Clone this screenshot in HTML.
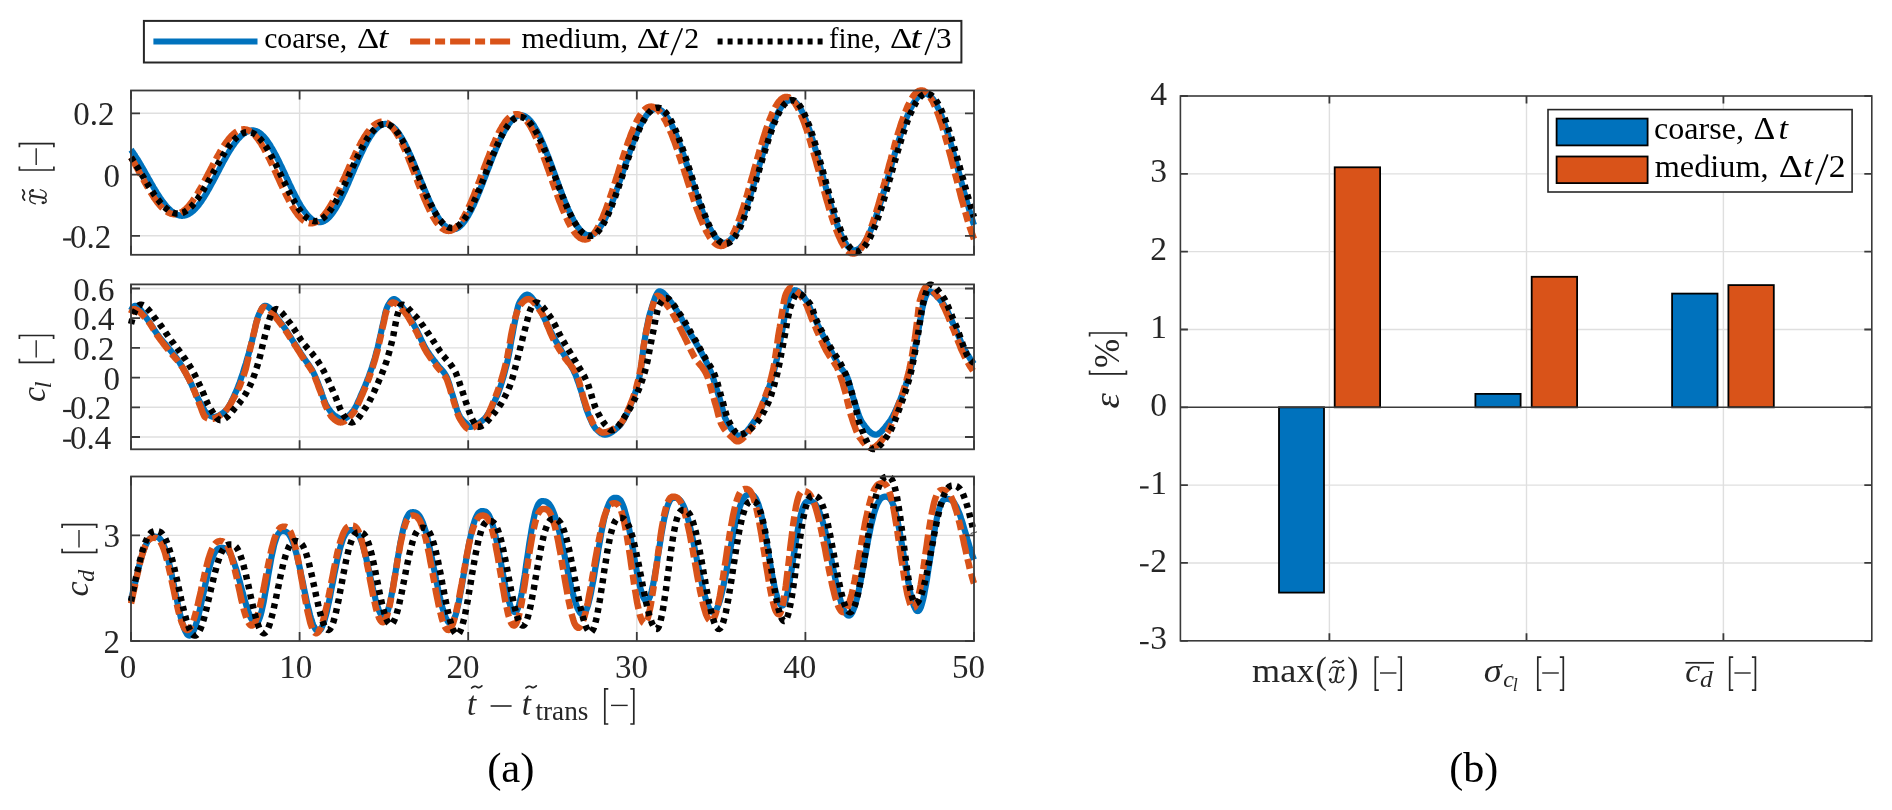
<!DOCTYPE html><html><head><meta charset="utf-8"><style>html,body{margin:0;padding:0;background:#fff;}svg{display:block;will-change:transform;}</style></head><body><svg width="1892" height="810" viewBox="0 0 1892 810">
<rect x="0" y="0" width="1892" height="810" fill="#ffffff"/>
<line x1="299.6" y1="90.5" x2="299.6" y2="254.8" stroke="#DFDFDF" stroke-width="1.4"/>
<line x1="468.2" y1="90.5" x2="468.2" y2="254.8" stroke="#DFDFDF" stroke-width="1.4"/>
<line x1="636.8" y1="90.5" x2="636.8" y2="254.8" stroke="#DFDFDF" stroke-width="1.4"/>
<line x1="805.4" y1="90.5" x2="805.4" y2="254.8" stroke="#DFDFDF" stroke-width="1.4"/>
<line x1="131.0" y1="113.3" x2="974.0" y2="113.3" stroke="#DFDFDF" stroke-width="1.4"/>
<line x1="131.0" y1="174.6" x2="974.0" y2="174.6" stroke="#DFDFDF" stroke-width="1.4"/>
<line x1="131.0" y1="235.8" x2="974.0" y2="235.8" stroke="#DFDFDF" stroke-width="1.4"/>
<line x1="299.6" y1="284.4" x2="299.6" y2="449.3" stroke="#DFDFDF" stroke-width="1.4"/>
<line x1="468.2" y1="284.4" x2="468.2" y2="449.3" stroke="#DFDFDF" stroke-width="1.4"/>
<line x1="636.8" y1="284.4" x2="636.8" y2="449.3" stroke="#DFDFDF" stroke-width="1.4"/>
<line x1="805.4" y1="284.4" x2="805.4" y2="449.3" stroke="#DFDFDF" stroke-width="1.4"/>
<line x1="131.0" y1="288.5" x2="974.0" y2="288.5" stroke="#DFDFDF" stroke-width="1.4"/>
<line x1="131.0" y1="318.2" x2="974.0" y2="318.2" stroke="#DFDFDF" stroke-width="1.4"/>
<line x1="131.0" y1="347.9" x2="974.0" y2="347.9" stroke="#DFDFDF" stroke-width="1.4"/>
<line x1="131.0" y1="377.6" x2="974.0" y2="377.6" stroke="#DFDFDF" stroke-width="1.4"/>
<line x1="131.0" y1="407.3" x2="974.0" y2="407.3" stroke="#DFDFDF" stroke-width="1.4"/>
<line x1="131.0" y1="437.0" x2="974.0" y2="437.0" stroke="#DFDFDF" stroke-width="1.4"/>
<line x1="299.6" y1="476.5" x2="299.6" y2="641.0" stroke="#DFDFDF" stroke-width="1.4"/>
<line x1="468.2" y1="476.5" x2="468.2" y2="641.0" stroke="#DFDFDF" stroke-width="1.4"/>
<line x1="636.8" y1="476.5" x2="636.8" y2="641.0" stroke="#DFDFDF" stroke-width="1.4"/>
<line x1="805.4" y1="476.5" x2="805.4" y2="641.0" stroke="#DFDFDF" stroke-width="1.4"/>
<line x1="131.0" y1="535.4" x2="974.0" y2="535.4" stroke="#DFDFDF" stroke-width="1.4"/>
<defs>
<clipPath id="c0"><rect x="128.0" y="82.5" width="849.0" height="180.3"/></clipPath>
<clipPath id="c1"><rect x="128.0" y="276.4" width="849.0" height="180.90000000000003"/></clipPath>
<clipPath id="c2"><rect x="128.0" y="468.5" width="849.0" height="180.5"/></clipPath>
</defs>
<polyline points="131.0,149.8 131.8,150.8 132.5,151.9 133.2,152.9 134.0,154.0 134.8,155.1 135.5,156.3 136.2,157.4 137.0,158.6 137.8,159.8 138.5,161.1 139.2,162.3 140.0,163.5 140.8,164.8 141.5,166.1 142.2,167.4 143.0,168.7 143.8,170.0 144.5,171.3 145.2,172.7 146.0,174.0 146.8,175.3 147.5,176.6 148.2,178.0 149.0,179.3 149.8,180.6 150.5,182.0 151.2,183.3 152.0,184.6 152.8,185.9 153.5,187.2 154.2,188.4 155.0,189.7 155.8,190.9 156.5,192.2 157.2,193.4 158.0,194.6 158.8,195.7 159.5,196.9 160.2,198.0 161.0,199.1 161.8,200.2 162.5,201.2 163.2,202.2 164.0,203.2 164.8,204.2 165.5,205.1 166.2,206.0 167.0,206.9 167.8,207.7 168.5,208.5 169.2,209.2 170.0,209.9 170.8,210.6 171.5,211.3 172.2,211.9 173.0,212.4 173.8,212.9 174.5,213.4 175.2,213.8 176.0,214.2 176.8,214.6 177.5,214.9 178.2,215.1 179.0,215.4 179.8,215.5 180.5,215.7 181.2,215.8 182.0,215.8 182.8,215.8 183.5,215.7 184.2,215.6 185.0,215.5 185.8,215.3 186.5,215.0 187.2,214.8 188.0,214.4 188.8,214.0 189.5,213.6 190.2,213.1 191.0,212.6 191.8,212.0 192.5,211.4 193.2,210.8 194.0,210.1 194.8,209.3 195.5,208.6 196.2,207.7 197.0,206.9 197.8,206.0 198.5,205.1 199.2,204.1 200.0,203.1 200.8,202.1 201.5,201.0 202.2,199.9 203.0,198.8 203.8,197.6 204.5,196.4 205.2,195.2 206.0,194.0 206.8,192.7 207.5,191.4 208.2,190.1 209.0,188.8 209.8,187.4 210.5,186.1 211.2,184.7 212.0,183.3 212.8,181.9 213.5,180.5 214.2,179.1 215.0,177.7 215.8,176.3 216.5,174.8 217.2,173.4 218.0,172.0 218.8,170.5 219.5,169.1 220.2,167.7 221.0,166.3 221.8,164.8 222.5,163.4 223.2,162.0 224.0,160.7 224.8,159.3 225.5,158.0 226.2,156.6 227.0,155.3 227.8,154.0 228.5,152.8 229.2,151.5 230.0,150.3 230.8,149.1 231.5,147.9 232.2,146.8 233.0,145.7 233.8,144.6 234.5,143.5 235.2,142.5 236.0,141.5 236.8,140.6 237.5,139.7 238.2,138.8 239.0,138.0 239.8,137.2 240.5,136.4 241.2,135.7 242.0,135.0 242.8,134.4 243.5,133.8 244.2,133.3 245.0,132.8 245.8,132.3 246.5,131.9 247.2,131.6 248.0,131.3 248.8,131.0 249.5,130.8 250.2,130.6 251.0,130.5 251.8,130.4 252.5,130.4 253.2,130.4 254.0,130.5 254.8,130.7 255.5,130.9 256.2,131.1 257.0,131.4 257.8,131.8 258.5,132.2 259.2,132.7 260.0,133.2 260.8,133.8 261.5,134.4 262.2,135.1 263.0,135.9 263.8,136.6 264.5,137.5 265.2,138.4 266.0,139.3 266.8,140.3 267.5,141.3 268.2,142.4 269.0,143.5 269.8,144.6 270.5,145.8 271.2,147.0 272.0,148.3 272.8,149.6 273.5,150.9 274.2,152.3 275.0,153.7 275.8,155.1 276.5,156.5 277.2,158.0 278.0,159.5 278.8,161.0 279.5,162.5 280.2,164.1 281.0,165.6 281.8,167.2 282.5,168.8 283.2,170.4 284.0,172.0 284.8,173.6 285.5,175.2 286.2,176.8 287.0,178.5 287.8,180.1 288.5,181.7 289.2,183.3 290.0,184.9 290.8,186.4 291.5,188.0 292.2,189.6 293.0,191.1 293.8,192.6 294.5,194.1 295.2,195.6 296.0,197.0 296.8,198.5 297.5,199.9 298.2,201.2 299.0,202.6 299.8,203.9 300.5,205.2 301.2,206.4 302.0,207.6 302.8,208.8 303.5,209.9 304.2,211.0 305.0,212.0 305.8,213.0 306.5,213.9 307.2,214.8 308.0,215.7 308.8,216.5 309.5,217.2 310.2,217.9 311.0,218.6 311.8,219.2 312.5,219.7 313.2,220.2 314.0,220.7 314.8,221.1 315.5,221.4 316.2,221.7 317.0,221.9 317.8,222.0 318.5,222.1 319.2,222.2 320.0,222.2 320.8,222.1 321.5,222.0 322.2,221.8 323.0,221.5 323.8,221.2 324.5,220.8 325.2,220.4 326.0,219.9 326.8,219.3 327.5,218.7 328.2,218.0 329.0,217.3 329.8,216.5 330.5,215.7 331.2,214.8 332.0,213.8 332.8,212.8 333.5,211.8 334.2,210.7 335.0,209.5 335.8,208.3 336.5,207.1 337.2,205.8 338.0,204.5 338.8,203.1 339.5,201.7 340.2,200.3 341.0,198.8 341.8,197.3 342.5,195.8 343.2,194.2 344.0,192.6 344.8,191.0 345.5,189.4 346.2,187.7 347.0,186.1 347.8,184.4 348.5,182.7 349.2,180.9 350.0,179.2 350.8,177.5 351.5,175.7 352.2,174.0 353.0,172.2 353.8,170.5 354.5,168.7 355.2,167.0 356.0,165.3 356.8,163.6 357.5,161.9 358.2,160.2 359.0,158.5 359.8,156.8 360.5,155.2 361.2,153.6 362.0,152.0 362.8,150.4 363.5,148.9 364.2,147.4 365.0,145.9 365.8,144.5 366.5,143.1 367.2,141.7 368.0,140.4 368.8,139.1 369.5,137.8 370.2,136.6 371.0,135.5 371.8,134.4 372.5,133.3 373.2,132.3 374.0,131.4 374.8,130.5 375.5,129.6 376.2,128.8 377.0,128.1 377.8,127.4 378.5,126.8 379.2,126.2 380.0,125.7 380.8,125.3 381.5,124.9 382.2,124.6 383.0,124.3 383.8,124.1 384.5,124.0 385.2,123.9 386.0,123.9 386.8,124.0 387.5,124.1 388.2,124.2 389.0,124.5 389.8,124.8 390.5,125.2 391.2,125.6 392.0,126.1 392.8,126.7 393.5,127.3 394.2,128.0 395.0,128.7 395.8,129.5 396.5,130.4 397.2,131.3 398.0,132.3 398.8,133.3 399.5,134.4 400.2,135.6 401.0,136.7 401.8,138.0 402.5,139.3 403.2,140.6 404.0,142.0 404.8,143.4 405.5,144.8 406.2,146.3 407.0,147.9 407.8,149.5 408.5,151.1 409.2,152.7 410.0,154.4 410.8,156.1 411.5,157.8 412.2,159.5 413.0,161.3 413.8,163.1 414.5,164.9 415.2,166.7 416.0,168.5 416.8,170.4 417.5,172.2 418.2,174.1 419.0,175.9 419.8,177.8 420.5,179.6 421.2,181.5 422.0,183.3 422.8,185.1 423.5,187.0 424.2,188.8 425.0,190.6 425.8,192.4 426.5,194.1 427.2,195.9 428.0,197.6 428.8,199.3 429.5,200.9 430.2,202.6 431.0,204.2 431.8,205.7 432.5,207.3 433.2,208.7 434.0,210.2 434.8,211.6 435.5,213.0 436.2,214.3 437.0,215.6 437.8,216.8 438.5,218.0 439.2,219.1 440.0,220.2 440.8,221.2 441.5,222.2 442.2,223.1 443.0,223.9 443.8,224.7 444.5,225.5 445.2,226.1 446.0,226.7 446.8,227.3 447.5,227.8 448.2,228.2 449.0,228.6 449.8,228.9 450.5,229.1 451.2,229.3 452.0,229.4 452.8,229.4 453.5,229.4 454.2,229.3 455.0,229.1 455.8,228.9 456.5,228.6 457.2,228.2 458.0,227.8 458.8,227.3 459.5,226.7 460.2,226.1 461.0,225.4 461.8,224.6 462.5,223.8 463.2,222.9 464.0,222.0 464.8,220.9 465.5,219.9 466.2,218.8 467.0,217.6 467.8,216.4 468.5,215.1 469.2,213.7 470.0,212.4 470.8,210.9 471.5,209.5 472.2,207.9 473.0,206.4 473.8,204.8 474.5,203.1 475.2,201.4 476.0,199.7 476.8,198.0 477.5,196.2 478.2,194.4 479.0,192.6 479.8,190.7 480.5,188.8 481.2,186.9 482.0,185.0 482.8,183.1 483.5,181.1 484.2,179.2 485.0,177.2 485.8,175.2 486.5,173.3 487.2,171.3 488.0,169.3 488.8,167.4 489.5,165.4 490.2,163.4 491.0,161.5 491.8,159.6 492.5,157.6 493.2,155.7 494.0,153.9 494.8,152.0 495.5,150.2 496.2,148.4 497.0,146.6 497.8,144.9 498.5,143.1 499.2,141.5 500.0,139.8 500.8,138.2 501.5,136.7 502.2,135.1 503.0,133.7 503.8,132.2 504.5,130.9 505.2,129.5 506.0,128.3 506.8,127.0 507.5,125.9 508.2,124.7 509.0,123.7 509.8,122.7 510.5,121.7 511.2,120.9 512.0,120.0 512.8,119.3 513.5,118.6 514.2,118.0 515.0,117.4 515.8,116.9 516.5,116.5 517.2,116.1 518.0,115.8 518.8,115.6 519.5,115.4 520.2,115.3 521.0,115.3 521.8,115.3 522.5,115.5 523.2,115.6 524.0,115.9 524.8,116.2 525.5,116.6 526.2,117.1 527.0,117.6 527.8,118.2 528.5,118.9 529.2,119.7 530.0,120.5 530.8,121.3 531.5,122.3 532.2,123.3 533.0,124.3 533.8,125.4 534.5,126.6 535.2,127.9 536.0,129.1 536.8,130.5 537.5,131.9 538.2,133.3 539.0,134.8 539.8,136.4 540.5,138.0 541.2,139.6 542.0,141.3 542.8,143.0 543.5,144.8 544.2,146.6 545.0,148.4 545.8,150.3 546.5,152.2 547.2,154.1 548.0,156.0 548.8,158.0 549.5,160.0 550.2,162.0 551.0,164.0 551.8,166.1 552.5,168.1 553.2,170.2 554.0,172.2 554.8,174.3 555.5,176.4 556.2,178.4 557.0,180.5 557.8,182.5 558.5,184.6 559.2,186.6 560.0,188.6 560.8,190.6 561.5,192.6 562.2,194.6 563.0,196.5 563.8,198.4 564.5,200.3 565.2,202.2 566.0,204.0 566.8,205.8 567.5,207.6 568.2,209.3 569.0,211.0 569.8,212.6 570.5,214.2 571.2,215.8 572.0,217.2 572.8,218.7 573.5,220.1 574.2,221.4 575.0,222.7 575.8,224.0 576.5,225.1 577.2,226.3 578.0,227.3 578.8,228.3 579.5,229.2 580.2,230.1 581.0,230.9 581.8,231.6 582.5,232.3 583.2,232.9 584.0,233.4 584.8,233.9 585.5,234.3 586.2,234.6 587.0,234.9 587.8,235.0 588.5,235.2 589.2,235.2 590.0,235.2 590.8,235.1 591.5,234.9 592.2,234.6 593.0,234.3 593.8,233.8 594.5,233.3 595.2,232.8 596.0,232.1 596.8,231.4 597.5,230.6 598.2,229.7 599.0,228.8 599.8,227.8 600.5,226.7 601.2,225.5 602.0,224.3 602.8,223.0 603.5,221.7 604.2,220.3 605.0,218.8 605.8,217.3 606.5,215.7 607.2,214.1 608.0,212.4 608.8,210.7 609.5,208.9 610.2,207.1 611.0,205.2 611.8,203.3 612.5,201.4 613.2,199.4 614.0,197.3 614.8,195.3 615.5,193.2 616.2,191.1 617.0,189.0 617.8,186.8 618.5,184.7 619.2,182.5 620.0,180.3 620.8,178.1 621.5,175.9 622.2,173.6 623.0,171.4 623.8,169.2 624.5,167.0 625.2,164.8 626.0,162.6 626.8,160.4 627.5,158.2 628.2,156.0 629.0,153.9 629.8,151.8 630.5,149.7 631.2,147.6 632.0,145.6 632.8,143.6 633.5,141.6 634.2,139.7 635.0,137.8 635.8,135.9 636.5,134.1 637.2,132.4 638.0,130.7 638.8,129.0 639.5,127.4 640.2,125.9 641.0,124.4 641.8,122.9 642.5,121.6 643.2,120.3 644.0,119.0 644.8,117.8 645.5,116.7 646.2,115.7 647.0,114.7 647.8,113.8 648.5,113.0 649.2,112.2 650.0,111.5 650.8,110.9 651.5,110.4 652.2,109.9 653.0,109.6 653.8,109.3 654.5,109.0 655.2,108.9 656.0,108.8 656.8,108.8 657.5,108.9 658.2,109.1 659.0,109.3 659.8,109.6 660.5,110.1 661.2,110.5 662.0,111.1 662.8,111.7 663.5,112.5 664.2,113.3 665.0,114.1 665.8,115.1 666.5,116.1 667.2,117.2 668.0,118.3 668.8,119.6 669.5,120.8 670.2,122.2 671.0,123.6 671.8,125.1 672.5,126.7 673.2,128.3 674.0,129.9 674.8,131.6 675.5,133.4 676.2,135.2 677.0,137.1 677.8,139.0 678.5,141.0 679.2,143.0 680.0,145.0 680.8,147.1 681.5,149.2 682.2,151.3 683.0,153.5 683.8,155.7 684.5,157.9 685.2,160.2 686.0,162.4 686.8,164.7 687.5,167.0 688.2,169.3 689.0,171.6 689.8,173.9 690.5,176.3 691.2,178.6 692.0,180.9 692.8,183.2 693.5,185.5 694.2,187.8 695.0,190.1 695.8,192.3 696.5,194.6 697.2,196.8 698.0,199.0 698.8,201.1 699.5,203.2 700.2,205.3 701.0,207.4 701.8,209.4 702.5,211.4 703.2,213.4 704.0,215.3 704.8,217.1 705.5,218.9 706.2,220.7 707.0,222.3 707.8,224.0 708.5,225.6 709.2,227.1 710.0,228.6 710.8,229.9 711.5,231.3 712.2,232.5 713.0,233.7 713.8,234.9 714.5,235.9 715.2,236.9 716.0,237.8 716.8,238.7 717.5,239.4 718.2,240.1 719.0,240.7 719.8,241.3 720.5,241.7 721.2,242.1 722.0,242.4 722.8,242.6 723.5,242.7 724.2,242.8 725.0,242.8 725.8,242.7 726.5,242.4 727.2,242.2 728.0,241.8 728.8,241.3 729.5,240.7 730.2,240.1 731.0,239.3 731.8,238.5 732.5,237.6 733.2,236.6 734.0,235.5 734.8,234.4 735.5,233.2 736.2,231.8 737.0,230.5 737.8,229.0 738.5,227.5 739.2,225.9 740.0,224.2 740.8,222.4 741.5,220.6 742.2,218.8 743.0,216.8 743.8,214.9 744.5,212.8 745.2,210.7 746.0,208.6 746.8,206.4 747.5,204.2 748.2,201.9 749.0,199.6 749.8,197.2 750.5,194.8 751.2,192.4 752.0,190.0 752.8,187.5 753.5,185.1 754.2,182.6 755.0,180.1 755.8,177.5 756.5,175.0 757.2,172.5 758.0,169.9 758.8,167.4 759.5,164.9 760.2,162.3 761.0,159.8 761.8,157.3 762.5,154.9 763.2,152.4 764.0,150.0 764.8,147.6 765.5,145.2 766.2,142.9 767.0,140.6 767.8,138.3 768.5,136.1 769.2,133.9 770.0,131.8 770.8,129.7 771.5,127.6 772.2,125.7 773.0,123.8 773.8,121.9 774.5,120.1 775.2,118.4 776.0,116.7 776.8,115.1 777.5,113.6 778.2,112.2 779.0,110.8 779.8,109.5 780.5,108.3 781.2,107.1 782.0,106.1 782.8,105.1 783.5,104.2 784.2,103.4 785.0,102.7 785.8,102.1 786.5,101.5 787.2,101.1 788.0,100.7 788.8,100.4 789.5,100.2 790.2,100.1 791.0,100.1 791.8,100.2 792.5,100.4 793.2,100.7 794.0,101.1 794.8,101.6 795.5,102.2 796.2,102.9 797.0,103.7 797.8,104.6 798.5,105.6 799.2,106.7 800.0,107.9 800.8,109.1 801.5,110.5 802.2,112.0 803.0,113.5 803.8,115.1 804.5,116.8 805.2,118.6 806.0,120.5 806.8,122.4 807.5,124.4 808.2,126.5 809.0,128.7 809.8,130.9 810.5,133.2 811.2,135.5 812.0,137.9 812.8,140.3 813.5,142.8 814.2,145.3 815.0,147.9 815.8,150.5 816.5,153.1 817.2,155.8 818.0,158.5 818.8,161.2 819.5,163.9 820.2,166.7 821.0,169.5 821.8,172.2 822.5,175.0 823.2,177.8 824.0,180.6 824.8,183.3 825.5,186.1 826.2,188.8 827.0,191.6 827.8,194.2 828.5,196.9 829.2,199.6 830.0,202.2 830.8,204.8 831.5,207.3 832.2,209.8 833.0,212.2 833.8,214.6 834.5,216.9 835.2,219.2 836.0,221.4 836.8,223.6 837.5,225.7 838.2,227.7 839.0,229.7 839.8,231.5 840.5,233.3 841.2,235.1 842.0,236.7 842.8,238.2 843.5,239.7 844.2,241.1 845.0,242.4 845.8,243.6 846.5,244.7 847.2,245.7 848.0,246.6 848.8,247.4 849.5,248.1 850.2,248.7 851.0,249.2 851.8,249.7 852.5,250.0 853.2,250.2 854.0,250.3 854.8,250.3 855.5,250.2 856.2,250.0 857.0,249.8 857.8,249.4 858.5,249.0 859.2,248.5 860.0,247.9 860.8,247.2 861.5,246.4 862.2,245.5 863.0,244.6 863.8,243.6 864.5,242.5 865.2,241.3 866.0,240.0 866.8,238.7 867.5,237.3 868.2,235.8 869.0,234.2 869.8,232.6 870.5,230.9 871.2,229.1 872.0,227.3 872.8,225.4 873.5,223.5 874.2,221.4 875.0,219.4 875.8,217.3 876.5,215.1 877.2,212.9 878.0,210.6 878.8,208.3 879.5,206.0 880.2,203.6 881.0,201.2 881.8,198.7 882.5,196.2 883.2,193.7 884.0,191.2 884.8,188.6 885.5,186.1 886.2,183.5 887.0,180.9 887.8,178.2 888.5,175.6 889.2,173.0 890.0,170.4 890.8,167.8 891.5,165.1 892.2,162.5 893.0,159.9 893.8,157.3 894.5,154.8 895.2,152.2 896.0,149.7 896.8,147.2 897.5,144.7 898.2,142.3 899.0,139.8 899.8,137.5 900.5,135.1 901.2,132.8 902.0,130.6 902.8,128.4 903.5,126.2 904.2,124.1 905.0,122.1 905.8,120.1 906.5,118.1 907.2,116.2 908.0,114.4 908.8,112.7 909.5,111.0 910.2,109.4 911.0,107.8 911.8,106.4 912.5,105.0 913.2,103.6 914.0,102.4 914.8,101.2 915.5,100.1 916.2,99.1 917.0,98.2 917.8,97.3 918.5,96.6 919.2,95.9 920.0,95.3 920.8,94.8 921.5,94.4 922.2,94.1 923.0,93.8 923.8,93.7 924.5,93.6 925.2,93.6 926.0,93.7 926.8,93.9 927.5,94.2 928.2,94.6 929.0,95.1 929.8,95.7 930.5,96.4 931.2,97.1 932.0,98.0 932.8,98.9 933.5,99.9 934.2,101.0 935.0,102.2 935.8,103.5 936.5,104.8 937.2,106.3 938.0,107.8 938.8,109.4 939.5,111.0 940.2,112.8 941.0,114.6 941.8,116.4 942.5,118.4 943.2,120.4 944.0,122.5 944.8,124.6 945.5,126.8 946.2,129.0 947.0,131.3 947.8,133.7 948.5,136.1 949.2,138.5 950.0,141.0 950.8,143.5 951.5,146.1 952.2,148.7 953.0,151.3 953.8,154.0 954.5,156.6 955.2,159.3 956.0,162.0 956.8,164.8 957.5,167.5 958.2,170.3 959.0,173.1 959.8,175.8 960.5,178.6 961.2,181.4 962.0,184.1 962.8,186.9 963.5,189.6 964.2,192.3 965.0,195.0 965.8,197.7 966.5,200.4 967.2,203.0 968.0,205.6 968.8,208.2 969.5,210.7 970.2,213.2 971.0,215.7 971.8,218.1 972.5,220.4 973.2,222.7 974.0,225.0" fill="none" stroke="#0072BD" stroke-width="6.2" stroke-linejoin="round" clip-path="url(#c0)"/>
<polyline points="131.0,157.4 131.8,158.7 132.5,160.0 133.2,161.3 134.0,162.6 134.8,163.9 135.5,165.3 136.2,166.6 137.0,168.0 137.8,169.4 138.5,170.7 139.2,172.1 140.0,173.5 140.8,174.9 141.5,176.2 142.2,177.6 143.0,179.0 143.8,180.4 144.5,181.7 145.2,183.1 146.0,184.4 146.8,185.7 147.5,187.0 148.2,188.3 149.0,189.6 149.8,190.9 150.5,192.1 151.2,193.3 152.0,194.5 152.8,195.7 153.5,196.8 154.2,198.0 155.0,199.0 155.8,200.1 156.5,201.1 157.2,202.1 158.0,203.1 158.8,204.0 159.5,204.9 160.2,205.8 161.0,206.6 161.8,207.4 162.5,208.1 163.2,208.8 164.0,209.5 164.8,210.1 165.5,210.7 166.2,211.3 167.0,211.7 167.8,212.2 168.5,212.6 169.2,213.0 170.0,213.3 170.8,213.6 171.5,213.8 172.2,213.9 173.0,214.1 173.8,214.2 174.5,214.2 175.2,214.2 176.0,214.1 176.8,214.0 177.5,213.9 178.2,213.6 179.0,213.4 179.8,213.1 180.5,212.7 181.2,212.3 182.0,211.9 182.8,211.4 183.5,210.9 184.2,210.3 185.0,209.6 185.8,209.0 186.5,208.3 187.2,207.5 188.0,206.7 188.8,205.9 189.5,205.0 190.2,204.1 191.0,203.1 191.8,202.1 192.5,201.1 193.2,200.0 194.0,198.9 194.8,197.8 195.5,196.6 196.2,195.5 197.0,194.2 197.8,193.0 198.5,191.7 199.2,190.5 200.0,189.1 200.8,187.8 201.5,186.5 202.2,185.1 203.0,183.7 203.8,182.3 204.5,180.9 205.2,179.5 206.0,178.1 206.8,176.7 207.5,175.2 208.2,173.8 209.0,172.3 209.8,170.9 210.5,169.4 211.2,168.0 212.0,166.6 212.8,165.1 213.5,163.7 214.2,162.3 215.0,160.9 215.8,159.5 216.5,158.1 217.2,156.8 218.0,155.4 218.8,154.1 219.5,152.8 220.2,151.5 221.0,150.2 221.8,149.0 222.5,147.8 223.2,146.6 224.0,145.5 224.8,144.4 225.5,143.3 226.2,142.2 227.0,141.2 227.8,140.2 228.5,139.3 229.2,138.3 230.0,137.5 230.8,136.6 231.5,135.9 232.2,135.1 233.0,134.4 233.8,133.7 234.5,133.1 235.2,132.5 236.0,132.0 236.8,131.5 237.5,131.1 238.2,130.7 239.0,130.3 239.8,130.1 240.5,129.8 241.2,129.6 242.0,129.5 242.8,129.4 243.5,129.3 244.2,129.3 245.0,129.4 245.8,129.5 246.5,129.6 247.2,129.9 248.0,130.2 248.8,130.5 249.5,130.9 250.2,131.4 251.0,131.9 251.8,132.4 252.5,133.1 253.2,133.7 254.0,134.5 254.8,135.3 255.5,136.1 256.2,137.0 257.0,137.9 257.8,138.9 258.5,139.9 259.2,141.0 260.0,142.1 260.8,143.2 261.5,144.4 262.2,145.7 263.0,146.9 263.8,148.2 264.5,149.6 265.2,150.9 266.0,152.4 266.8,153.8 267.5,155.3 268.2,156.7 269.0,158.3 269.8,159.8 270.5,161.4 271.2,162.9 272.0,164.5 272.8,166.1 273.5,167.8 274.2,169.4 275.0,171.0 275.8,172.7 276.5,174.3 277.2,176.0 278.0,177.6 278.8,179.3 279.5,180.9 280.2,182.6 281.0,184.2 281.8,185.8 282.5,187.4 283.2,189.0 284.0,190.6 284.8,192.2 285.5,193.7 286.2,195.2 287.0,196.7 287.8,198.2 288.5,199.7 289.2,201.1 290.0,202.5 290.8,203.8 291.5,205.2 292.2,206.4 293.0,207.7 293.8,208.9 294.5,210.1 295.2,211.2 296.0,212.3 296.8,213.3 297.5,214.3 298.2,215.3 299.0,216.2 299.8,217.0 300.5,217.8 301.2,218.6 302.0,219.3 302.8,219.9 303.5,220.5 304.2,221.0 305.0,221.5 305.8,221.9 306.5,222.3 307.2,222.6 308.0,222.9 308.8,223.1 309.5,223.2 310.2,223.3 311.0,223.3 311.8,223.3 312.5,223.2 313.2,223.0 314.0,222.8 314.8,222.6 315.5,222.3 316.2,221.9 317.0,221.5 317.8,221.0 318.5,220.5 319.2,219.9 320.0,219.3 320.8,218.6 321.5,217.9 322.2,217.1 323.0,216.3 323.8,215.4 324.5,214.5 325.2,213.6 326.0,212.6 326.8,211.5 327.5,210.4 328.2,209.3 329.0,208.1 329.8,206.9 330.5,205.6 331.2,204.4 332.0,203.0 332.8,201.7 333.5,200.3 334.2,198.9 335.0,197.4 335.8,196.0 336.5,194.5 337.2,193.0 338.0,191.4 338.8,189.9 339.5,188.3 340.2,186.7 341.0,185.1 341.8,183.4 342.5,181.8 343.2,180.2 344.0,178.5 344.8,176.8 345.5,175.2 346.2,173.5 347.0,171.8 347.8,170.2 348.5,168.5 349.2,166.8 350.0,165.2 350.8,163.5 351.5,161.9 352.2,160.3 353.0,158.6 353.8,157.0 354.5,155.5 355.2,153.9 356.0,152.3 356.8,150.8 357.5,149.3 358.2,147.8 359.0,146.4 359.8,145.0 360.5,143.6 361.2,142.2 362.0,140.9 362.8,139.6 363.5,138.4 364.2,137.1 365.0,136.0 365.8,134.8 366.5,133.7 367.2,132.7 368.0,131.6 368.8,130.7 369.5,129.7 370.2,128.9 371.0,128.0 371.8,127.2 372.5,126.5 373.2,125.8 374.0,125.2 374.8,124.6 375.5,124.1 376.2,123.6 377.0,123.2 377.8,122.8 378.5,122.5 379.2,122.2 380.0,122.0 380.8,121.8 381.5,121.7 382.2,121.7 383.0,121.7 383.8,121.8 384.5,121.9 385.2,122.2 386.0,122.5 386.8,122.8 387.5,123.2 388.2,123.7 389.0,124.3 389.8,124.9 390.5,125.6 391.2,126.4 392.0,127.2 392.8,128.1 393.5,129.0 394.2,130.0 395.0,131.1 395.8,132.2 396.5,133.4 397.2,134.6 398.0,135.9 398.8,137.2 399.5,138.6 400.2,140.1 401.0,141.5 401.8,143.1 402.5,144.6 403.2,146.2 404.0,147.9 404.8,149.6 405.5,151.3 406.2,153.0 407.0,154.8 407.8,156.6 408.5,158.4 409.2,160.3 410.0,162.2 410.8,164.1 411.5,166.0 412.2,167.9 413.0,169.8 413.8,171.8 414.5,173.7 415.2,175.7 416.0,177.6 416.8,179.5 417.5,181.5 418.2,183.4 419.0,185.4 419.8,187.3 420.5,189.2 421.2,191.1 422.0,192.9 422.8,194.8 423.5,196.6 424.2,198.4 425.0,200.2 425.8,201.9 426.5,203.6 427.2,205.3 428.0,206.9 428.8,208.5 429.5,210.1 430.2,211.6 431.0,213.0 431.8,214.4 432.5,215.8 433.2,217.1 434.0,218.4 434.8,219.6 435.5,220.8 436.2,221.9 437.0,222.9 437.8,223.9 438.5,224.8 439.2,225.7 440.0,226.5 440.8,227.2 441.5,227.9 442.2,228.5 443.0,229.0 443.8,229.5 444.5,229.9 445.2,230.2 446.0,230.5 446.8,230.7 447.5,230.8 448.2,230.9 449.0,230.9 449.8,230.8 450.5,230.7 451.2,230.4 452.0,230.1 452.8,229.8 453.5,229.4 454.2,228.9 455.0,228.3 455.8,227.7 456.5,227.0 457.2,226.2 458.0,225.4 458.8,224.5 459.5,223.5 460.2,222.5 461.0,221.4 461.8,220.3 462.5,219.1 463.2,217.9 464.0,216.6 464.8,215.2 465.5,213.8 466.2,212.4 467.0,210.9 467.8,209.3 468.5,207.7 469.2,206.1 470.0,204.4 470.8,202.7 471.5,200.9 472.2,199.2 473.0,197.3 473.8,195.5 474.5,193.6 475.2,191.7 476.0,189.8 476.8,187.9 477.5,185.9 478.2,183.9 479.0,181.9 479.8,179.9 480.5,177.9 481.2,175.9 482.0,173.9 482.8,171.9 483.5,169.9 484.2,167.8 485.0,165.8 485.8,163.8 486.5,161.8 487.2,159.8 488.0,157.9 488.8,155.9 489.5,154.0 490.2,152.1 491.0,150.2 491.8,148.4 492.5,146.5 493.2,144.7 494.0,143.0 494.8,141.3 495.5,139.6 496.2,137.9 497.0,136.3 497.8,134.8 498.5,133.2 499.2,131.8 500.0,130.3 500.8,129.0 501.5,127.7 502.2,126.4 503.0,125.2 503.8,124.0 504.5,122.9 505.2,121.9 506.0,120.9 506.8,120.0 507.5,119.2 508.2,118.4 509.0,117.7 509.8,117.0 510.5,116.4 511.2,115.9 512.0,115.5 512.8,115.1 513.5,114.8 514.2,114.5 515.0,114.3 515.8,114.2 516.5,114.2 517.2,114.2 518.0,114.3 518.8,114.5 519.5,114.8 520.2,115.1 521.0,115.5 521.8,116.0 522.5,116.6 523.2,117.2 524.0,117.9 524.8,118.6 525.5,119.5 526.2,120.4 527.0,121.3 527.8,122.4 528.5,123.5 529.2,124.6 530.0,125.8 530.8,127.1 531.5,128.4 532.2,129.8 533.0,131.3 533.8,132.8 534.5,134.4 535.2,136.0 536.0,137.6 536.8,139.3 537.5,141.1 538.2,142.9 539.0,144.7 539.8,146.6 540.5,148.5 541.2,150.4 542.0,152.4 542.8,154.4 543.5,156.4 544.2,158.4 545.0,160.5 545.8,162.6 546.5,164.7 547.2,166.8 548.0,169.0 548.8,171.1 549.5,173.3 550.2,175.4 551.0,177.6 551.8,179.7 552.5,181.9 553.2,184.0 554.0,186.2 554.8,188.3 555.5,190.4 556.2,192.5 557.0,194.6 557.8,196.6 558.5,198.7 559.2,200.7 560.0,202.6 560.8,204.6 561.5,206.5 562.2,208.4 563.0,210.2 563.8,212.0 564.5,213.8 565.2,215.5 566.0,217.2 566.8,218.8 567.5,220.4 568.2,221.9 569.0,223.4 569.8,224.8 570.5,226.2 571.2,227.5 572.0,228.7 572.8,229.9 573.5,231.0 574.2,232.0 575.0,233.0 575.8,233.9 576.5,234.8 577.2,235.6 578.0,236.3 578.8,236.9 579.5,237.5 580.2,238.0 581.0,238.4 581.8,238.8 582.5,239.1 583.2,239.3 584.0,239.4 584.8,239.5 585.5,239.5 586.2,239.4 587.0,239.2 587.8,238.9 588.5,238.6 589.2,238.1 590.0,237.6 590.8,237.0 591.5,236.3 592.2,235.6 593.0,234.7 593.8,233.8 594.5,232.8 595.2,231.7 596.0,230.6 596.8,229.3 597.5,228.0 598.2,226.7 599.0,225.2 599.8,223.7 600.5,222.2 601.2,220.5 602.0,218.8 602.8,217.1 603.5,215.3 604.2,213.4 605.0,211.5 605.8,209.6 606.5,207.5 607.2,205.5 608.0,203.4 608.8,201.3 609.5,199.1 610.2,196.9 611.0,194.7 611.8,192.4 612.5,190.1 613.2,187.8 614.0,185.5 614.8,183.1 615.5,180.8 616.2,178.4 617.0,176.1 617.8,173.7 618.5,171.3 619.2,168.9 620.0,166.6 620.8,164.2 621.5,161.9 622.2,159.5 623.0,157.2 623.8,154.9 624.5,152.6 625.2,150.4 626.0,148.2 626.8,146.0 627.5,143.8 628.2,141.7 629.0,139.6 629.8,137.6 630.5,135.6 631.2,133.7 632.0,131.8 632.8,130.0 633.5,128.2 634.2,126.5 635.0,124.8 635.8,123.2 636.5,121.7 637.2,120.2 638.0,118.8 638.8,117.4 639.5,116.2 640.2,115.0 641.0,113.9 641.8,112.8 642.5,111.9 643.2,111.0 644.0,110.2 644.8,109.4 645.5,108.8 646.2,108.2 647.0,107.7 647.8,107.3 648.5,107.0 649.2,106.8 650.0,106.7 650.8,106.6 651.5,106.6 652.2,106.7 653.0,106.9 653.8,107.2 654.5,107.5 655.2,107.9 656.0,108.4 656.8,109.0 657.5,109.6 658.2,110.3 659.0,111.1 659.8,112.0 660.5,112.9 661.2,113.9 662.0,115.0 662.8,116.2 663.5,117.4 664.2,118.7 665.0,120.0 665.8,121.4 666.5,122.9 667.2,124.4 668.0,126.0 668.8,127.7 669.5,129.4 670.2,131.1 671.0,132.9 671.8,134.8 672.5,136.7 673.2,138.7 674.0,140.6 674.8,142.7 675.5,144.7 676.2,146.8 677.0,149.0 677.8,151.1 678.5,153.3 679.2,155.6 680.0,157.8 680.8,160.1 681.5,162.4 682.2,164.7 683.0,167.0 683.8,169.3 684.5,171.6 685.2,174.0 686.0,176.3 686.8,178.6 687.5,181.0 688.2,183.3 689.0,185.6 689.8,187.9 690.5,190.2 691.2,192.5 692.0,194.8 692.8,197.0 693.5,199.3 694.2,201.5 695.0,203.6 695.8,205.8 696.5,207.9 697.2,209.9 698.0,212.0 698.8,213.9 699.5,215.9 700.2,217.8 701.0,219.7 701.8,221.5 702.5,223.2 703.2,224.9 704.0,226.6 704.8,228.2 705.5,229.7 706.2,231.2 707.0,232.6 707.8,233.9 708.5,235.2 709.2,236.4 710.0,237.6 710.8,238.7 711.5,239.7 712.2,240.6 713.0,241.5 713.8,242.3 714.5,243.0 715.2,243.6 716.0,244.2 716.8,244.7 717.5,245.1 718.2,245.4 719.0,245.7 719.8,245.9 720.5,246.0 721.2,246.0 722.0,245.9 722.8,245.8 723.5,245.5 724.2,245.1 725.0,244.7 725.8,244.1 726.5,243.5 727.2,242.8 728.0,241.9 728.8,241.0 729.5,240.0 730.2,238.9 731.0,237.7 731.8,236.4 732.5,235.0 733.2,233.6 734.0,232.1 734.8,230.4 735.5,228.8 736.2,227.0 737.0,225.2 737.8,223.3 738.5,221.3 739.2,219.3 740.0,217.2 740.8,215.0 741.5,212.8 742.2,210.5 743.0,208.2 743.8,205.8 744.5,203.4 745.2,201.0 746.0,198.5 746.8,196.0 747.5,193.4 748.2,190.8 749.0,188.2 749.8,185.6 750.5,182.9 751.2,180.2 752.0,177.5 752.8,174.9 753.5,172.2 754.2,169.5 755.0,166.8 755.8,164.1 756.5,161.4 757.2,158.8 758.0,156.1 758.8,153.5 759.5,150.9 760.2,148.3 761.0,145.8 761.8,143.3 762.5,140.8 763.2,138.3 764.0,136.0 764.8,133.6 765.5,131.3 766.2,129.1 767.0,126.9 767.8,124.7 768.5,122.7 769.2,120.7 770.0,118.7 770.8,116.9 771.5,115.1 772.2,113.3 773.0,111.7 773.8,110.1 774.5,108.6 775.2,107.2 776.0,105.9 776.8,104.7 777.5,103.5 778.2,102.4 779.0,101.5 779.8,100.6 780.5,99.8 781.2,99.1 782.0,98.5 782.8,98.0 783.5,97.6 784.2,97.3 785.0,97.0 785.8,96.9 786.5,96.9 787.2,97.0 788.0,97.1 788.8,97.4 789.5,97.8 790.2,98.2 791.0,98.8 791.8,99.4 792.5,100.2 793.2,101.0 794.0,102.0 794.8,103.0 795.5,104.1 796.2,105.3 797.0,106.6 797.8,107.9 798.5,109.4 799.2,110.9 800.0,112.5 800.8,114.2 801.5,116.0 802.2,117.8 803.0,119.7 803.8,121.7 804.5,123.7 805.2,125.8 806.0,128.0 806.8,130.2 807.5,132.5 808.2,134.9 809.0,137.2 809.8,139.7 810.5,142.2 811.2,144.7 812.0,147.2 812.8,149.8 813.5,152.4 814.2,155.1 815.0,157.8 815.8,160.5 816.5,163.2 817.2,165.9 818.0,168.6 818.8,171.4 819.5,174.1 820.2,176.9 821.0,179.7 821.8,182.4 822.5,185.1 823.2,187.9 824.0,190.6 824.8,193.3 825.5,195.9 826.2,198.6 827.0,201.2 827.8,203.8 828.5,206.3 829.2,208.8 830.0,211.3 830.8,213.7 831.5,216.1 832.2,218.4 833.0,220.7 833.8,222.9 834.5,225.1 835.2,227.2 836.0,229.2 836.8,231.2 837.5,233.1 838.2,234.9 839.0,236.6 839.8,238.3 840.5,239.9 841.2,241.4 842.0,242.9 842.8,244.2 843.5,245.5 844.2,246.7 845.0,247.7 845.8,248.7 846.5,249.7 847.2,250.5 848.0,251.2 848.8,251.8 849.5,252.4 850.2,252.8 851.0,253.1 851.8,253.4 852.5,253.5 853.2,253.6 854.0,253.6 854.8,253.4 855.5,253.2 856.2,252.8 857.0,252.4 857.8,251.9 858.5,251.3 859.2,250.5 860.0,249.7 860.8,248.8 861.5,247.8 862.2,246.7 863.0,245.6 863.8,244.3 864.5,242.9 865.2,241.5 866.0,240.0 866.8,238.4 867.5,236.7 868.2,235.0 869.0,233.1 869.8,231.2 870.5,229.2 871.2,227.2 872.0,225.1 872.8,222.9 873.5,220.7 874.2,218.4 875.0,216.0 875.8,213.6 876.5,211.2 877.2,208.7 878.0,206.1 878.8,203.5 879.5,200.9 880.2,198.3 881.0,195.6 881.8,192.8 882.5,190.1 883.2,187.3 884.0,184.6 884.8,181.8 885.5,179.0 886.2,176.1 887.0,173.3 887.8,170.5 888.5,167.7 889.2,164.9 890.0,162.0 890.8,159.3 891.5,156.5 892.2,153.7 893.0,151.0 893.8,148.3 894.5,145.6 895.2,142.9 896.0,140.3 896.8,137.7 897.5,135.2 898.2,132.7 899.0,130.2 899.8,127.8 900.5,125.5 901.2,123.2 902.0,121.0 902.8,118.8 903.5,116.7 904.2,114.6 905.0,112.7 905.8,110.8 906.5,108.9 907.2,107.2 908.0,105.5 908.8,103.9 909.5,102.4 910.2,101.0 911.0,99.6 911.8,98.4 912.5,97.2 913.2,96.1 914.0,95.1 914.8,94.2 915.5,93.4 916.2,92.7 917.0,92.1 917.8,91.6 918.5,91.1 919.2,90.8 920.0,90.6 920.8,90.4 921.5,90.4 922.2,90.5 923.0,90.6 923.8,90.9 924.5,91.3 925.2,91.7 926.0,92.3 926.8,93.0 927.5,93.7 928.2,94.6 929.0,95.6 929.8,96.6 930.5,97.8 931.2,99.0 932.0,100.3 932.8,101.7 933.5,103.3 934.2,104.8 935.0,106.5 935.8,108.3 936.5,110.1 937.2,112.0 938.0,114.0 938.8,116.1 939.5,118.2 940.2,120.4 941.0,122.7 941.8,125.0 942.5,127.4 943.2,129.9 944.0,132.4 944.8,135.0 945.5,137.6 946.2,140.2 947.0,142.9 947.8,145.6 948.5,148.4 949.2,151.2 950.0,154.0 950.8,156.9 951.5,159.7 952.2,162.6 953.0,165.5 953.8,168.4 954.5,171.4 955.2,174.3 956.0,177.2 956.8,180.1 957.5,183.1 958.2,186.0 959.0,188.9 959.8,191.8 960.5,194.6 961.2,197.5 962.0,200.3 962.8,203.0 963.5,205.8 964.2,208.5 965.0,211.2 965.8,213.8 966.5,216.4 967.2,218.9 968.0,221.4 968.8,223.8 969.5,226.2 970.2,228.5 971.0,230.7 971.8,232.9 972.5,235.0 973.2,237.0 974.0,239.0" fill="none" stroke="#D95319" stroke-width="6.5" stroke-dasharray="20 5 10 5" stroke-linejoin="round" clip-path="url(#c0)"/>
<polyline points="131.0,157.4 131.8,158.5 132.5,159.6 133.2,160.7 134.0,161.9 134.8,163.0 135.5,164.2 136.2,165.4 137.0,166.6 137.8,167.8 138.5,169.0 139.2,170.3 140.0,171.5 140.8,172.7 141.5,174.0 142.2,175.2 143.0,176.5 143.8,177.7 144.5,179.0 145.2,180.2 146.0,181.5 146.8,182.7 147.5,183.9 148.2,185.2 149.0,186.4 149.8,187.6 150.5,188.8 151.2,189.9 152.0,191.1 152.8,192.2 153.5,193.4 154.2,194.5 155.0,195.5 155.8,196.6 156.5,197.6 157.2,198.7 158.0,199.6 158.8,200.6 159.5,201.5 160.2,202.4 161.0,203.3 161.8,204.2 162.5,205.0 163.2,205.8 164.0,206.5 164.8,207.2 165.5,207.9 166.2,208.6 167.0,209.2 167.8,209.7 168.5,210.3 169.2,210.8 170.0,211.2 170.8,211.7 171.5,212.0 172.2,212.4 173.0,212.7 173.8,212.9 174.5,213.1 175.2,213.3 176.0,213.5 176.8,213.5 177.5,213.6 178.2,213.6 179.0,213.6 179.8,213.5 180.5,213.3 181.2,213.2 182.0,212.9 182.8,212.7 183.5,212.4 184.2,212.0 185.0,211.6 185.8,211.2 186.5,210.7 187.2,210.2 188.0,209.6 188.8,209.0 189.5,208.3 190.2,207.6 191.0,206.9 191.8,206.1 192.5,205.3 193.2,204.5 194.0,203.6 194.8,202.7 195.5,201.7 196.2,200.7 197.0,199.7 197.8,198.7 198.5,197.6 199.2,196.5 200.0,195.4 200.8,194.2 201.5,193.1 202.2,191.9 203.0,190.6 203.8,189.4 204.5,188.1 205.2,186.9 206.0,185.6 206.8,184.3 207.5,183.0 208.2,181.6 209.0,180.3 209.8,178.9 210.5,177.6 211.2,176.2 212.0,174.9 212.8,173.5 213.5,172.1 214.2,170.8 215.0,169.4 215.8,168.0 216.5,166.7 217.2,165.3 218.0,164.0 218.8,162.7 219.5,161.3 220.2,160.0 221.0,158.7 221.8,157.5 222.5,156.2 223.2,155.0 224.0,153.8 224.8,152.6 225.5,151.4 226.2,150.2 227.0,149.1 227.8,148.0 228.5,146.9 229.2,145.9 230.0,144.9 230.8,143.9 231.5,143.0 232.2,142.0 233.0,141.2 233.8,140.3 234.5,139.5 235.2,138.8 236.0,138.0 236.8,137.3 237.5,136.7 238.2,136.1 239.0,135.5 239.8,135.0 240.5,134.5 241.2,134.1 242.0,133.7 242.8,133.3 243.5,133.0 244.2,132.7 245.0,132.5 245.8,132.3 246.5,132.2 247.2,132.1 248.0,132.1 248.8,132.1 249.5,132.2 250.2,132.3 251.0,132.5 251.8,132.7 252.5,133.0 253.2,133.3 254.0,133.7 254.8,134.2 255.5,134.7 256.2,135.2 257.0,135.8 257.8,136.5 258.5,137.2 259.2,137.9 260.0,138.7 260.8,139.6 261.5,140.5 262.2,141.4 263.0,142.4 263.8,143.4 264.5,144.5 265.2,145.6 266.0,146.7 266.8,147.9 267.5,149.1 268.2,150.4 269.0,151.7 269.8,153.0 270.5,154.3 271.2,155.7 272.0,157.1 272.8,158.5 273.5,159.9 274.2,161.4 275.0,162.9 275.8,164.4 276.5,165.9 277.2,167.4 278.0,169.0 278.8,170.5 279.5,172.1 280.2,173.6 281.0,175.2 281.8,176.8 282.5,178.3 283.2,179.9 284.0,181.4 284.8,183.0 285.5,184.5 286.2,186.1 287.0,187.6 287.8,189.1 288.5,190.6 289.2,192.1 290.0,193.6 290.8,195.0 291.5,196.4 292.2,197.8 293.0,199.2 293.8,200.5 294.5,201.8 295.2,203.1 296.0,204.3 296.8,205.5 297.5,206.7 298.2,207.9 299.0,209.0 299.8,210.0 300.5,211.0 301.2,212.0 302.0,212.9 302.8,213.8 303.5,214.7 304.2,215.5 305.0,216.2 305.8,216.9 306.5,217.5 307.2,218.1 308.0,218.7 308.8,219.2 309.5,219.6 310.2,220.0 311.0,220.3 311.8,220.6 312.5,220.8 313.2,221.0 314.0,221.1 314.8,221.2 315.5,221.2 316.2,221.1 317.0,221.0 317.8,220.9 318.5,220.7 319.2,220.4 320.0,220.1 320.8,219.7 321.5,219.3 322.2,218.8 323.0,218.2 323.8,217.6 324.5,217.0 325.2,216.3 326.0,215.6 326.8,214.8 327.5,213.9 328.2,213.1 329.0,212.1 329.8,211.1 330.5,210.1 331.2,209.1 332.0,208.0 332.8,206.8 333.5,205.6 334.2,204.4 335.0,203.1 335.8,201.9 336.5,200.5 337.2,199.2 338.0,197.8 338.8,196.4 339.5,194.9 340.2,193.4 341.0,192.0 341.8,190.4 342.5,188.9 343.2,187.3 344.0,185.8 344.8,184.2 345.5,182.6 346.2,181.0 347.0,179.4 347.8,177.7 348.5,176.1 349.2,174.5 350.0,172.8 350.8,171.2 351.5,169.5 352.2,167.9 353.0,166.3 353.8,164.7 354.5,163.0 355.2,161.4 356.0,159.8 356.8,158.3 357.5,156.7 358.2,155.2 359.0,153.6 359.8,152.1 360.5,150.7 361.2,149.2 362.0,147.8 362.8,146.4 363.5,145.0 364.2,143.7 365.0,142.4 365.8,141.1 366.5,139.9 367.2,138.7 368.0,137.5 368.8,136.4 369.5,135.4 370.2,134.3 371.0,133.3 371.8,132.4 372.5,131.5 373.2,130.6 374.0,129.8 374.8,129.1 375.5,128.4 376.2,127.7 377.0,127.1 377.8,126.6 378.5,126.1 379.2,125.6 380.0,125.2 380.8,124.9 381.5,124.6 382.2,124.4 383.0,124.2 383.8,124.1 384.5,124.0 385.2,124.0 386.0,124.1 386.8,124.2 387.5,124.4 388.2,124.6 389.0,124.9 389.8,125.3 390.5,125.7 391.2,126.2 392.0,126.8 392.8,127.4 393.5,128.1 394.2,128.8 395.0,129.6 395.8,130.5 396.5,131.4 397.2,132.3 398.0,133.4 398.8,134.4 399.5,135.6 400.2,136.7 401.0,138.0 401.8,139.2 402.5,140.5 403.2,141.9 404.0,143.3 404.8,144.7 405.5,146.2 406.2,147.7 407.0,149.3 407.8,150.9 408.5,152.5 409.2,154.1 410.0,155.8 410.8,157.5 411.5,159.2 412.2,161.0 413.0,162.7 413.8,164.5 414.5,166.3 415.2,168.1 416.0,169.9 416.8,171.7 417.5,173.6 418.2,175.4 419.0,177.2 419.8,179.0 420.5,180.9 421.2,182.7 422.0,184.5 422.8,186.3 423.5,188.1 424.2,189.9 425.0,191.6 425.8,193.3 426.5,195.1 427.2,196.7 428.0,198.4 428.8,200.0 429.5,201.6 430.2,203.2 431.0,204.8 431.8,206.3 432.5,207.7 433.2,209.2 434.0,210.6 434.8,211.9 435.5,213.2 436.2,214.5 437.0,215.7 437.8,216.8 438.5,217.9 439.2,219.0 440.0,220.0 440.8,220.9 441.5,221.8 442.2,222.7 443.0,223.4 443.8,224.2 444.5,224.8 445.2,225.4 446.0,226.0 446.8,226.4 447.5,226.8 448.2,227.2 449.0,227.5 449.8,227.7 450.5,227.9 451.2,228.0 452.0,228.0 452.8,228.0 453.5,227.9 454.2,227.7 455.0,227.5 455.8,227.2 456.5,226.8 457.2,226.4 458.0,225.9 458.8,225.3 459.5,224.7 460.2,224.0 461.0,223.3 461.8,222.5 462.5,221.6 463.2,220.7 464.0,219.7 464.8,218.6 465.5,217.6 466.2,216.4 467.0,215.2 467.8,213.9 468.5,212.6 469.2,211.3 470.0,209.9 470.8,208.4 471.5,207.0 472.2,205.4 473.0,203.9 473.8,202.3 474.5,200.6 475.2,198.9 476.0,197.2 476.8,195.5 477.5,193.7 478.2,191.9 479.0,190.1 479.8,188.3 480.5,186.5 481.2,184.6 482.0,182.7 482.8,180.8 483.5,178.9 484.2,177.0 485.0,175.1 485.8,173.1 486.5,171.2 487.2,169.3 488.0,167.4 488.8,165.5 489.5,163.6 490.2,161.7 491.0,159.8 491.8,157.9 492.5,156.1 493.2,154.3 494.0,152.5 494.8,150.7 495.5,148.9 496.2,147.2 497.0,145.5 497.8,143.8 498.5,142.2 499.2,140.6 500.0,139.1 500.8,137.5 501.5,136.1 502.2,134.6 503.0,133.3 503.8,131.9 504.5,130.6 505.2,129.4 506.0,128.2 506.8,127.1 507.5,126.0 508.2,125.0 509.0,124.0 509.8,123.1 510.5,122.3 511.2,121.5 512.0,120.7 512.8,120.1 513.5,119.5 514.2,118.9 515.0,118.5 515.8,118.1 516.5,117.7 517.2,117.4 518.0,117.2 518.8,117.1 519.5,117.0 520.2,117.0 521.0,117.1 521.8,117.2 522.5,117.4 523.2,117.6 524.0,118.0 524.8,118.3 525.5,118.8 526.2,119.3 527.0,119.9 527.8,120.6 528.5,121.3 529.2,122.1 530.0,122.9 530.8,123.8 531.5,124.8 532.2,125.8 533.0,126.8 533.8,128.0 534.5,129.2 535.2,130.4 536.0,131.7 536.8,133.0 537.5,134.4 538.2,135.9 539.0,137.4 539.8,138.9 540.5,140.5 541.2,142.1 542.0,143.7 542.8,145.4 543.5,147.1 544.2,148.9 545.0,150.7 545.8,152.5 546.5,154.3 547.2,156.2 548.0,158.1 548.8,160.0 549.5,162.0 550.2,163.9 551.0,165.9 551.8,167.9 552.5,169.8 553.2,171.8 554.0,173.8 554.8,175.8 555.5,177.8 556.2,179.8 557.0,181.8 557.8,183.8 558.5,185.8 559.2,187.8 560.0,189.7 560.8,191.7 561.5,193.6 562.2,195.5 563.0,197.4 563.8,199.3 564.5,201.1 565.2,202.9 566.0,204.7 566.8,206.4 567.5,208.2 568.2,209.8 569.0,211.5 569.8,213.1 570.5,214.6 571.2,216.1 572.0,217.6 572.8,219.0 573.5,220.4 574.2,221.7 575.0,223.0 575.8,224.2 576.5,225.4 577.2,226.5 578.0,227.6 578.8,228.6 579.5,229.5 580.2,230.4 581.0,231.2 581.8,232.0 582.5,232.7 583.2,233.3 584.0,233.9 584.8,234.4 585.5,234.8 586.2,235.2 587.0,235.5 587.8,235.7 588.5,235.9 589.2,236.0 590.0,236.0 590.8,236.0 591.5,235.8 592.2,235.6 593.0,235.4 593.8,235.0 594.5,234.6 595.2,234.1 596.0,233.5 596.8,232.9 597.5,232.1 598.2,231.3 599.0,230.4 599.8,229.5 600.5,228.5 601.2,227.4 602.0,226.2 602.8,225.0 603.5,223.7 604.2,222.4 605.0,220.9 605.8,219.5 606.5,217.9 607.2,216.4 608.0,214.7 608.8,213.0 609.5,211.3 610.2,209.5 611.0,207.6 611.8,205.8 612.5,203.8 613.2,201.9 614.0,199.9 614.8,197.8 615.5,195.8 616.2,193.7 617.0,191.6 617.8,189.4 618.5,187.2 619.2,185.1 620.0,182.9 620.8,180.6 621.5,178.4 622.2,176.2 623.0,173.9 623.8,171.7 624.5,169.5 625.2,167.2 626.0,165.0 626.8,162.8 627.5,160.5 628.2,158.3 629.0,156.2 629.8,154.0 630.5,151.9 631.2,149.7 632.0,147.6 632.8,145.6 633.5,143.6 634.2,141.6 635.0,139.6 635.8,137.7 636.5,135.8 637.2,134.0 638.0,132.2 638.8,130.4 639.5,128.8 640.2,127.1 641.0,125.5 641.8,124.0 642.5,122.6 643.2,121.2 644.0,119.8 644.8,118.5 645.5,117.3 646.2,116.2 647.0,115.1 647.8,114.1 648.5,113.1 649.2,112.3 650.0,111.5 650.8,110.8 651.5,110.1 652.2,109.5 653.0,109.0 653.8,108.6 654.5,108.3 655.2,108.0 656.0,107.8 656.8,107.7 657.5,107.7 658.2,107.8 659.0,107.9 659.8,108.1 660.5,108.4 661.2,108.8 662.0,109.2 662.8,109.8 663.5,110.4 664.2,111.1 665.0,111.8 665.8,112.7 666.5,113.6 667.2,114.6 668.0,115.7 668.8,116.8 669.5,118.0 670.2,119.3 671.0,120.7 671.8,122.1 672.5,123.6 673.2,125.1 674.0,126.7 674.8,128.4 675.5,130.1 676.2,131.8 677.0,133.7 677.8,135.5 678.5,137.5 679.2,139.4 680.0,141.5 680.8,143.5 681.5,145.6 682.2,147.7 683.0,149.9 683.8,152.1 684.5,154.3 685.2,156.6 686.0,158.8 686.8,161.1 687.5,163.4 688.2,165.7 689.0,168.1 689.8,170.4 690.5,172.8 691.2,175.1 692.0,177.5 692.8,179.8 693.5,182.2 694.2,184.5 695.0,186.8 695.8,189.2 696.5,191.5 697.2,193.7 698.0,196.0 698.8,198.2 699.5,200.4 700.2,202.6 701.0,204.8 701.8,206.9 702.5,209.0 703.2,211.0 704.0,213.0 704.8,214.9 705.5,216.8 706.2,218.7 707.0,220.5 707.8,222.2 708.5,223.9 709.2,225.6 710.0,227.1 710.8,228.6 711.5,230.1 712.2,231.5 713.0,232.8 713.8,234.0 714.5,235.2 715.2,236.3 716.0,237.4 716.8,238.3 717.5,239.2 718.2,240.0 719.0,240.8 719.8,241.4 720.5,242.0 721.2,242.5 722.0,242.9 722.8,243.3 723.5,243.5 724.2,243.7 725.0,243.8 725.8,243.8 726.5,243.7 727.2,243.6 728.0,243.3 728.8,242.9 729.5,242.5 730.2,242.0 731.0,241.4 731.8,240.7 732.5,239.9 733.2,239.0 734.0,238.0 734.8,237.0 735.5,235.9 736.2,234.7 737.0,233.4 737.8,232.0 738.5,230.6 739.2,229.0 740.0,227.5 740.8,225.8 741.5,224.1 742.2,222.3 743.0,220.4 743.8,218.5 744.5,216.5 745.2,214.5 746.0,212.4 746.8,210.3 747.5,208.1 748.2,205.8 749.0,203.6 749.8,201.2 750.5,198.9 751.2,196.5 752.0,194.1 752.8,191.6 753.5,189.2 754.2,186.7 755.0,184.2 755.8,181.6 756.5,179.1 757.2,176.5 758.0,174.0 758.8,171.4 759.5,168.9 760.2,166.3 761.0,163.8 761.8,161.2 762.5,158.7 763.2,156.2 764.0,153.7 764.8,151.3 765.5,148.8 766.2,146.4 767.0,144.1 767.8,141.7 768.5,139.4 769.2,137.2 770.0,134.9 770.8,132.8 771.5,130.7 772.2,128.6 773.0,126.6 773.8,124.6 774.5,122.7 775.2,120.9 776.0,119.1 776.8,117.4 777.5,115.8 778.2,114.2 779.0,112.8 779.8,111.3 780.5,110.0 781.2,108.8 782.0,107.6 782.8,106.5 783.5,105.5 784.2,104.5 785.0,103.7 785.8,102.9 786.5,102.3 787.2,101.7 788.0,101.2 788.8,100.8 789.5,100.5 790.2,100.3 791.0,100.1 791.8,100.1 792.5,100.2 793.2,100.3 794.0,100.6 794.8,100.9 795.5,101.4 796.2,101.9 797.0,102.6 797.8,103.3 798.5,104.2 799.2,105.1 800.0,106.1 800.8,107.2 801.5,108.5 802.2,109.8 803.0,111.1 803.8,112.6 804.5,114.2 805.2,115.8 806.0,117.5 806.8,119.3 807.5,121.2 808.2,123.1 809.0,125.1 809.8,127.2 810.5,129.3 811.2,131.5 812.0,133.8 812.8,136.1 813.5,138.5 814.2,140.9 815.0,143.3 815.8,145.8 816.5,148.4 817.2,150.9 818.0,153.6 818.8,156.2 819.5,158.9 820.2,161.6 821.0,164.3 821.8,167.0 822.5,169.7 823.2,172.5 824.0,175.2 824.8,177.9 825.5,180.7 826.2,183.4 827.0,186.2 827.8,188.9 828.5,191.6 829.2,194.2 830.0,196.9 830.8,199.5 831.5,202.1 832.2,204.7 833.0,207.2 833.8,209.7 834.5,212.1 835.2,214.5 836.0,216.8 836.8,219.1 837.5,221.3 838.2,223.5 839.0,225.6 839.8,227.6 840.5,229.6 841.2,231.5 842.0,233.3 842.8,235.0 843.5,236.7 844.2,238.3 845.0,239.8 845.8,241.2 846.5,242.5 847.2,243.8 848.0,244.9 848.8,246.0 849.5,247.0 850.2,247.9 851.0,248.6 851.8,249.3 852.5,249.9 853.2,250.4 854.0,250.8 854.8,251.1 855.5,251.3 856.2,251.4 857.0,251.4 857.8,251.3 858.5,251.1 859.2,250.8 860.0,250.5 860.8,250.0 861.5,249.5 862.2,248.9 863.0,248.2 863.8,247.4 864.5,246.5 865.2,245.6 866.0,244.5 866.8,243.4 867.5,242.2 868.2,240.9 869.0,239.6 869.8,238.1 870.5,236.6 871.2,235.0 872.0,233.4 872.8,231.7 873.5,229.9 874.2,228.0 875.0,226.1 875.8,224.2 876.5,222.1 877.2,220.0 878.0,217.9 878.8,215.7 879.5,213.5 880.2,211.2 881.0,208.9 881.8,206.5 882.5,204.1 883.2,201.6 884.0,199.2 884.8,196.6 885.5,194.1 886.2,191.6 887.0,189.0 887.8,186.4 888.5,183.8 889.2,181.1 890.0,178.5 890.8,175.9 891.5,173.2 892.2,170.6 893.0,167.9 893.8,165.3 894.5,162.6 895.2,160.0 896.0,157.4 896.8,154.8 897.5,152.2 898.2,149.7 899.0,147.2 899.8,144.7 900.5,142.2 901.2,139.8 902.0,137.4 902.8,135.1 903.5,132.7 904.2,130.5 905.0,128.3 905.8,126.1 906.5,124.0 907.2,121.9 908.0,119.9 908.8,118.0 909.5,116.1 910.2,114.3 911.0,112.5 911.8,110.8 912.5,109.2 913.2,107.7 914.0,106.2 914.8,104.8 915.5,103.5 916.2,102.2 917.0,101.1 917.8,100.0 918.5,99.0 919.2,98.1 920.0,97.2 920.8,96.5 921.5,95.8 922.2,95.2 923.0,94.7 923.8,94.3 924.5,94.0 925.2,93.8 926.0,93.7 926.8,93.6 927.5,93.6 928.2,93.8 929.0,94.0 929.8,94.3 930.5,94.7 931.2,95.2 932.0,95.8 932.8,96.5 933.5,97.2 934.2,98.1 935.0,99.0 935.8,100.0 936.5,101.2 937.2,102.3 938.0,103.6 938.8,105.0 939.5,106.4 940.2,107.9 941.0,109.5 941.8,111.2 942.5,112.9 943.2,114.7 944.0,116.6 944.8,118.5 945.5,120.5 946.2,122.5 947.0,124.7 947.8,126.8 948.5,129.1 949.2,131.4 950.0,133.7 950.8,136.1 951.5,138.5 952.2,140.9 953.0,143.4 953.8,146.0 954.5,148.6 955.2,151.2 956.0,153.8 956.8,156.4 957.5,159.1 958.2,161.8 959.0,164.5 959.8,167.2 960.5,169.9 961.2,172.7 962.0,175.4 962.8,178.1 963.5,180.9 964.2,183.6 965.0,186.3 965.8,189.0 966.5,191.7 967.2,194.3 968.0,197.0 968.8,199.6 969.5,202.2 970.2,204.8 971.0,207.3 971.8,209.8 972.5,212.2 973.2,214.6 974.0,217.0" fill="none" stroke="#000000" stroke-width="6.5" stroke-dasharray="5 5" stroke-linejoin="round" clip-path="url(#c0)"/>
<polyline points="131.0,310.5 131.8,309.1 132.5,307.9 133.2,306.9 134.0,306.2 134.8,305.8 135.5,305.8 136.2,306.0 137.0,306.4 137.8,306.9 138.5,307.5 139.2,308.3 140.0,309.1 140.8,310.0 141.5,311.0 142.2,312.1 143.0,313.1 143.8,314.2 144.5,315.3 145.2,316.4 146.0,317.5 146.8,318.5 147.5,319.5 148.2,320.5 149.0,321.5 149.8,322.6 150.5,323.8 151.2,324.9 152.0,326.1 152.8,327.3 153.5,328.5 154.2,329.7 155.0,330.9 155.8,332.0 156.5,333.2 157.2,334.3 158.0,335.3 158.8,336.3 159.5,337.3 160.2,338.2 161.0,339.2 161.8,340.0 162.5,340.9 163.2,341.8 164.0,342.7 164.8,343.5 165.5,344.4 166.2,345.3 167.0,346.1 167.8,347.0 168.5,347.9 169.2,348.9 170.0,349.8 170.8,350.8 171.5,351.7 172.2,352.6 173.0,353.6 173.8,354.6 174.5,355.5 175.2,356.5 176.0,357.5 176.8,358.5 177.5,359.6 178.2,360.7 179.0,361.8 179.8,362.9 180.5,364.1 181.2,365.3 182.0,366.5 182.8,367.8 183.5,369.1 184.2,370.5 185.0,371.8 185.8,373.2 186.5,374.6 187.2,376.0 188.0,377.4 188.8,378.9 189.5,380.3 190.2,381.8 191.0,383.4 191.8,385.0 192.5,386.7 193.2,388.4 194.0,390.1 194.8,391.7 195.5,393.4 196.2,395.0 197.0,396.6 197.8,398.0 198.5,399.4 199.2,400.8 200.0,402.2 200.8,403.6 201.5,405.1 202.2,406.4 203.0,407.8 203.8,409.1 204.5,410.3 205.2,411.4 206.0,412.4 206.8,413.3 207.5,414.1 208.2,414.6 209.0,415.1 209.8,415.5 210.5,415.9 211.2,416.3 212.0,416.5 212.8,416.8 213.5,416.9 214.2,416.9 215.0,416.8 215.8,416.7 216.5,416.5 217.2,416.2 218.0,415.9 218.8,415.6 219.5,415.2 220.2,414.7 221.0,414.3 221.8,413.8 222.5,413.2 223.2,412.7 224.0,412.1 224.8,411.5 225.5,410.9 226.2,410.1 227.0,409.2 227.8,408.2 228.5,407.0 229.2,405.8 230.0,404.4 230.8,403.0 231.5,401.4 232.2,399.9 233.0,398.3 233.8,396.6 234.5,394.9 235.2,393.3 236.0,391.6 236.8,389.9 237.5,388.1 238.2,386.2 239.0,384.2 239.8,382.1 240.5,380.0 241.2,377.8 242.0,375.5 242.8,373.2 243.5,370.8 244.2,368.5 245.0,366.1 245.8,363.6 246.5,361.2 247.2,358.6 248.0,356.0 248.8,353.3 249.5,350.5 250.2,347.7 251.0,344.8 251.8,341.9 252.5,339.1 253.2,336.1 254.0,332.9 254.8,329.4 255.5,326.0 256.2,322.7 257.0,319.8 257.8,317.3 258.5,315.4 259.2,313.8 260.0,312.1 260.8,310.6 261.5,309.2 262.2,308.0 263.0,307.0 263.8,306.3 264.5,305.9 265.2,305.8 266.0,305.9 266.8,306.1 267.5,306.5 268.2,307.0 269.0,307.6 269.8,308.2 270.5,309.0 271.2,309.8 272.0,310.7 272.8,311.6 273.5,312.6 274.2,313.6 275.0,314.7 275.8,315.8 276.5,316.9 277.2,317.9 278.0,319.0 278.8,320.1 279.5,321.1 280.2,322.1 281.0,323.0 281.8,324.0 282.5,325.0 283.2,326.1 284.0,327.1 284.8,328.2 285.5,329.3 286.2,330.5 287.0,331.6 287.8,332.8 288.5,334.0 289.2,335.2 290.0,336.4 290.8,337.5 291.5,338.7 292.2,339.9 293.0,341.1 293.8,342.2 294.5,343.4 295.2,344.5 296.0,345.7 296.8,346.9 297.5,348.0 298.2,349.2 299.0,350.4 299.8,351.6 300.5,352.8 301.2,353.9 302.0,355.1 302.8,356.3 303.5,357.4 304.2,358.5 305.0,359.6 305.8,360.7 306.5,361.8 307.2,362.8 308.0,363.8 308.8,364.9 309.5,366.0 310.2,367.1 311.0,368.3 311.8,369.5 312.5,370.8 313.2,372.2 314.0,373.8 314.8,375.4 315.5,377.1 316.2,378.9 317.0,380.8 317.8,382.6 318.5,384.5 319.2,386.4 320.0,388.3 320.8,390.4 321.5,392.6 322.2,394.8 323.0,397.1 323.8,399.2 324.5,401.2 325.2,403.0 326.0,404.5 326.8,405.8 327.5,407.0 328.2,408.2 329.0,409.3 329.8,410.4 330.5,411.4 331.2,412.3 332.0,413.2 332.8,413.9 333.5,414.6 334.2,415.3 335.0,415.8 335.8,416.3 336.5,416.7 337.2,417.2 338.0,417.6 338.8,418.0 339.5,418.3 340.2,418.6 341.0,418.9 341.8,419.0 342.5,419.1 343.2,419.1 344.0,418.9 344.8,418.7 345.5,418.3 346.2,417.8 347.0,417.3 347.8,416.7 348.5,416.0 349.2,415.2 350.0,414.4 350.8,413.6 351.5,412.8 352.2,411.9 353.0,411.1 353.8,410.1 354.5,408.9 355.2,407.6 356.0,406.2 356.8,404.7 357.5,403.1 358.2,401.4 359.0,399.7 359.8,397.9 360.5,396.2 361.2,394.5 362.0,392.8 362.8,391.1 363.5,389.4 364.2,387.7 365.0,385.9 365.8,384.1 366.5,382.2 367.2,380.3 368.0,378.4 368.8,376.4 369.5,374.3 370.2,372.2 371.0,370.0 371.8,367.8 372.5,365.5 373.2,363.1 374.0,360.6 374.8,358.1 375.5,355.5 376.2,352.7 377.0,350.0 377.8,347.0 378.5,343.9 379.2,340.6 380.0,337.1 380.8,333.7 381.5,330.3 382.2,326.9 383.0,323.7 383.8,320.3 384.5,316.8 385.2,313.4 386.0,310.4 386.8,308.0 387.5,306.4 388.2,305.0 389.0,303.7 389.8,302.6 390.5,301.5 391.2,300.6 392.0,299.9 392.8,299.4 393.5,299.1 394.2,299.1 395.0,299.3 395.8,299.7 396.5,300.2 397.2,300.8 398.0,301.6 398.8,302.4 399.5,303.3 400.2,304.3 401.0,305.3 401.8,306.3 402.5,307.3 403.2,308.3 404.0,309.2 404.8,310.2 405.5,311.2 406.2,312.3 407.0,313.4 407.8,314.5 408.5,315.7 409.2,316.9 410.0,318.2 410.8,319.4 411.5,320.7 412.2,322.0 413.0,323.3 413.8,324.7 414.5,326.0 415.2,327.3 416.0,328.7 416.8,330.2 417.5,331.7 418.2,333.3 419.0,334.9 419.8,336.5 420.5,338.1 421.2,339.7 422.0,341.3 422.8,342.8 423.5,344.3 424.2,345.8 425.0,347.2 425.8,348.5 426.5,349.7 427.2,350.9 428.0,352.1 428.8,353.2 429.5,354.3 430.2,355.4 431.0,356.4 431.8,357.5 432.5,358.5 433.2,359.5 434.0,360.5 434.8,361.4 435.5,362.4 436.2,363.4 437.0,364.4 437.8,365.3 438.5,366.2 439.2,367.1 440.0,367.9 440.8,368.7 441.5,369.5 442.2,370.3 443.0,371.2 443.8,372.2 444.5,373.2 445.2,374.3 446.0,375.6 446.8,377.1 447.5,378.9 448.2,381.0 449.0,383.3 449.8,385.8 450.5,388.3 451.2,390.9 452.0,393.3 452.8,395.7 453.5,398.0 454.2,400.5 455.0,403.1 455.8,405.7 456.5,408.2 457.2,410.5 458.0,412.6 458.8,414.4 459.5,415.9 460.2,417.1 461.0,418.1 461.8,419.1 462.5,420.0 463.2,420.8 464.0,421.6 464.8,422.3 465.5,423.0 466.2,423.7 467.0,424.4 467.8,425.2 468.5,426.0 469.2,426.8 470.0,426.9 470.8,426.8 471.5,426.7 472.2,426.5 473.0,426.3 473.8,426.0 474.5,425.7 475.2,425.3 476.0,424.9 476.8,424.5 477.5,424.0 478.2,423.5 479.0,423.0 479.8,422.5 480.5,421.9 481.2,421.4 482.0,420.8 482.8,420.2 483.5,419.6 484.2,418.9 485.0,418.1 485.8,417.2 486.5,416.2 487.2,415.1 488.0,413.9 488.8,412.7 489.5,411.4 490.2,410.1 491.0,408.7 491.8,407.2 492.5,405.7 493.2,404.2 494.0,402.6 494.8,401.0 495.5,399.3 496.2,397.7 497.0,396.0 497.8,394.1 498.5,392.2 499.2,390.1 500.0,388.0 500.8,385.7 501.5,383.4 502.2,380.9 503.0,378.4 503.8,375.7 504.5,373.0 505.2,370.2 506.0,367.3 506.8,364.4 507.5,361.3 508.2,357.8 509.0,354.0 509.8,349.9 510.5,345.6 511.2,341.2 512.0,336.9 512.8,332.8 513.5,328.8 514.2,325.1 515.0,321.2 515.8,317.2 516.5,313.3 517.2,309.7 518.0,306.5 518.8,304.0 519.5,302.4 520.2,301.1 521.0,300.0 521.8,298.9 522.5,297.9 523.2,297.0 524.0,296.2 524.8,295.6 525.5,295.1 526.2,294.8 527.0,294.7 527.8,294.7 528.5,294.9 529.2,295.3 530.0,295.8 530.8,296.5 531.5,297.3 532.2,298.1 533.0,299.1 533.8,300.1 534.5,301.2 535.2,302.3 536.0,303.4 536.8,304.6 537.5,305.7 538.2,306.8 539.0,307.9 539.8,309.1 540.5,310.4 541.2,311.9 542.0,313.4 542.8,314.9 543.5,316.5 544.2,318.1 545.0,319.8 545.8,321.4 546.5,323.1 547.2,324.7 548.0,326.2 548.8,327.8 549.5,329.2 550.2,330.6 551.0,332.0 551.8,333.4 552.5,334.8 553.2,336.2 554.0,337.5 554.8,338.9 555.5,340.2 556.2,341.6 557.0,342.9 557.8,344.2 558.5,345.5 559.2,346.8 560.0,348.1 560.8,349.4 561.5,350.7 562.2,351.9 563.0,353.1 563.8,354.3 564.5,355.5 565.2,356.6 566.0,357.7 566.8,358.9 567.5,360.0 568.2,361.2 569.0,362.4 569.8,363.6 570.5,364.9 571.2,366.2 572.0,367.6 572.8,369.0 573.5,370.5 574.2,372.1 575.0,373.8 575.8,375.6 576.5,377.6 577.2,379.6 578.0,381.7 578.8,383.8 579.5,386.0 580.2,388.2 581.0,390.5 581.8,392.9 582.5,395.6 583.2,398.3 584.0,401.0 584.8,403.7 585.5,406.2 586.2,408.6 587.0,410.8 587.8,412.7 588.5,414.6 589.2,416.4 590.0,418.2 590.8,420.0 591.5,421.6 592.2,423.2 593.0,424.6 593.8,426.0 594.5,427.1 595.2,428.2 596.0,429.0 596.8,429.7 597.5,430.4 598.2,431.1 599.0,431.7 599.8,432.4 600.5,432.9 601.2,433.4 602.0,433.8 602.8,434.2 603.5,434.4 604.2,434.6 605.0,434.7 605.8,434.6 606.5,434.5 607.2,434.4 608.0,434.1 608.8,433.8 609.5,433.5 610.2,433.1 611.0,432.7 611.8,432.2 612.5,431.7 613.2,431.1 614.0,430.6 614.8,430.0 615.5,429.3 616.2,428.7 617.0,428.1 617.8,427.4 618.5,426.7 619.2,426.0 620.0,425.2 620.8,424.2 621.5,423.2 622.2,422.1 623.0,420.9 623.8,419.6 624.5,418.2 625.2,416.8 626.0,415.3 626.8,413.8 627.5,412.2 628.2,410.5 629.0,408.8 629.8,407.1 630.5,405.3 631.2,403.5 632.0,401.6 632.8,399.7 633.5,397.7 634.2,395.7 635.0,393.4 635.8,391.1 636.5,388.6 637.2,385.9 638.0,383.0 638.8,379.9 639.5,376.5 640.2,372.9 641.0,368.6 641.8,362.7 642.5,355.9 643.2,349.4 644.0,344.0 644.8,339.3 645.5,334.8 646.2,330.6 647.0,326.5 647.8,322.7 648.5,319.2 649.2,316.0 650.0,313.2 650.8,310.7 651.5,308.3 652.2,305.9 653.0,303.6 653.8,301.3 654.5,299.2 655.2,297.2 656.0,295.4 656.8,293.9 657.5,292.7 658.2,291.9 659.0,291.4 659.8,291.3 660.5,291.5 661.2,291.7 662.0,292.1 662.8,292.6 663.5,293.2 664.2,293.9 665.0,294.7 665.8,295.5 666.5,296.4 667.2,297.3 668.0,298.3 668.8,299.3 669.5,300.3 670.2,301.3 671.0,302.3 671.8,303.3 672.5,304.3 673.2,305.3 674.0,306.3 674.8,307.4 675.5,308.5 676.2,309.7 677.0,310.9 677.8,312.1 678.5,313.4 679.2,314.7 680.0,316.1 680.8,317.4 681.5,318.8 682.2,320.1 683.0,321.5 683.8,322.8 684.5,324.1 685.2,325.4 686.0,326.7 686.8,327.9 687.5,329.2 688.2,330.4 689.0,331.6 689.8,332.8 690.5,334.1 691.2,335.3 692.0,336.5 692.8,337.7 693.5,338.9 694.2,340.2 695.0,341.4 695.8,342.7 696.5,343.9 697.2,345.2 698.0,346.5 698.8,347.9 699.5,349.2 700.2,350.6 701.0,351.9 701.8,353.3 702.5,354.7 703.2,356.1 704.0,357.5 704.8,358.9 705.5,360.4 706.2,361.9 707.0,363.4 707.8,365.0 708.5,366.6 709.2,368.3 710.0,370.0 710.8,371.8 711.5,373.7 712.2,375.7 713.0,377.8 713.8,380.0 714.5,382.3 715.2,384.6 716.0,387.0 716.8,389.4 717.5,391.8 718.2,394.2 719.0,396.6 719.8,399.0 720.5,401.6 721.2,404.4 722.0,407.3 722.8,410.1 723.5,412.9 724.2,415.4 725.0,417.7 725.8,419.5 726.5,420.9 727.2,422.3 728.0,423.6 728.8,424.9 729.5,426.2 730.2,427.4 731.0,428.5 731.8,429.6 732.5,430.7 733.2,431.6 734.0,432.5 734.8,433.3 735.5,434.0 736.2,434.6 737.0,435.1 737.8,435.4 738.5,435.7 739.2,435.8 740.0,435.7 740.8,435.6 741.5,435.4 742.2,435.0 743.0,434.6 743.8,434.1 744.5,433.5 745.2,432.8 746.0,432.1 746.8,431.3 747.5,430.4 748.2,429.5 749.0,428.6 749.8,427.6 750.5,426.6 751.2,425.5 752.0,424.5 752.8,423.4 753.5,422.3 754.2,421.3 755.0,420.2 755.8,419.1 756.5,417.9 757.2,416.6 758.0,415.2 758.8,413.7 759.5,412.1 760.2,410.4 761.0,408.7 761.8,406.9 762.5,405.1 763.2,403.2 764.0,401.3 764.8,399.4 765.5,397.4 766.2,395.4 767.0,393.4 767.8,391.3 768.5,389.1 769.2,386.9 770.0,384.6 770.8,382.2 771.5,379.7 772.2,377.1 773.0,374.5 773.8,371.7 774.5,368.9 775.2,365.9 776.0,362.6 776.8,359.1 777.5,355.4 778.2,351.5 779.0,347.5 779.8,343.5 780.5,339.6 781.2,335.7 782.0,331.8 782.8,327.7 783.5,323.4 784.2,319.0 785.0,314.6 785.8,310.5 786.5,306.8 787.2,303.6 788.0,301.1 788.8,299.3 789.5,297.6 790.2,296.0 791.0,294.5 791.8,293.2 792.5,292.0 793.2,291.1 794.0,290.5 794.8,290.2 795.5,290.3 796.2,290.4 797.0,290.7 797.8,291.1 798.5,291.6 799.2,292.2 800.0,292.9 800.8,293.6 801.5,294.4 802.2,295.3 803.0,296.2 803.8,297.1 804.5,298.1 805.2,299.1 806.0,300.1 806.8,301.2 807.5,302.5 808.2,304.0 809.0,305.6 809.8,307.4 810.5,309.2 811.2,311.0 812.0,312.8 812.8,314.5 813.5,316.1 814.2,317.7 815.0,319.2 815.8,320.8 816.5,322.3 817.2,323.8 818.0,325.4 818.8,326.9 819.5,328.4 820.2,329.9 821.0,331.4 821.8,332.9 822.5,334.4 823.2,335.8 824.0,337.3 824.8,338.8 825.5,340.2 826.2,341.6 827.0,343.1 827.8,344.5 828.5,346.0 829.2,347.4 830.0,348.9 830.8,350.4 831.5,351.8 832.2,353.3 833.0,354.7 833.8,356.1 834.5,357.5 835.2,358.9 836.0,360.2 836.8,361.6 837.5,362.9 838.2,364.1 839.0,365.3 839.8,366.5 840.5,367.6 841.2,368.6 842.0,369.5 842.8,370.3 843.5,371.2 844.2,372.1 845.0,373.1 845.8,374.2 846.5,375.5 847.2,377.0 848.0,379.1 848.8,381.5 849.5,384.1 850.2,386.9 851.0,389.8 851.8,392.6 852.5,395.3 853.2,397.7 854.0,400.1 854.8,402.4 855.5,404.8 856.2,407.2 857.0,409.6 857.8,411.9 858.5,414.1 859.2,416.2 860.0,418.1 860.8,419.8 861.5,421.3 862.2,422.5 863.0,423.5 863.8,424.6 864.5,425.6 865.2,426.6 866.0,427.6 866.8,428.5 867.5,429.4 868.2,430.3 869.0,431.0 869.8,431.8 870.5,432.4 871.2,433.0 872.0,433.5 872.8,433.9 873.5,434.3 874.2,434.5 875.0,434.6 875.8,434.7 876.5,434.6 877.2,434.4 878.0,434.1 878.8,433.6 879.5,433.1 880.2,432.5 881.0,431.9 881.8,431.2 882.5,430.4 883.2,429.5 884.0,428.7 884.8,427.7 885.5,426.8 886.2,425.8 887.0,424.9 887.8,423.9 888.5,422.9 889.2,422.0 890.0,420.9 890.8,419.8 891.5,418.5 892.2,417.2 893.0,415.8 893.8,414.3 894.5,412.8 895.2,411.2 896.0,409.5 896.8,407.9 897.5,406.1 898.2,404.4 899.0,402.6 899.8,400.8 900.5,399.0 901.2,397.2 902.0,395.3 902.8,393.3 903.5,391.3 904.2,389.3 905.0,387.2 905.8,385.0 906.5,382.7 907.2,380.4 908.0,377.9 908.8,375.4 909.5,372.8 910.2,370.1 911.0,367.3 911.8,364.3 912.5,361.0 913.2,357.3 914.0,353.5 914.8,349.6 915.5,345.5 916.2,341.5 917.0,337.5 917.8,333.7 918.5,329.8 919.2,325.6 920.0,321.3 920.8,317.1 921.5,312.9 922.2,309.0 923.0,305.5 923.8,302.5 924.5,300.1 925.2,298.0 926.0,295.9 926.8,294.0 927.5,292.6 928.2,291.6 929.0,291.3 929.8,291.4 930.5,291.6 931.2,291.9 932.0,292.2 932.8,292.7 933.5,293.2 934.2,293.8 935.0,294.4 935.8,295.1 936.5,295.9 937.2,296.7 938.0,297.5 938.8,298.3 939.5,299.2 940.2,300.1 941.0,301.0 941.8,301.9 942.5,302.8 943.2,303.8 944.0,304.9 944.8,306.1 945.5,307.4 946.2,308.8 947.0,310.2 947.8,311.8 948.5,313.4 949.2,315.0 950.0,316.6 950.8,318.3 951.5,320.0 952.2,321.8 953.0,323.5 953.8,325.2 954.5,326.8 955.2,328.5 956.0,330.1 956.8,331.7 957.5,333.5 958.2,335.3 959.0,337.1 959.8,338.9 960.5,340.6 961.2,342.4 962.0,344.1 962.8,345.8 963.5,347.3 964.2,348.8 965.0,350.1 965.8,351.4 966.5,352.8 967.2,354.0 968.0,355.3 968.8,356.5 969.5,357.7 970.2,358.8 971.0,360.0 971.8,361.0 972.5,362.1 973.2,363.0 974.0,364.0" fill="none" stroke="#0072BD" stroke-width="6.2" stroke-linejoin="round" clip-path="url(#c1)"/>
<polyline points="131.0,313.7 131.8,312.0 132.5,310.5 133.2,309.4 134.0,309.1 134.8,309.2 135.5,309.4 136.2,309.7 137.0,310.0 137.8,310.5 138.5,311.1 139.2,311.7 140.0,312.3 140.8,313.1 141.5,313.8 142.2,314.6 143.0,315.5 143.8,316.3 144.5,317.2 145.2,318.0 146.0,318.9 146.8,319.7 147.5,320.5 148.2,321.4 149.0,322.4 149.8,323.4 150.5,324.5 151.2,325.7 152.0,326.9 152.8,328.1 153.5,329.3 154.2,330.5 155.0,331.8 155.8,333.0 156.5,334.2 157.2,335.3 158.0,336.4 158.8,337.5 159.5,338.5 160.2,339.5 161.0,340.5 161.8,341.5 162.5,342.5 163.2,343.5 164.0,344.5 164.8,345.4 165.5,346.4 166.2,347.3 167.0,348.3 167.8,349.2 168.5,350.2 169.2,351.1 170.0,352.0 170.8,352.9 171.5,353.8 172.2,354.6 173.0,355.5 173.8,356.3 174.5,357.2 175.2,358.0 176.0,358.9 176.8,359.7 177.5,360.6 178.2,361.6 179.0,362.5 179.8,363.5 180.5,364.6 181.2,365.7 182.0,366.8 182.8,368.0 183.5,369.2 184.2,370.5 185.0,371.8 185.8,373.1 186.5,374.5 187.2,375.8 188.0,377.3 188.8,378.7 189.5,380.2 190.2,381.7 191.0,383.3 191.8,384.8 192.5,386.5 193.2,388.2 194.0,390.1 194.8,392.0 195.5,393.9 196.2,395.9 197.0,397.8 197.8,399.8 198.5,401.8 199.2,403.7 200.0,405.6 200.8,407.4 201.5,409.3 202.2,411.4 203.0,413.4 203.8,415.1 204.5,416.4 205.2,417.1 206.0,417.5 206.8,418.0 207.5,418.4 208.2,418.7 209.0,418.9 209.8,419.1 210.5,419.1 211.2,419.1 212.0,419.0 212.8,418.9 213.5,418.7 214.2,418.4 215.0,418.2 215.8,417.8 216.5,417.5 217.2,417.1 218.0,416.7 218.8,416.2 219.5,415.8 220.2,415.3 221.0,414.8 221.8,414.3 222.5,413.7 223.2,413.2 224.0,412.6 224.8,411.9 225.5,411.0 226.2,410.2 227.0,409.2 227.8,408.1 228.5,407.0 229.2,405.9 230.0,404.7 230.8,403.4 231.5,402.1 232.2,400.8 233.0,399.4 233.8,398.0 234.5,396.6 235.2,395.2 236.0,393.8 236.8,392.3 237.5,390.8 238.2,389.2 239.0,387.6 239.8,385.8 240.5,384.0 241.2,382.1 242.0,380.2 242.8,378.1 243.5,375.9 244.2,373.7 245.0,371.3 245.8,368.7 246.5,365.8 247.2,362.6 248.0,359.2 248.8,355.6 249.5,352.1 250.2,348.6 251.0,345.3 251.8,342.1 252.5,339.0 253.2,335.8 254.0,332.5 254.8,329.3 255.5,326.3 256.2,323.4 257.0,320.7 257.8,318.4 258.5,316.5 259.2,314.6 260.0,312.7 260.8,311.0 261.5,309.4 262.2,308.2 263.0,307.3 263.8,306.9 264.5,306.9 265.2,307.1 266.0,307.3 266.8,307.7 267.5,308.2 268.2,308.7 269.0,309.3 269.8,310.0 270.5,310.8 271.2,311.6 272.0,312.4 272.8,313.3 273.5,314.3 274.2,315.3 275.0,316.2 275.8,317.3 276.5,318.3 277.2,319.3 278.0,320.3 278.8,321.3 279.5,322.2 280.2,323.2 281.0,324.1 281.8,325.1 282.5,326.1 283.2,327.1 284.0,328.2 284.8,329.2 285.5,330.4 286.2,331.5 287.0,332.7 287.8,333.9 288.5,335.0 289.2,336.2 290.0,337.4 290.8,338.6 291.5,339.8 292.2,341.0 293.0,342.2 293.8,343.3 294.5,344.5 295.2,345.7 296.0,346.8 296.8,348.0 297.5,349.2 298.2,350.3 299.0,351.5 299.8,352.7 300.5,353.9 301.2,355.0 302.0,356.2 302.8,357.4 303.5,358.5 304.2,359.7 305.0,360.8 305.8,361.8 306.5,362.8 307.2,363.9 308.0,364.9 308.8,366.0 309.5,367.0 310.2,368.2 311.0,369.3 311.8,370.6 312.5,371.9 313.2,373.4 314.0,375.0 314.8,376.8 315.5,378.6 316.2,380.6 317.0,382.6 317.8,384.6 318.5,386.6 319.2,388.6 320.0,390.6 320.8,392.6 321.5,394.8 322.2,396.9 323.0,399.1 323.8,401.2 324.5,403.1 325.2,405.0 326.0,406.7 326.8,408.2 327.5,409.7 328.2,411.2 329.0,412.6 329.8,414.0 330.5,415.2 331.2,416.3 332.0,417.2 332.8,418.0 333.5,418.6 334.2,419.3 335.0,419.9 335.8,420.4 336.5,421.0 337.2,421.4 338.0,421.8 338.8,422.1 339.5,422.3 340.2,422.4 341.0,422.4 341.8,422.3 342.5,422.1 343.2,421.8 344.0,421.5 344.8,421.1 345.5,420.6 346.2,420.0 347.0,419.4 347.8,418.7 348.5,418.0 349.2,417.3 350.0,416.5 350.8,415.8 351.5,414.9 352.2,414.1 353.0,413.3 353.8,412.3 354.5,411.2 355.2,409.9 356.0,408.5 356.8,406.9 357.5,405.3 358.2,403.6 359.0,401.9 359.8,400.2 360.5,398.4 361.2,396.7 362.0,395.0 362.8,393.3 363.5,391.6 364.2,389.9 365.0,388.1 365.8,386.3 366.5,384.4 367.2,382.5 368.0,380.6 368.8,378.6 369.5,376.5 370.2,374.4 371.0,372.3 371.8,370.0 372.5,367.7 373.2,365.3 374.0,362.9 374.8,360.3 375.5,357.7 376.2,355.0 377.0,352.2 377.8,349.3 378.5,346.1 379.2,342.8 380.0,339.4 380.8,335.9 381.5,332.5 382.2,329.1 383.0,325.9 383.8,322.5 384.5,319.0 385.2,315.6 386.0,312.6 386.8,310.2 387.5,308.6 388.2,307.2 389.0,306.0 389.8,304.8 390.5,303.8 391.2,303.1 392.0,302.6 392.8,302.4 393.5,302.5 394.2,302.7 395.0,303.0 395.8,303.4 396.5,303.9 397.2,304.5 398.0,305.1 398.8,305.8 399.5,306.6 400.2,307.3 401.0,308.2 401.8,309.0 402.5,309.8 403.2,310.6 404.0,311.5 404.8,312.3 405.5,313.2 406.2,314.3 407.0,315.3 407.8,316.5 408.5,317.7 409.2,318.9 410.0,320.2 410.8,321.5 411.5,322.8 412.2,324.2 413.0,325.5 413.8,326.9 414.5,328.2 415.2,329.6 416.0,331.0 416.8,332.4 417.5,333.9 418.2,335.5 419.0,337.1 419.8,338.7 420.5,340.3 421.2,341.9 422.0,343.5 422.8,345.0 423.5,346.5 424.2,348.0 425.0,349.4 425.8,350.7 426.5,352.0 427.2,353.2 428.0,354.3 428.8,355.4 429.5,356.5 430.2,357.6 431.0,358.7 431.8,359.7 432.5,360.7 433.2,361.7 434.0,362.7 434.8,363.7 435.5,364.6 436.2,365.6 437.0,366.6 437.8,367.6 438.5,368.5 439.2,369.3 440.0,370.1 440.8,370.9 441.5,371.7 442.2,372.6 443.0,373.4 443.8,374.4 444.5,375.4 445.2,376.5 446.0,377.8 446.8,379.3 447.5,381.1 448.2,383.2 449.0,385.6 449.8,388.0 450.5,390.6 451.2,393.1 452.0,395.6 452.8,397.9 453.5,400.3 454.2,402.8 455.0,405.3 455.8,407.9 456.5,410.4 457.2,412.7 458.0,414.8 458.8,416.7 459.5,418.1 460.2,419.3 461.0,420.6 461.8,421.8 462.5,422.9 463.2,424.0 464.0,425.1 464.8,426.0 465.5,426.9 466.2,427.6 467.0,428.2 467.8,428.7 468.5,429.0 469.2,429.1 470.0,429.0 470.8,428.6 471.5,428.1 472.2,427.7 473.0,427.4 473.8,427.1 474.5,426.7 475.2,426.4 476.0,426.1 476.8,425.8 477.5,425.5 478.2,425.2 479.0,424.8 479.8,424.4 480.5,424.0 481.2,423.5 482.0,423.0 482.8,422.5 483.5,421.8 484.2,420.9 485.0,420.0 485.8,418.8 486.5,417.5 487.2,416.2 488.0,414.7 488.8,413.1 489.5,411.4 490.2,409.7 491.0,407.9 491.8,406.1 492.5,404.2 493.2,402.4 494.0,400.5 494.8,398.6 495.5,396.7 496.2,394.8 497.0,392.8 497.8,390.7 498.5,388.6 499.2,386.4 500.0,384.1 500.8,381.7 501.5,379.3 502.2,376.8 503.0,374.1 503.8,371.5 504.5,368.7 505.2,365.8 506.0,362.9 506.8,359.7 507.5,356.0 508.2,352.0 509.0,347.8 509.8,343.4 510.5,339.0 511.2,334.8 512.0,330.8 512.8,327.1 513.5,323.9 514.2,321.2 515.0,318.6 515.8,316.1 516.5,313.7 517.2,311.5 518.0,309.5 518.8,307.7 519.5,306.2 520.2,305.0 521.0,304.2 521.8,303.3 522.5,302.5 523.2,301.8 524.0,301.1 524.8,300.5 525.5,300.0 526.2,299.6 527.0,299.3 527.8,299.2 528.5,299.1 529.2,299.2 530.0,299.5 530.8,299.8 531.5,300.3 532.2,300.9 533.0,301.6 533.8,302.4 534.5,303.2 535.2,304.1 536.0,305.1 536.8,306.1 537.5,307.1 538.2,308.1 539.0,309.2 539.8,310.2 540.5,311.3 541.2,312.3 542.0,313.6 542.8,315.0 543.5,316.4 544.2,318.0 545.0,319.7 545.8,321.4 546.5,323.2 547.2,325.1 548.0,326.9 548.8,328.8 549.5,330.6 550.2,332.4 551.0,334.2 551.8,335.9 552.5,337.5 553.2,339.0 554.0,340.4 554.8,341.8 555.5,343.1 556.2,344.4 557.0,345.6 557.8,346.9 558.5,348.1 559.2,349.3 560.0,350.4 560.8,351.6 561.5,352.8 562.2,353.9 563.0,355.0 563.8,356.1 564.5,357.3 565.2,358.4 566.0,359.4 566.8,360.4 567.5,361.4 568.2,362.3 569.0,363.2 569.8,364.1 570.5,365.0 571.2,366.0 572.0,366.9 572.8,368.0 573.5,369.0 574.2,370.2 575.0,371.5 575.8,372.9 576.5,374.4 577.2,376.2 578.0,378.3 578.8,380.7 579.5,383.3 580.2,385.9 581.0,388.7 581.8,391.5 582.5,394.2 583.2,396.9 584.0,399.4 584.8,401.7 585.5,403.9 586.2,406.1 587.0,408.3 587.8,410.5 588.5,412.6 589.2,414.7 590.0,416.7 590.8,418.6 591.5,420.4 592.2,422.0 593.0,423.3 593.8,424.5 594.5,425.5 595.2,426.4 596.0,427.4 596.8,428.3 597.5,429.1 598.2,429.9 599.0,430.6 599.8,431.2 600.5,431.7 601.2,432.1 602.0,432.4 602.8,432.4 603.5,432.4 604.2,432.4 605.0,432.3 605.8,432.1 606.5,432.0 607.2,431.8 608.0,431.5 608.8,431.2 609.5,431.0 610.2,430.6 611.0,430.3 611.8,429.9 612.5,429.5 613.2,429.1 614.0,428.6 614.8,428.2 615.5,427.7 616.2,427.2 617.0,426.7 617.8,426.2 618.5,425.7 619.2,425.0 620.0,424.3 620.8,423.4 621.5,422.4 622.2,421.3 623.0,420.1 623.8,418.9 624.5,417.5 625.2,416.0 626.0,414.5 626.8,412.9 627.5,411.3 628.2,409.6 629.0,407.8 629.8,406.0 630.5,404.2 631.2,402.4 632.0,400.5 632.8,398.5 633.5,396.4 634.2,394.2 635.0,391.9 635.8,389.4 636.5,386.7 637.2,383.9 638.0,380.9 638.8,377.7 639.5,374.3 640.2,370.7 641.0,366.5 641.8,361.0 642.5,354.9 643.2,349.0 644.0,344.0 644.8,339.8 645.5,335.7 646.2,331.8 647.0,328.1 647.8,324.6 648.5,321.4 649.2,318.3 650.0,315.5 650.8,312.9 651.5,310.2 652.2,307.5 653.0,304.8 653.8,302.3 654.5,300.0 655.2,298.1 656.0,296.7 656.8,295.9 657.5,295.8 658.2,295.9 659.0,296.2 659.8,296.7 660.5,297.2 661.2,297.9 662.0,298.7 662.8,299.5 663.5,300.4 664.2,301.4 665.0,302.4 665.8,303.4 666.5,304.4 667.2,305.5 668.0,306.5 668.8,307.4 669.5,308.5 670.2,309.6 671.0,310.8 671.8,312.0 672.5,313.3 673.2,314.6 674.0,316.0 674.8,317.4 675.5,318.9 676.2,320.3 677.0,321.8 677.8,323.4 678.5,324.9 679.2,326.4 680.0,328.0 680.8,329.5 681.5,331.0 682.2,332.5 683.0,334.0 683.8,335.5 684.5,337.0 685.2,338.5 686.0,340.0 686.8,341.6 687.5,343.2 688.2,344.8 689.0,346.3 689.8,347.9 690.5,349.5 691.2,351.0 692.0,352.5 692.8,354.0 693.5,355.4 694.2,356.7 695.0,358.0 695.8,359.2 696.5,360.3 697.2,361.3 698.0,362.2 698.8,363.2 699.5,364.1 700.2,364.9 701.0,365.8 701.8,366.8 702.5,367.7 703.2,368.8 704.0,369.9 704.8,371.1 705.5,372.4 706.2,373.8 707.0,375.5 707.8,377.5 708.5,379.7 709.2,382.1 710.0,384.6 710.8,387.2 711.5,390.0 712.2,392.7 713.0,395.5 713.8,398.2 714.5,400.8 715.2,403.3 716.0,405.9 716.8,408.7 717.5,411.6 718.2,414.5 719.0,417.2 719.8,419.7 720.5,422.0 721.2,423.8 722.0,425.3 722.8,426.6 723.5,427.8 724.2,428.9 725.0,429.9 725.8,430.9 726.5,431.8 727.2,432.7 728.0,433.5 728.8,434.3 729.5,435.0 730.2,435.7 731.0,436.4 731.8,437.1 732.5,437.8 733.2,438.4 734.0,439.2 734.8,439.9 735.5,440.6 736.2,441.1 737.0,441.3 737.8,441.3 738.5,441.2 739.2,440.9 740.0,440.6 740.8,440.1 741.5,439.6 742.2,439.0 743.0,438.3 743.8,437.5 744.5,436.7 745.2,435.9 746.0,435.0 746.8,434.0 747.5,433.1 748.2,432.1 749.0,431.1 749.8,430.2 750.5,429.2 751.2,428.2 752.0,427.1 752.8,425.8 753.5,424.5 754.2,423.1 755.0,421.7 755.8,420.1 756.5,418.5 757.2,416.8 758.0,415.1 758.8,413.3 759.5,411.5 760.2,409.6 761.0,407.7 761.8,405.8 762.5,403.9 763.2,401.9 764.0,399.9 764.8,397.9 765.5,395.9 766.2,393.8 767.0,391.7 767.8,389.5 768.5,387.2 769.2,384.7 770.0,382.2 770.8,379.5 771.5,376.6 772.2,373.6 773.0,370.3 773.8,366.5 774.5,362.1 775.2,357.3 776.0,352.2 776.8,346.9 777.5,341.7 778.2,336.6 779.0,331.8 779.8,327.3 780.5,322.7 781.2,317.8 782.0,313.0 782.8,308.3 783.5,303.9 784.2,300.0 785.0,296.8 785.8,294.4 786.5,292.8 787.2,291.4 788.0,290.2 788.8,289.2 789.5,288.4 790.2,288.0 791.0,288.0 791.8,288.1 792.5,288.4 793.2,288.7 794.0,289.1 794.8,289.6 795.5,290.2 796.2,290.9 797.0,291.6 797.8,292.4 798.5,293.3 799.2,294.1 800.0,295.1 800.8,296.0 801.5,297.0 802.2,298.0 803.0,299.0 803.8,300.0 804.5,301.1 805.2,302.4 806.0,304.0 806.8,305.6 807.5,307.4 808.2,309.3 809.0,311.3 809.8,313.3 810.5,315.3 811.2,317.3 812.0,319.2 812.8,321.1 813.5,322.8 814.2,324.5 815.0,326.2 815.8,328.0 816.5,329.7 817.2,331.4 818.0,333.1 818.8,334.8 819.5,336.5 820.2,338.2 821.0,339.8 821.8,341.4 822.5,343.0 823.2,344.6 824.0,346.2 824.8,347.7 825.5,349.1 826.2,350.6 827.0,351.9 827.8,353.2 828.5,354.4 829.2,355.6 830.0,356.7 830.8,357.7 831.5,358.8 832.2,359.8 833.0,360.9 833.8,362.0 834.5,363.1 835.2,364.4 836.0,365.6 836.8,367.0 837.5,368.5 838.2,370.2 839.0,372.0 839.8,374.0 840.5,376.2 841.2,378.5 842.0,380.9 842.8,383.3 843.5,385.9 844.2,388.4 845.0,391.1 845.8,394.0 846.5,397.2 847.2,400.4 848.0,403.7 848.8,406.9 849.5,410.0 850.2,412.9 851.0,415.4 851.8,417.8 852.5,420.1 853.2,422.3 854.0,424.5 854.8,426.7 855.5,428.7 856.2,430.6 857.0,432.4 857.8,434.1 858.5,435.6 859.2,436.9 860.0,438.0 860.8,439.0 861.5,440.0 862.2,441.0 863.0,441.9 863.8,442.9 864.5,443.7 865.2,444.6 866.0,445.3 866.8,446.0 867.5,446.6 868.2,447.1 869.0,447.5 869.8,447.8 870.5,448.0 871.2,448.0 872.0,447.9 872.8,447.8 873.5,447.5 874.2,447.2 875.0,446.7 875.8,446.2 876.5,445.7 877.2,445.0 878.0,444.3 878.8,443.6 879.5,442.8 880.2,441.9 881.0,441.1 881.8,440.1 882.5,439.2 883.2,438.2 884.0,437.2 884.8,436.2 885.5,435.2 886.2,434.1 887.0,433.1 887.8,431.9 888.5,430.6 889.2,429.1 890.0,427.5 890.8,425.8 891.5,423.9 892.2,422.1 893.0,420.1 893.8,418.1 894.5,416.0 895.2,413.9 896.0,411.8 896.8,409.7 897.5,407.7 898.2,405.6 899.0,403.5 899.8,401.5 900.5,399.4 901.2,397.3 902.0,395.1 902.8,392.9 903.5,390.6 904.2,388.2 905.0,385.8 905.8,383.3 906.5,380.6 907.2,377.8 908.0,375.0 908.8,371.9 909.5,368.7 910.2,365.1 911.0,361.2 911.8,357.1 912.5,352.8 913.2,348.2 914.0,343.6 914.8,338.8 915.5,333.9 916.2,328.4 917.0,322.0 917.8,315.3 918.5,309.0 919.2,303.8 920.0,300.2 920.8,297.8 921.5,295.5 922.2,293.4 923.0,291.6 923.8,290.0 924.5,288.6 925.2,287.7 926.0,287.1 926.8,286.9 927.5,287.0 928.2,287.2 929.0,287.5 929.8,287.9 930.5,288.5 931.2,289.1 932.0,289.8 932.8,290.6 933.5,291.5 934.2,292.4 935.0,293.3 935.8,294.3 936.5,295.3 937.2,296.4 938.0,297.4 938.8,298.5 939.5,299.5 940.2,300.6 941.0,301.7 941.8,302.9 942.5,304.3 943.2,305.7 944.0,307.2 944.8,308.8 945.5,310.4 946.2,312.1 947.0,313.8 947.8,315.6 948.5,317.4 949.2,319.2 950.0,321.1 950.8,322.9 951.5,324.7 952.2,326.5 953.0,328.3 953.8,330.1 954.5,331.9 955.2,333.8 956.0,335.8 956.8,337.7 957.5,339.7 958.2,341.7 959.0,343.6 959.8,345.5 960.5,347.4 961.2,349.2 962.0,350.9 962.8,352.5 963.5,354.0 964.2,355.6 965.0,357.1 965.8,358.6 966.5,360.0 967.2,361.4 968.0,362.8 968.8,364.1 969.5,365.4 970.2,366.6 971.0,367.8 971.8,369.0 972.5,370.1 973.2,371.2 974.0,372.2" fill="none" stroke="#D95319" stroke-width="6.5" stroke-dasharray="20 5 10 5" stroke-linejoin="round" clip-path="url(#c1)"/>
<polyline points="131.0,324.0 131.8,321.1 132.5,318.4 133.2,315.9 134.0,313.7 134.8,311.7 135.5,310.1 136.2,308.9 137.0,307.8 137.8,306.8 138.5,305.9 139.2,305.2 140.0,304.8 140.8,304.7 141.5,304.8 142.2,304.9 143.0,305.2 143.8,305.6 144.5,306.1 145.2,306.7 146.0,307.3 146.8,308.0 147.5,308.7 148.2,309.5 149.0,310.4 149.8,311.3 150.5,312.2 151.2,313.2 152.0,314.2 152.8,315.2 153.5,316.2 154.2,317.2 155.0,318.2 155.8,319.2 156.5,320.2 157.2,321.1 158.0,322.0 158.8,322.9 159.5,323.9 160.2,324.9 161.0,325.9 161.8,326.9 162.5,328.0 163.2,329.0 164.0,330.1 164.8,331.2 165.5,332.3 166.2,333.4 167.0,334.5 167.8,335.6 168.5,336.7 169.2,337.7 170.0,338.8 170.8,339.8 171.5,340.8 172.2,341.8 173.0,342.7 173.8,343.7 174.5,344.7 175.2,345.7 176.0,346.7 176.8,347.6 177.5,348.6 178.2,349.6 179.0,350.6 179.8,351.6 180.5,352.6 181.2,353.6 182.0,354.7 182.8,355.7 183.5,356.8 184.2,357.9 185.0,358.9 185.8,360.0 186.5,361.1 187.2,362.2 188.0,363.3 188.8,364.4 189.5,365.6 190.2,366.8 191.0,368.0 191.8,369.3 192.5,370.6 193.2,371.9 194.0,373.4 194.8,374.8 195.5,376.3 196.2,377.8 197.0,379.4 197.8,381.0 198.5,382.5 199.2,384.1 200.0,385.7 200.8,387.3 201.5,389.0 202.2,390.7 203.0,392.5 203.8,394.4 204.5,396.3 205.2,398.1 206.0,399.9 206.8,401.6 207.5,403.3 208.2,404.8 209.0,406.2 209.8,407.4 210.5,408.6 211.2,409.8 212.0,411.1 212.8,412.3 213.5,413.5 214.2,414.7 215.0,415.8 215.8,416.8 216.5,417.7 217.2,418.5 218.0,419.1 218.8,419.7 219.5,420.0 220.2,420.2 221.0,420.2 221.8,420.1 222.5,419.9 223.2,419.6 224.0,419.2 224.8,418.7 225.5,418.2 226.2,417.6 227.0,417.0 227.8,416.3 228.5,415.5 229.2,414.7 230.0,413.9 230.8,413.1 231.5,412.2 232.2,411.3 233.0,410.5 233.8,409.6 234.5,408.7 235.2,407.9 236.0,407.0 236.8,406.2 237.5,405.3 238.2,404.4 239.0,403.5 239.8,402.5 240.5,401.6 241.2,400.5 242.0,399.5 242.8,398.4 243.5,397.3 244.2,396.1 245.0,394.9 245.8,393.7 246.5,392.4 247.2,391.0 248.0,389.7 248.8,388.2 249.5,386.8 250.2,385.2 251.0,383.5 251.8,381.8 252.5,379.9 253.2,377.9 254.0,375.8 254.8,373.6 255.5,371.4 256.2,369.1 257.0,366.8 257.8,364.4 258.5,361.9 259.2,359.2 260.0,356.3 260.8,353.3 261.5,350.1 262.2,346.9 263.0,343.7 263.8,340.6 264.5,337.6 265.2,334.9 266.0,332.0 266.8,329.0 267.5,326.1 268.2,323.2 269.0,320.5 269.8,318.0 270.5,315.9 271.2,314.3 272.0,313.1 272.8,312.0 273.5,311.0 274.2,310.1 275.0,309.5 275.8,309.2 276.5,309.1 277.2,309.3 278.0,309.6 278.8,310.0 279.5,310.5 280.2,311.1 281.0,311.8 281.8,312.6 282.5,313.4 283.2,314.4 284.0,315.3 284.8,316.3 285.5,317.3 286.2,318.3 287.0,319.3 287.8,320.3 288.5,321.3 289.2,322.2 290.0,323.1 290.8,324.1 291.5,325.1 292.2,326.2 293.0,327.3 293.8,328.4 294.5,329.6 295.2,330.8 296.0,332.0 296.8,333.2 297.5,334.4 298.2,335.6 299.0,336.8 299.8,338.0 300.5,339.2 301.2,340.3 302.0,341.4 302.8,342.4 303.5,343.4 304.2,344.4 305.0,345.3 305.8,346.2 306.5,347.1 307.2,348.0 308.0,348.9 308.8,349.7 309.5,350.6 310.2,351.4 311.0,352.3 311.8,353.2 312.5,354.0 313.2,354.9 314.0,355.9 314.8,356.8 315.5,357.8 316.2,358.8 317.0,359.9 317.8,361.0 318.5,362.2 319.2,363.3 320.0,364.6 320.8,365.8 321.5,367.1 322.2,368.5 323.0,369.8 323.8,371.2 324.5,372.7 325.2,374.1 326.0,375.6 326.8,377.1 327.5,378.6 328.2,380.2 329.0,381.9 329.8,383.6 330.5,385.3 331.2,387.1 332.0,388.8 332.8,390.6 333.5,392.3 334.2,394.1 335.0,395.8 335.8,397.5 336.5,399.4 337.2,401.3 338.0,403.2 338.8,405.1 339.5,407.1 340.2,408.9 341.0,410.6 341.8,412.2 342.5,413.7 343.2,414.9 344.0,415.9 344.8,416.8 345.5,417.8 346.2,418.7 347.0,419.5 347.8,420.3 348.5,421.0 349.2,421.5 350.0,422.0 350.8,422.3 351.5,422.4 352.2,422.4 353.0,422.2 353.8,421.9 354.5,421.5 355.2,421.0 356.0,420.4 356.8,419.7 357.5,418.9 358.2,418.0 359.0,417.1 359.8,416.1 360.5,415.1 361.2,414.0 362.0,412.9 362.8,411.8 363.5,410.7 364.2,409.6 365.0,408.5 365.8,407.4 366.5,406.3 367.2,405.2 368.0,403.9 368.8,402.6 369.5,401.2 370.2,399.8 371.0,398.3 371.8,396.7 372.5,395.1 373.2,393.5 374.0,391.9 374.8,390.2 375.5,388.5 376.2,386.8 377.0,385.2 377.8,383.5 378.5,381.8 379.2,380.1 380.0,378.4 380.8,376.6 381.5,374.8 382.2,373.0 383.0,371.1 383.8,369.1 384.5,367.1 385.2,365.0 386.0,362.8 386.8,360.5 387.5,358.1 388.2,355.5 389.0,352.9 389.8,350.2 390.5,347.3 391.2,344.3 392.0,341.3 392.8,338.1 393.5,334.6 394.2,330.6 395.0,326.4 395.8,322.3 396.5,318.6 397.2,315.7 398.0,313.1 398.8,310.5 399.5,308.2 400.2,306.3 401.0,305.1 401.8,304.7 402.5,304.7 403.2,304.9 404.0,305.2 404.8,305.6 405.5,306.1 406.2,306.6 407.0,307.3 407.8,307.9 408.5,308.7 409.2,309.5 410.0,310.3 410.8,311.1 411.5,311.9 412.2,312.8 413.0,313.6 413.8,314.5 414.5,315.3 415.2,316.0 416.0,316.8 416.8,317.7 417.5,318.6 418.2,319.5 419.0,320.4 419.8,321.4 420.5,322.4 421.2,323.4 422.0,324.5 422.8,325.5 423.5,326.6 424.2,327.7 425.0,328.8 425.8,329.9 426.5,330.9 427.2,332.0 428.0,333.1 428.8,334.1 429.5,335.2 430.2,336.3 431.0,337.4 431.8,338.6 432.5,339.7 433.2,340.9 434.0,342.0 434.8,343.2 435.5,344.3 436.2,345.5 437.0,346.6 437.8,347.8 438.5,348.9 439.2,350.0 440.0,351.2 440.8,352.2 441.5,353.3 442.2,354.4 443.0,355.4 443.8,356.3 444.5,357.2 445.2,358.1 446.0,359.0 446.8,359.9 447.5,360.7 448.2,361.6 449.0,362.5 449.8,363.4 450.5,364.4 451.2,365.4 452.0,366.5 452.8,367.6 453.5,368.7 454.2,370.0 455.0,371.3 455.8,372.8 456.5,374.6 457.2,376.4 458.0,378.5 458.8,380.6 459.5,382.8 460.2,385.0 461.0,387.2 461.8,389.3 462.5,391.5 463.2,393.8 464.0,396.1 464.8,398.4 465.5,400.8 466.2,403.1 467.0,405.3 467.8,407.5 468.5,409.6 469.2,411.7 470.0,413.7 470.8,415.8 471.5,417.6 472.2,419.3 473.0,420.6 473.8,421.9 474.5,423.1 475.2,424.3 476.0,425.3 476.8,426.1 477.5,426.7 478.2,426.9 479.0,426.8 479.8,426.7 480.5,426.5 481.2,426.2 482.0,425.8 482.8,425.3 483.5,424.8 484.2,424.2 485.0,423.5 485.8,422.8 486.5,422.1 487.2,421.3 488.0,420.4 488.8,419.6 489.5,418.7 490.2,417.8 491.0,417.0 491.8,416.1 492.5,415.2 493.2,414.3 494.0,413.4 494.8,412.5 495.5,411.6 496.2,410.7 497.0,409.7 497.8,408.7 498.5,407.6 499.2,406.5 500.0,405.3 500.8,404.1 501.5,402.9 502.2,401.6 503.0,400.3 503.8,398.9 504.5,397.5 505.2,396.0 506.0,394.5 506.8,392.9 507.5,391.3 508.2,389.7 509.0,387.9 509.8,386.1 510.5,384.1 511.2,381.9 512.0,379.5 512.8,377.0 513.5,374.3 514.2,371.5 515.0,368.6 515.8,365.7 516.5,362.8 517.2,359.9 518.0,357.0 518.8,354.2 519.5,351.3 520.2,348.2 521.0,345.1 521.8,342.0 522.5,338.9 523.2,335.9 524.0,332.9 524.8,330.0 525.5,327.3 526.2,324.3 527.0,321.4 527.8,318.4 528.5,315.6 529.2,313.0 530.0,310.6 530.8,308.7 531.5,307.2 532.2,306.0 533.0,305.0 533.8,304.0 534.5,303.2 535.2,302.7 536.0,302.4 536.8,302.5 537.5,302.7 538.2,303.0 539.0,303.4 539.8,303.9 540.5,304.6 541.2,305.3 542.0,306.1 542.8,306.9 543.5,307.8 544.2,308.8 545.0,309.8 545.8,310.8 546.5,311.8 547.2,312.8 548.0,313.9 548.8,314.9 549.5,315.8 550.2,316.9 551.0,318.0 551.8,319.2 552.5,320.4 553.2,321.8 554.0,323.2 554.8,324.6 555.5,326.0 556.2,327.5 557.0,329.0 557.8,330.5 558.5,332.0 559.2,333.6 560.0,335.0 560.8,336.5 561.5,337.9 562.2,339.3 563.0,340.6 563.8,341.9 564.5,343.2 565.2,344.4 566.0,345.7 566.8,346.9 567.5,348.2 568.2,349.4 569.0,350.6 569.8,351.9 570.5,353.1 571.2,354.3 572.0,355.5 572.8,356.8 573.5,358.0 574.2,359.3 575.0,360.5 575.8,361.8 576.5,363.1 577.2,364.4 578.0,365.6 578.8,366.9 579.5,368.1 580.2,369.3 581.0,370.6 581.8,371.8 582.5,373.1 583.2,374.5 584.0,375.8 584.8,377.3 585.5,378.8 586.2,380.3 587.0,381.9 587.8,383.7 588.5,385.7 589.2,388.0 590.0,390.4 590.8,392.8 591.5,395.4 592.2,397.9 593.0,400.4 593.8,402.8 594.5,405.1 595.2,407.1 596.0,408.9 596.8,410.4 597.5,412.0 598.2,413.5 599.0,414.9 599.8,416.3 600.5,417.6 601.2,418.9 602.0,420.1 602.8,421.3 603.5,422.4 604.2,423.4 605.0,424.4 605.8,425.3 606.5,426.2 607.2,426.9 608.0,427.7 608.8,428.4 609.5,429.1 610.2,429.7 611.0,430.1 611.8,430.2 612.5,430.1 613.2,430.0 614.0,429.6 614.8,429.2 615.5,428.7 616.2,428.1 617.0,427.4 617.8,426.7 618.5,425.8 619.2,424.9 620.0,423.9 620.8,422.9 621.5,421.8 622.2,420.7 623.0,419.6 623.8,418.4 624.5,417.2 625.2,415.9 626.0,414.7 626.8,413.5 627.5,412.2 628.2,411.0 629.0,409.8 629.8,408.6 630.5,407.4 631.2,406.0 632.0,404.6 632.8,403.2 633.5,401.6 634.2,400.0 635.0,398.4 635.8,396.7 636.5,394.9 637.2,393.1 638.0,391.3 638.8,389.4 639.5,387.4 640.2,385.5 641.0,383.5 641.8,381.4 642.5,379.2 643.2,376.9 644.0,374.5 644.8,371.9 645.5,369.2 646.2,366.3 647.0,363.2 647.8,359.6 648.5,355.9 649.2,351.9 650.0,347.9 650.8,343.8 651.5,339.9 652.2,336.1 653.0,332.5 653.8,328.8 654.5,324.9 655.2,321.0 656.0,317.1 656.8,313.6 657.5,310.3 658.2,307.6 659.0,305.5 659.8,304.2 660.5,303.0 661.2,301.9 662.0,300.9 662.8,300.0 663.5,299.3 664.2,298.7 665.0,298.2 665.8,298.0 666.5,298.0 667.2,298.2 668.0,298.5 668.8,299.0 669.5,299.6 670.2,300.4 671.0,301.2 671.8,302.1 672.5,303.1 673.2,304.2 674.0,305.3 674.8,306.4 675.5,307.6 676.2,308.8 677.0,309.9 677.8,311.1 678.5,312.2 679.2,313.3 680.0,314.3 680.8,315.4 681.5,316.5 682.2,317.7 683.0,318.9 683.8,320.1 684.5,321.3 685.2,322.6 686.0,323.9 686.8,325.2 687.5,326.5 688.2,327.8 689.0,329.1 689.8,330.5 690.5,331.8 691.2,333.1 692.0,334.4 692.8,335.7 693.5,337.0 694.2,338.4 695.0,339.7 695.8,341.0 696.5,342.4 697.2,343.7 698.0,345.1 698.8,346.4 699.5,347.8 700.2,349.2 701.0,350.5 701.8,351.9 702.5,353.3 703.2,354.6 704.0,356.0 704.8,357.3 705.5,358.6 706.2,359.8 707.0,361.0 707.8,362.2 708.5,363.4 709.2,364.6 710.0,365.9 710.8,367.2 711.5,368.5 712.2,369.9 713.0,371.4 713.8,372.9 714.5,374.6 715.2,376.4 716.0,378.4 716.8,380.7 717.5,383.2 718.2,385.8 719.0,388.5 719.8,391.2 720.5,394.0 721.2,396.6 722.0,399.1 722.8,401.8 723.5,404.6 724.2,407.5 725.0,410.3 725.8,413.0 726.5,415.5 727.2,417.7 728.0,419.5 728.8,421.0 729.5,422.5 730.2,423.9 731.0,425.3 731.8,426.7 732.5,428.0 733.2,429.2 734.0,430.3 734.8,431.3 735.5,432.3 736.2,433.0 737.0,433.7 737.8,434.2 738.5,434.5 739.2,434.7 740.0,434.6 740.8,434.6 741.5,434.4 742.2,434.2 743.0,433.9 743.8,433.6 744.5,433.2 745.2,432.8 746.0,432.3 746.8,431.8 747.5,431.3 748.2,430.7 749.0,430.1 749.8,429.5 750.5,428.8 751.2,428.2 752.0,427.5 752.8,426.8 753.5,426.1 754.2,425.4 755.0,424.7 755.8,423.9 756.5,423.1 757.2,422.2 758.0,421.3 758.8,420.3 759.5,419.2 760.2,418.1 761.0,416.9 761.8,415.6 762.5,414.3 763.2,412.9 764.0,411.5 764.8,410.1 765.5,408.5 766.2,407.0 767.0,405.4 767.8,403.7 768.5,402.1 769.2,400.3 770.0,398.3 770.8,396.2 771.5,394.0 772.2,391.6 773.0,389.2 773.8,386.6 774.5,383.9 775.2,381.2 776.0,378.3 776.8,375.4 777.5,372.4 778.2,369.2 779.0,365.6 779.8,361.9 780.5,358.0 781.2,354.1 782.0,350.1 782.8,346.1 783.5,342.2 784.2,338.4 785.0,334.3 785.8,330.1 786.5,325.8 787.2,321.6 788.0,317.6 788.8,313.9 789.5,310.6 790.2,307.8 791.0,305.6 791.8,303.5 792.5,301.4 793.2,299.4 794.0,297.6 794.8,296.0 795.5,294.8 796.2,294.0 797.0,293.6 797.8,293.6 798.5,293.7 799.2,293.9 800.0,294.2 800.8,294.5 801.5,295.0 802.2,295.5 803.0,296.0 803.8,296.7 804.5,297.4 805.2,298.1 806.0,298.9 806.8,299.8 807.5,300.7 808.2,301.6 809.0,302.6 809.8,303.6 810.5,304.6 811.2,305.9 812.0,307.7 812.8,309.8 813.5,312.1 814.2,314.4 815.0,316.6 815.8,318.5 816.5,320.2 817.2,321.9 818.0,323.5 818.8,325.1 819.5,326.7 820.2,328.2 821.0,329.7 821.8,331.2 822.5,332.7 823.2,334.1 824.0,335.6 824.8,337.0 825.5,338.4 826.2,339.8 827.0,341.2 827.8,342.6 828.5,343.9 829.2,345.3 830.0,346.7 830.8,348.0 831.5,349.2 832.2,350.4 833.0,351.6 833.8,352.8 834.5,353.9 835.2,355.1 836.0,356.2 836.8,357.4 837.5,358.5 838.2,359.7 839.0,361.0 839.8,362.2 840.5,363.5 841.2,364.9 842.0,366.3 842.8,367.7 843.5,369.3 844.2,370.9 845.0,372.6 845.8,374.5 846.5,376.4 847.2,378.5 848.0,380.6 848.8,382.9 849.5,385.2 850.2,387.6 851.0,390.1 851.8,392.6 852.5,395.1 853.2,397.7 854.0,400.5 854.8,403.5 855.5,406.8 856.2,410.1 857.0,413.5 857.8,416.8 858.5,419.8 859.2,422.4 860.0,424.7 860.8,426.6 861.5,428.6 862.2,430.6 863.0,432.5 863.8,434.5 864.5,436.3 865.2,438.1 866.0,439.8 866.8,441.4 867.5,442.9 868.2,444.3 869.0,445.5 869.8,446.6 870.5,447.5 871.2,448.2 872.0,448.7 872.8,449.0 873.5,449.1 874.2,449.0 875.0,448.8 875.8,448.6 876.5,448.2 877.2,447.7 878.0,447.2 878.8,446.5 879.5,445.8 880.2,445.1 881.0,444.3 881.8,443.4 882.5,442.5 883.2,441.5 884.0,440.5 884.8,439.5 885.5,438.4 886.2,437.4 887.0,436.3 887.8,435.2 888.5,434.1 889.2,433.0 890.0,431.8 890.8,430.4 891.5,428.9 892.2,427.3 893.0,425.6 893.8,423.8 894.5,421.9 895.2,419.9 896.0,417.9 896.8,415.9 897.5,413.8 898.2,411.7 899.0,409.7 899.8,407.6 900.5,405.5 901.2,403.4 902.0,401.4 902.8,399.3 903.5,397.1 904.2,394.9 905.0,392.7 905.8,390.4 906.5,388.0 907.2,385.5 908.0,383.0 908.8,380.4 909.5,377.6 910.2,374.8 911.0,371.8 911.8,368.6 912.5,365.1 913.2,361.3 914.0,357.3 914.8,353.2 915.5,348.9 916.2,344.6 917.0,340.2 917.8,335.9 918.5,331.4 919.2,326.6 920.0,321.5 920.8,316.5 921.5,311.7 922.2,307.4 923.0,303.8 923.8,300.9 924.5,298.0 925.2,295.2 926.0,292.6 926.8,290.2 927.5,288.1 928.2,286.4 929.0,285.3 929.8,284.7 930.5,284.7 931.2,284.8 932.0,285.1 932.8,285.5 933.5,286.0 934.2,286.5 935.0,287.2 935.8,287.9 936.5,288.7 937.2,289.5 938.0,290.4 938.8,291.3 939.5,292.3 940.2,293.2 941.0,294.2 941.8,295.2 942.5,296.1 943.2,297.2 944.0,298.4 944.8,299.7 945.5,301.1 946.2,302.6 947.0,304.2 947.8,305.9 948.5,307.6 949.2,309.3 950.0,311.1 950.8,313.0 951.5,314.8 952.2,316.7 953.0,318.5 953.8,320.4 954.5,322.2 955.2,324.0 956.0,325.7 956.8,327.6 957.5,329.6 958.2,331.6 959.0,333.7 959.8,335.9 960.5,338.0 961.2,340.2 962.0,342.3 962.8,344.5 963.5,346.5 964.2,348.5 965.0,350.4 965.8,352.2 966.5,353.8 967.2,355.3 968.0,356.7 968.8,357.8 969.5,358.8 970.2,359.7 971.0,360.5 971.8,361.2 972.5,361.9 973.2,362.4 974.0,362.8" fill="none" stroke="#000000" stroke-width="6.5" stroke-dasharray="5 5" stroke-linejoin="round" clip-path="url(#c1)"/>
<polyline points="131.0,599.8 131.8,596.8 132.5,593.8 133.2,590.7 134.0,587.5 134.8,584.3 135.5,581.1 136.2,577.9 137.0,574.8 137.8,571.6 138.5,568.6 139.2,565.6 140.0,562.7 140.8,559.9 141.5,557.3 142.2,554.8 143.0,552.4 143.8,550.2 144.5,548.1 145.2,546.3 146.0,544.6 146.8,543.1 147.5,541.7 148.2,540.5 149.0,539.6 149.8,538.7 150.5,538.1 151.2,537.6 152.0,537.2 152.8,536.9 153.5,536.8 154.2,536.7 155.0,536.7 155.8,536.7 156.5,536.8 157.2,537.0 158.0,537.3 158.8,537.7 159.5,538.3 160.2,539.1 161.0,540.0 161.8,541.1 162.5,542.5 163.2,544.0 164.0,545.8 164.8,547.8 165.5,549.9 166.2,552.3 167.0,554.8 167.8,557.6 168.5,560.5 169.2,563.6 170.0,566.8 170.8,570.1 171.5,573.6 172.2,577.1 173.0,580.7 173.8,584.4 174.5,588.1 175.2,591.8 176.0,595.5 176.8,599.1 177.5,602.7 178.2,606.2 179.0,609.6 179.8,612.9 180.5,616.0 181.2,618.9 182.0,621.7 182.8,624.3 183.5,626.6 184.2,628.7 185.0,630.5 185.8,632.1 186.5,633.4 187.2,634.4 188.0,635.1 188.8,635.5 189.5,635.6 190.2,635.4 191.0,634.9 191.8,634.1 192.5,633.0 193.2,631.7 194.0,630.0 194.8,628.1 195.5,626.0 196.2,623.6 197.0,621.0 197.8,618.2 198.5,615.3 199.2,612.2 200.0,608.9 200.8,605.6 201.5,602.2 202.2,598.7 203.0,595.2 203.8,591.7 204.5,588.3 205.2,584.8 206.0,581.4 206.8,578.2 207.5,575.0 208.2,571.9 209.0,569.0 209.8,566.3 210.5,563.7 211.2,561.3 212.0,559.1 212.8,557.1 213.5,555.3 214.2,553.7 215.0,552.3 215.8,551.2 216.5,550.2 217.2,549.4 218.0,548.8 218.8,548.4 219.5,548.1 220.2,547.9 221.0,547.8 221.8,547.8 222.5,547.8 223.2,547.9 224.0,548.0 224.8,548.2 225.5,548.6 226.2,549.0 227.0,549.6 227.8,550.4 228.5,551.3 229.2,552.3 230.0,553.5 230.8,554.8 231.5,556.4 232.2,558.0 233.0,559.8 233.8,561.8 234.5,563.9 235.2,566.1 236.0,568.5 236.8,570.9 237.5,573.5 238.2,576.1 239.0,578.8 239.8,581.6 240.5,584.4 241.2,587.2 242.0,590.0 242.8,592.9 243.5,595.6 244.2,598.4 245.0,601.0 245.8,603.6 246.5,606.1 247.2,608.5 248.0,610.7 248.8,612.8 249.5,614.8 250.2,616.5 251.0,618.1 251.8,619.5 252.5,620.7 253.2,621.7 254.0,622.4 254.8,622.9 255.5,623.2 256.2,623.3 257.0,623.0 257.8,622.2 258.5,620.9 259.2,619.3 260.0,617.1 260.8,614.6 261.5,611.8 262.2,608.6 263.0,605.1 263.8,601.3 264.5,597.3 265.2,593.1 266.0,588.8 266.8,584.4 267.5,580.0 268.2,575.5 269.0,571.1 269.8,566.8 270.5,562.7 271.2,558.7 272.0,554.8 272.8,551.3 273.5,548.0 274.2,544.9 275.0,542.2 275.8,539.8 276.5,537.7 277.2,535.9 278.0,534.4 278.8,533.3 279.5,532.4 280.2,531.8 281.0,531.4 281.8,531.2 282.5,531.1 283.2,531.1 284.0,531.1 284.8,531.3 285.5,531.5 286.2,531.8 287.0,532.3 287.8,533.0 288.5,533.8 289.2,534.8 290.0,536.0 290.8,537.4 291.5,538.9 292.2,540.7 293.0,542.7 293.8,544.8 294.5,547.2 295.2,549.7 296.0,552.4 296.8,555.2 297.5,558.2 298.2,561.4 299.0,564.6 299.8,568.0 300.5,571.5 301.2,575.0 302.0,578.6 302.8,582.2 303.5,585.8 304.2,589.5 305.0,593.0 305.8,596.6 306.5,600.1 307.2,603.4 308.0,606.7 308.8,609.8 309.5,612.8 310.2,615.6 311.0,618.2 311.8,620.6 312.5,622.8 313.2,624.8 314.0,626.5 314.8,627.9 315.5,629.1 316.2,630.0 317.0,630.7 317.8,631.0 318.5,631.1 319.2,630.8 320.0,630.3 320.8,629.4 321.5,628.2 322.2,626.6 323.0,624.8 323.8,622.7 324.5,620.4 325.2,617.8 326.0,614.9 326.8,611.9 327.5,608.6 328.2,605.2 329.0,601.7 329.8,598.0 330.5,594.2 331.2,590.4 332.0,586.5 332.8,582.6 333.5,578.7 334.2,574.9 335.0,571.1 335.8,567.3 336.5,563.7 337.2,560.2 338.0,556.9 338.8,553.7 339.5,550.6 340.2,547.8 341.0,545.2 341.8,542.8 342.5,540.6 343.2,538.6 344.0,536.8 344.8,535.3 345.5,534.0 346.2,532.9 347.0,532.0 347.8,531.3 348.5,530.7 349.2,530.4 350.0,530.1 350.8,530.0 351.5,530.0 352.2,530.0 353.0,530.1 353.8,530.2 354.5,530.5 355.2,530.9 356.0,531.5 356.8,532.2 357.5,533.1 358.2,534.3 359.0,535.6 359.8,537.1 360.5,538.9 361.2,540.8 362.0,543.0 362.8,545.3 363.5,547.8 364.2,550.5 365.0,553.4 365.8,556.4 366.5,559.5 367.2,562.8 368.0,566.1 368.8,569.5 369.5,572.9 370.2,576.4 371.0,579.9 371.8,583.3 372.5,586.7 373.2,590.0 374.0,593.2 374.8,596.3 375.5,599.3 376.2,602.0 377.0,604.6 377.8,607.0 378.5,609.1 379.2,611.0 380.0,612.7 380.8,614.1 381.5,615.2 382.2,616.0 383.0,616.5 383.8,616.7 384.5,616.6 385.2,616.0 386.0,614.9 386.8,613.5 387.5,611.6 388.2,609.3 389.0,606.6 389.8,603.6 390.5,600.3 391.2,596.6 392.0,592.7 392.8,588.6 393.5,584.3 394.2,579.8 395.0,575.3 395.8,570.6 396.5,566.0 397.2,561.3 398.0,556.8 398.8,552.3 399.5,547.9 400.2,543.7 401.0,539.7 401.8,535.9 402.5,532.4 403.2,529.1 404.0,526.1 404.8,523.4 405.5,521.0 406.2,518.9 407.0,517.2 407.8,515.7 408.5,514.5 409.2,513.6 410.0,513.0 410.8,512.5 411.5,512.3 412.2,512.2 413.0,512.2 413.8,512.2 414.5,512.3 415.2,512.5 416.0,512.8 416.8,513.2 417.5,513.8 418.2,514.5 419.0,515.4 419.8,516.4 420.5,517.7 421.2,519.1 422.0,520.8 422.8,522.6 423.5,524.6 424.2,526.8 425.0,529.2 425.8,531.7 426.5,534.5 427.2,537.4 428.0,540.4 428.8,543.6 429.5,547.0 430.2,550.4 431.0,553.9 431.8,557.6 432.5,561.3 433.2,565.0 434.0,568.8 434.8,572.6 435.5,576.3 436.2,580.1 437.0,583.8 437.8,587.4 438.5,591.0 439.2,594.5 440.0,597.8 440.8,601.0 441.5,604.0 442.2,606.9 443.0,609.6 443.8,612.0 444.5,614.3 445.2,616.3 446.0,618.1 446.8,619.6 447.5,620.9 448.2,621.9 449.0,622.7 449.8,623.1 450.5,623.3 451.2,623.2 452.0,622.6 452.8,621.7 453.5,620.4 454.2,618.7 455.0,616.7 455.8,614.4 456.5,611.7 457.2,608.7 458.0,605.5 458.8,601.9 459.5,598.2 460.2,594.3 461.0,590.2 461.8,585.9 462.5,581.6 463.2,577.1 464.0,572.7 464.8,568.2 465.5,563.7 466.2,559.3 467.0,554.9 467.8,550.7 468.5,546.6 469.2,542.7 470.0,538.9 470.8,535.3 471.5,532.0 472.2,528.9 473.0,526.0 473.8,523.4 474.5,521.1 475.2,519.0 476.0,517.2 476.8,515.6 477.5,514.3 478.2,513.3 479.0,512.5 479.8,511.9 480.5,511.5 481.2,511.2 482.0,511.1 482.8,511.1 483.5,511.1 484.2,511.2 485.0,511.4 485.8,511.7 486.5,512.3 487.2,513.0 488.0,513.9 488.8,515.0 489.5,516.4 490.2,518.0 491.0,519.8 491.8,521.9 492.5,524.2 493.2,526.8 494.0,529.5 494.8,532.5 495.5,535.7 496.2,539.1 497.0,542.6 497.8,546.3 498.5,550.1 499.2,554.0 500.0,558.0 500.8,562.0 501.5,566.0 502.2,570.1 503.0,574.1 503.8,578.0 504.5,581.8 505.2,585.6 506.0,589.1 506.8,592.5 507.5,595.7 508.2,598.7 509.0,601.4 509.8,603.8 510.5,606.0 511.2,607.9 512.0,609.4 512.8,610.6 513.5,611.5 514.2,612.0 515.0,612.2 515.8,611.9 516.5,611.2 517.2,609.9 518.0,608.1 518.8,605.9 519.5,603.1 520.2,600.0 521.0,596.5 521.8,592.6 522.5,588.4 523.2,584.0 524.0,579.3 524.8,574.4 525.5,569.3 526.2,564.2 527.0,559.1 527.8,554.0 528.5,548.9 529.2,543.9 530.0,539.1 530.8,534.4 531.5,530.0 532.2,525.9 533.0,522.0 533.8,518.4 534.5,515.2 535.2,512.3 536.0,509.8 536.8,507.6 537.5,505.7 538.2,504.3 539.0,503.1 539.8,502.2 540.5,501.6 541.2,501.3 542.0,501.1 542.8,501.1 543.5,501.1 544.2,501.2 545.0,501.3 545.8,501.5 546.5,501.8 547.2,502.3 548.0,502.9 548.8,503.6 549.5,504.5 550.2,505.6 551.0,506.8 551.8,508.2 552.5,509.7 553.2,511.5 554.0,513.4 554.8,515.5 555.5,517.8 556.2,520.2 557.0,522.8 557.8,525.5 558.5,528.4 559.2,531.4 560.0,534.5 560.8,537.8 561.5,541.1 562.2,544.5 563.0,548.1 563.8,551.6 564.5,555.2 565.2,558.9 566.0,562.5 566.8,566.2 567.5,569.8 568.2,573.4 569.0,576.9 569.8,580.3 570.5,583.7 571.2,587.0 572.0,590.1 572.8,593.1 573.5,596.0 574.2,598.7 575.0,601.2 575.8,603.5 576.5,605.6 577.2,607.6 578.0,609.3 578.8,610.7 579.5,611.9 580.2,612.9 581.0,613.7 581.8,614.1 582.5,614.4 583.2,614.3 584.0,613.9 584.8,613.1 585.5,611.9 586.2,610.3 587.0,608.4 587.8,606.1 588.5,603.5 589.2,600.6 590.0,597.4 590.8,593.9 591.5,590.2 592.2,586.3 593.0,582.2 593.8,577.9 594.5,573.5 595.2,569.1 596.0,564.5 596.8,559.9 597.5,555.4 598.2,550.8 599.0,546.3 599.8,541.9 600.5,537.7 601.2,533.5 602.0,529.5 602.8,525.7 603.5,522.2 604.2,518.8 605.0,515.7 605.8,512.8 606.5,510.2 607.2,507.8 608.0,505.8 608.8,503.9 609.5,502.4 610.2,501.1 611.0,500.0 611.8,499.2 612.5,498.6 613.2,498.2 614.0,497.9 614.8,497.8 615.5,497.8 616.2,497.8 617.0,497.9 617.8,498.1 618.5,498.5 619.2,499.1 620.0,499.8 620.8,500.8 621.5,502.1 622.2,503.6 623.0,505.3 623.8,507.3 624.5,509.6 625.2,512.2 626.0,515.0 626.8,518.0 627.5,521.3 628.2,524.7 629.0,528.4 629.8,532.2 630.5,536.2 631.2,540.3 632.0,544.5 632.8,548.7 633.5,553.0 634.2,557.3 635.0,561.5 635.8,565.7 636.5,569.8 637.2,573.7 638.0,577.5 638.8,581.1 639.5,584.4 640.2,587.6 641.0,590.4 641.8,593.0 642.5,595.2 643.2,597.1 644.0,598.6 644.8,599.8 645.5,600.6 646.2,601.0 647.0,601.1 647.8,600.6 648.5,599.7 649.2,598.3 650.0,596.5 650.8,594.2 651.5,591.5 652.2,588.4 653.0,585.0 653.8,581.2 654.5,577.2 655.2,572.9 656.0,568.5 656.8,563.8 657.5,559.1 658.2,554.3 659.0,549.5 659.8,544.8 660.5,540.1 661.2,535.5 662.0,531.1 662.8,526.8 663.5,522.8 664.2,519.0 665.0,515.6 665.8,512.4 666.5,509.5 667.2,507.0 668.0,504.8 668.8,502.9 669.5,501.4 670.2,500.1 671.0,499.2 671.8,498.5 672.5,498.1 673.2,497.9 674.0,497.8 674.8,497.8 675.5,497.8 676.2,497.9 677.0,498.1 677.8,498.4 678.5,498.9 679.2,499.4 680.0,500.1 680.8,501.0 681.5,502.1 682.2,503.3 683.0,504.7 683.8,506.3 684.5,508.1 685.2,510.1 686.0,512.3 686.8,514.6 687.5,517.1 688.2,519.8 689.0,522.7 689.8,525.7 690.5,528.8 691.2,532.1 692.0,535.5 692.8,539.0 693.5,542.6 694.2,546.2 695.0,549.9 695.8,553.7 696.5,557.5 697.2,561.3 698.0,565.0 698.8,568.8 699.5,572.5 700.2,576.1 701.0,579.6 701.8,583.1 702.5,586.4 703.2,589.6 704.0,592.6 704.8,595.5 705.5,598.1 706.2,600.6 707.0,602.9 707.8,604.9 708.5,606.7 709.2,608.3 710.0,609.6 710.8,610.6 711.5,611.4 712.2,611.9 713.0,612.2 713.8,612.1 714.5,611.8 715.2,611.1 716.0,610.2 716.8,608.9 717.5,607.3 718.2,605.5 719.0,603.3 719.8,601.0 720.5,598.3 721.2,595.4 722.0,592.3 722.8,589.1 723.5,585.6 724.2,582.0 725.0,578.2 725.8,574.3 726.5,570.3 727.2,566.3 728.0,562.2 728.8,558.1 729.5,553.9 730.2,549.8 731.0,545.7 731.8,541.7 732.5,537.8 733.2,533.9 734.0,530.2 734.8,526.6 735.5,523.2 736.2,519.9 737.0,516.8 737.8,513.9 738.5,511.2 739.2,508.7 740.0,506.4 740.8,504.3 741.5,502.4 742.2,500.8 743.0,499.3 743.8,498.1 744.5,497.1 745.2,496.2 746.0,495.6 746.8,495.1 747.5,494.8 748.2,494.5 749.0,494.4 749.8,494.4 750.5,494.4 751.2,494.5 752.0,494.7 752.8,495.0 753.5,495.5 754.2,496.2 755.0,497.2 755.8,498.3 756.5,499.8 757.2,501.5 758.0,503.4 758.8,505.6 759.5,508.1 760.2,510.8 761.0,513.8 761.8,517.1 762.5,520.5 763.2,524.2 764.0,528.0 764.8,532.0 765.5,536.2 766.2,540.4 767.0,544.8 767.8,549.2 768.5,553.6 769.2,558.1 770.0,562.5 770.8,566.8 771.5,571.1 772.2,575.2 773.0,579.2 773.8,583.0 774.5,586.6 775.2,589.9 776.0,592.9 776.8,595.7 777.5,598.2 778.2,600.3 779.0,602.1 779.8,603.5 780.5,604.6 781.2,605.3 782.0,605.6 782.8,605.5 783.5,604.8 784.2,603.6 785.0,602.0 785.8,599.8 786.5,597.2 787.2,594.1 788.0,590.6 788.8,586.8 789.5,582.7 790.2,578.3 791.0,573.6 791.8,568.8 792.5,563.9 793.2,558.8 794.0,553.8 794.8,548.8 795.5,543.9 796.2,539.1 797.0,534.4 797.8,530.0 798.5,525.8 799.2,521.9 800.0,518.3 800.8,515.1 801.5,512.2 802.2,509.6 803.0,507.4 803.8,505.6 804.5,504.1 805.2,503.0 806.0,502.1 806.8,501.6 807.5,501.3 808.2,501.1 809.0,501.1 809.8,501.1 810.5,501.2 811.2,501.3 812.0,501.6 812.8,501.9 813.5,502.4 814.2,503.0 815.0,503.8 815.8,504.8 816.5,505.8 817.2,507.1 818.0,508.6 818.8,510.2 819.5,512.0 820.2,513.9 821.0,516.1 821.8,518.4 822.5,520.9 823.2,523.5 824.0,526.3 824.8,529.3 825.5,532.3 826.2,535.5 827.0,538.8 827.8,542.2 828.5,545.7 829.2,549.3 830.0,552.9 830.8,556.5 831.5,560.2 832.2,563.9 833.0,567.6 833.8,571.2 834.5,574.8 835.2,578.4 836.0,581.9 836.8,585.3 837.5,588.5 838.2,591.7 839.0,594.7 839.8,597.5 840.5,600.2 841.2,602.7 842.0,605.1 842.8,607.2 843.5,609.1 844.2,610.7 845.0,612.1 845.8,613.3 846.5,614.3 847.2,615.0 848.0,615.4 848.8,615.6 849.5,615.5 850.2,615.1 851.0,614.4 851.8,613.3 852.5,612.0 853.2,610.3 854.0,608.4 854.8,606.2 855.5,603.7 856.2,601.0 857.0,598.1 857.8,594.9 858.5,591.6 859.2,588.0 860.0,584.3 860.8,580.5 861.5,576.6 862.2,572.5 863.0,568.4 863.8,564.3 864.5,560.1 865.2,555.9 866.0,551.8 866.8,547.7 867.5,543.6 868.2,539.7 869.0,535.8 869.8,532.1 870.5,528.5 871.2,525.1 872.0,521.8 872.8,518.7 873.5,515.8 874.2,513.1 875.0,510.6 875.8,508.3 876.5,506.3 877.2,504.4 878.0,502.8 878.8,501.4 879.5,500.2 880.2,499.2 881.0,498.4 881.8,497.8 882.5,497.3 883.2,497.0 884.0,496.8 884.8,496.7 885.5,496.7 886.2,496.7 887.0,496.8 887.8,497.0 888.5,497.4 889.2,498.0 890.0,498.8 890.8,499.8 891.5,501.0 892.2,502.6 893.0,504.3 893.8,506.4 894.5,508.7 895.2,511.3 896.0,514.2 896.8,517.3 897.5,520.7 898.2,524.3 899.0,528.1 899.8,532.1 900.5,536.2 901.2,540.5 902.0,544.9 902.8,549.4 903.5,554.0 904.2,558.6 905.0,563.1 905.8,567.6 906.5,572.1 907.2,576.5 908.0,580.7 908.8,584.7 909.5,588.6 910.2,592.2 911.0,595.6 911.8,598.7 912.5,601.5 913.2,603.9 914.0,606.1 914.8,607.8 915.5,609.2 916.2,610.3 917.0,610.9 917.8,611.1 918.5,610.9 919.2,610.2 920.0,609.0 920.8,607.4 921.5,605.3 922.2,602.8 923.0,599.9 923.8,596.6 924.5,593.0 925.2,589.0 926.0,584.8 926.8,580.3 927.5,575.7 928.2,570.9 929.0,566.0 929.8,561.0 930.5,556.0 931.2,551.0 932.0,546.1 932.8,541.3 933.5,536.6 934.2,532.1 935.0,527.9 935.8,523.8 936.5,520.1 937.2,516.6 938.0,513.4 938.8,510.6 939.5,508.1 940.2,505.9 941.0,504.0 941.8,502.5 942.5,501.3 943.2,500.3 944.0,499.7 944.8,499.2 945.5,499.0 946.2,498.9 947.0,498.9 947.8,498.9 948.5,499.0 949.2,499.2 950.0,499.4 950.8,499.8 951.5,500.2 952.2,500.8 953.0,501.5 953.8,502.4 954.5,503.4 955.2,504.6 956.0,505.9 956.8,507.3 957.5,508.9 958.2,510.6 959.0,512.5 959.8,514.5 960.5,516.6 961.2,518.8 962.0,521.1 962.8,523.5 963.5,526.0 964.2,528.5 965.0,531.1 965.8,533.6 966.5,536.3 967.2,538.9 968.0,541.5 968.8,544.0 969.5,546.5 970.2,548.9 971.0,551.3 971.8,553.6 972.5,555.7 973.2,557.7 974.0,559.6" fill="none" stroke="#0072BD" stroke-width="6.2" stroke-linejoin="round" clip-path="url(#c2)"/>
<polyline points="131.0,603.5 131.8,600.2 132.5,596.8 133.2,593.4 134.0,589.9 134.8,586.4 135.5,582.8 136.2,579.3 137.0,575.9 137.8,572.5 138.5,569.2 139.2,566.0 140.0,562.9 140.8,560.0 141.5,557.2 142.2,554.6 143.0,552.2 143.8,549.9 144.5,547.9 145.2,546.0 146.0,544.4 146.8,542.9 147.5,541.7 148.2,540.6 149.0,539.8 149.8,539.1 150.5,538.6 151.2,538.2 152.0,538.0 152.8,537.8 153.5,537.8 154.2,537.8 155.0,537.8 155.8,538.0 156.5,538.2 157.2,538.6 158.0,539.1 158.8,539.7 159.5,540.6 160.2,541.7 161.0,542.9 161.8,544.4 162.5,546.0 163.2,547.9 164.0,549.9 164.8,552.2 165.5,554.7 166.2,557.3 167.0,560.1 167.8,563.1 168.5,566.2 169.2,569.4 170.0,572.7 170.8,576.2 171.5,579.7 172.2,583.2 173.0,586.8 173.8,590.3 174.5,593.9 175.2,597.4 176.0,600.8 176.8,604.1 177.5,607.3 178.2,610.4 179.0,613.3 179.8,616.1 180.5,618.6 181.2,620.9 182.0,623.0 182.8,624.8 183.5,626.4 184.2,627.7 185.0,628.7 185.8,629.4 186.5,629.9 187.2,630.0 188.0,629.8 188.8,629.4 189.5,628.7 190.2,627.6 191.0,626.4 191.8,624.8 192.5,623.0 193.2,621.0 194.0,618.8 194.8,616.3 195.5,613.6 196.2,610.8 197.0,607.9 197.8,604.8 198.5,601.5 199.2,598.2 200.0,594.9 200.8,591.5 201.5,588.0 202.2,584.6 203.0,581.2 203.8,577.9 204.5,574.6 205.2,571.4 206.0,568.3 206.8,565.3 207.5,562.5 208.2,559.8 209.0,557.2 209.8,554.9 210.5,552.7 211.2,550.8 212.0,549.0 212.8,547.4 213.5,546.0 214.2,544.8 215.0,543.8 215.8,543.0 216.5,542.3 217.2,541.8 218.0,541.5 218.8,541.3 219.5,541.1 220.2,541.1 221.0,541.1 221.8,541.2 222.5,541.3 223.2,541.5 224.0,542.0 224.8,542.5 225.5,543.3 226.2,544.2 227.0,545.4 227.8,546.8 228.5,548.3 229.2,550.1 230.0,552.1 230.8,554.4 231.5,556.8 232.2,559.4 233.0,562.2 233.8,565.1 234.5,568.2 235.2,571.4 236.0,574.7 236.8,578.1 237.5,581.6 238.2,585.1 239.0,588.6 239.8,592.1 240.5,595.5 241.2,598.9 242.0,602.1 242.8,605.3 243.5,608.3 244.2,611.1 245.0,613.7 245.8,616.1 246.5,618.3 247.2,620.2 248.0,621.8 248.8,623.2 249.5,624.3 250.2,625.0 251.0,625.5 251.8,625.6 252.5,625.4 253.2,624.9 254.0,624.0 254.8,622.8 255.5,621.3 256.2,619.4 257.0,617.3 257.8,614.9 258.5,612.2 259.2,609.3 260.0,606.1 260.8,602.8 261.5,599.3 262.2,595.7 263.0,591.9 263.8,588.0 264.5,584.1 265.2,580.2 266.0,576.2 266.8,572.3 267.5,568.4 268.2,564.6 269.0,560.9 269.8,557.3 270.5,553.8 271.2,550.6 272.0,547.4 272.8,544.5 273.5,541.8 274.2,539.4 275.0,537.1 275.8,535.1 276.5,533.3 277.2,531.8 278.0,530.4 278.8,529.4 279.5,528.5 280.2,527.8 281.0,527.3 281.8,527.0 282.5,526.8 283.2,526.7 284.0,526.7 284.8,526.7 285.5,526.8 286.2,527.1 287.0,527.5 287.8,528.1 288.5,528.8 289.2,529.8 290.0,531.1 290.8,532.6 291.5,534.3 292.2,536.3 293.0,538.5 293.8,541.0 294.5,543.8 295.2,546.7 296.0,549.9 296.8,553.3 297.5,556.9 298.2,560.7 299.0,564.6 299.8,568.6 300.5,572.8 301.2,577.0 302.0,581.2 302.8,585.5 303.5,589.7 304.2,593.9 305.0,598.1 305.8,602.1 306.5,606.0 307.2,609.7 308.0,613.2 308.8,616.6 309.5,619.6 310.2,622.5 311.0,625.0 311.8,627.2 312.5,629.1 313.2,630.6 314.0,631.9 314.8,632.7 315.5,633.2 316.2,633.3 317.0,633.1 317.8,632.6 318.5,631.7 319.2,630.6 320.0,629.2 320.8,627.5 321.5,625.6 322.2,623.4 323.0,620.9 323.8,618.2 324.5,615.3 325.2,612.2 326.0,608.9 326.8,605.5 327.5,602.0 328.2,598.3 329.0,594.5 329.8,590.7 330.5,586.8 331.2,583.0 332.0,579.1 332.8,575.2 333.5,571.4 334.2,567.6 335.0,563.9 335.8,560.3 336.5,556.9 337.2,553.6 338.0,550.4 338.8,547.4 339.5,544.6 340.2,541.9 341.0,539.5 341.8,537.2 342.5,535.2 343.2,533.4 344.0,531.8 344.8,530.4 345.5,529.2 346.2,528.2 347.0,527.4 347.8,526.7 348.5,526.3 349.2,525.9 350.0,525.7 350.8,525.6 351.5,525.6 352.2,525.6 353.0,525.7 353.8,525.9 354.5,526.2 355.2,526.7 356.0,527.4 356.8,528.3 357.5,529.4 358.2,530.8 359.0,532.4 359.8,534.3 360.5,536.4 361.2,538.7 362.0,541.3 362.8,544.1 363.5,547.1 364.2,550.3 365.0,553.8 365.8,557.3 366.5,561.0 367.2,564.8 368.0,568.7 368.8,572.7 369.5,576.7 370.2,580.7 371.0,584.7 371.8,588.6 372.5,592.4 373.2,596.1 374.0,599.7 374.8,603.0 375.5,606.2 376.2,609.2 377.0,611.9 377.8,614.3 378.5,616.4 379.2,618.2 380.0,619.7 380.8,620.9 381.5,621.7 382.2,622.1 383.0,622.2 383.8,621.9 384.5,621.1 385.2,619.9 386.0,618.4 386.8,616.4 387.5,614.0 388.2,611.4 389.0,608.3 389.8,605.0 390.5,601.4 391.2,597.5 392.0,593.5 392.8,589.2 393.5,584.8 394.2,580.4 395.0,575.8 395.8,571.2 396.5,566.7 397.2,562.2 398.0,557.7 398.8,553.4 399.5,549.2 400.2,545.2 401.0,541.4 401.8,537.8 402.5,534.4 403.2,531.4 404.0,528.6 404.8,526.0 405.5,523.8 406.2,521.9 407.0,520.2 407.8,518.9 408.5,517.8 409.2,516.9 410.0,516.3 410.8,515.9 411.5,515.7 412.2,515.6 413.0,515.6 413.8,515.6 414.5,515.7 415.2,516.0 416.0,516.3 416.8,516.8 417.5,517.5 418.2,518.4 419.0,519.4 419.8,520.7 420.5,522.2 421.2,523.9 422.0,525.9 422.8,528.1 423.5,530.4 424.2,533.1 425.0,535.9 425.8,538.9 426.5,542.1 427.2,545.5 428.0,549.0 428.8,552.7 429.5,556.5 430.2,560.5 431.0,564.5 431.8,568.6 432.5,572.7 433.2,576.8 434.0,581.0 434.8,585.1 435.5,589.2 436.2,593.2 437.0,597.1 437.8,600.8 438.5,604.5 439.2,607.9 440.0,611.2 440.8,614.3 441.5,617.1 442.2,619.7 443.0,622.0 443.8,624.1 444.5,625.9 445.2,627.3 446.0,628.5 446.8,629.3 447.5,629.8 448.2,630.0 449.0,629.8 449.8,629.4 450.5,628.5 451.2,627.3 452.0,625.8 452.8,624.0 453.5,621.9 454.2,619.5 455.0,616.8 455.8,613.8 456.5,610.6 457.2,607.2 458.0,603.6 458.8,599.8 459.5,595.9 460.2,591.9 461.0,587.7 461.8,583.5 462.5,579.3 463.2,575.0 464.0,570.7 464.8,566.5 465.5,562.3 466.2,558.3 467.0,554.3 467.8,550.4 468.5,546.7 469.2,543.2 470.0,539.8 470.8,536.7 471.5,533.7 472.2,531.0 473.0,528.5 473.8,526.2 474.5,524.2 475.2,522.4 476.0,520.8 476.8,519.5 477.5,518.4 478.2,517.5 479.0,516.8 479.8,516.3 480.5,515.9 481.2,515.7 482.0,515.6 482.8,515.6 483.5,515.6 484.2,515.7 485.0,516.0 485.8,516.4 486.5,517.0 487.2,517.8 488.0,518.9 488.8,520.2 489.5,521.9 490.2,523.7 491.0,525.9 491.8,528.4 492.5,531.1 493.2,534.1 494.0,537.3 494.8,540.8 495.5,544.5 496.2,548.5 497.0,552.5 497.8,556.8 498.5,561.2 499.2,565.6 500.0,570.1 500.8,574.7 501.5,579.2 502.2,583.8 503.0,588.2 503.8,592.5 504.5,596.7 505.2,600.7 506.0,604.5 506.8,608.1 507.5,611.4 508.2,614.4 509.0,617.1 509.8,619.4 510.5,621.4 511.2,623.1 512.0,624.3 512.8,625.1 513.5,625.5 514.2,625.5 515.0,625.1 515.8,624.2 516.5,622.8 517.2,621.0 518.0,618.8 518.8,616.1 519.5,613.1 520.2,609.7 521.0,606.0 521.8,602.0 522.5,597.7 523.2,593.2 524.0,588.6 524.8,583.7 525.5,578.8 526.2,573.8 527.0,568.8 527.8,563.8 528.5,558.9 529.2,554.0 530.0,549.3 530.8,544.8 531.5,540.4 532.2,536.3 533.0,532.4 533.8,528.8 534.5,525.5 535.2,522.5 536.0,519.8 536.8,517.4 537.5,515.4 538.2,513.6 539.0,512.2 539.8,511.1 540.5,510.2 541.2,509.6 542.0,509.2 542.8,509.0 543.5,508.9 544.2,508.9 545.0,508.9 545.8,509.1 546.5,509.4 547.2,509.8 548.0,510.4 548.8,511.2 549.5,512.2 550.2,513.5 551.0,515.0 551.8,516.7 552.5,518.7 553.2,520.9 554.0,523.4 554.8,526.1 555.5,529.1 556.2,532.2 557.0,535.6 557.8,539.2 558.5,543.0 559.2,546.9 560.0,551.0 560.8,555.2 561.5,559.5 562.2,563.9 563.0,568.3 563.8,572.7 564.5,577.2 565.2,581.6 566.0,586.0 566.8,590.2 567.5,594.4 568.2,598.4 569.0,602.3 569.8,605.9 570.5,609.4 571.2,612.6 572.0,615.5 572.8,618.2 573.5,620.5 574.2,622.6 575.0,624.3 575.8,625.7 576.5,626.8 577.2,627.4 578.0,627.8 578.8,627.7 579.5,627.4 580.2,626.6 581.0,625.6 581.8,624.2 582.5,622.5 583.2,620.5 584.0,618.1 584.8,615.5 585.5,612.7 586.2,609.5 587.0,606.2 587.8,602.6 588.5,598.8 589.2,594.9 590.0,590.8 590.8,586.6 591.5,582.3 592.2,577.9 593.0,573.5 593.8,569.1 594.5,564.6 595.2,560.2 596.0,555.9 596.8,551.6 597.5,547.4 598.2,543.3 599.0,539.4 599.8,535.6 600.5,532.0 601.2,528.6 602.0,525.3 602.8,522.3 603.5,519.5 604.2,517.0 605.0,514.6 605.8,512.5 606.5,510.7 607.2,509.0 608.0,507.6 608.8,506.5 609.5,505.5 610.2,504.7 611.0,504.2 611.8,503.8 612.5,503.5 613.2,503.4 614.0,503.3 614.8,503.3 615.5,503.4 616.2,503.6 617.0,504.0 617.8,504.6 618.5,505.5 619.2,506.6 620.0,508.1 620.8,509.8 621.5,511.9 622.2,514.3 623.0,517.1 623.8,520.2 624.5,523.6 625.2,527.2 626.0,531.2 626.8,535.4 627.5,539.9 628.2,544.6 629.0,549.4 629.8,554.4 630.5,559.4 631.2,564.6 632.0,569.7 632.8,574.9 633.5,579.9 634.2,584.9 635.0,589.7 635.8,594.3 636.5,598.7 637.2,602.9 638.0,606.7 638.8,610.2 639.5,613.4 640.2,616.1 641.0,618.4 641.8,620.3 642.5,621.8 643.2,622.7 644.0,623.2 644.8,623.2 645.5,622.7 646.2,621.6 647.0,620.0 647.8,617.9 648.5,615.3 649.2,612.2 650.0,608.7 650.8,604.8 651.5,600.5 652.2,595.9 653.0,591.0 653.8,585.8 654.5,580.5 655.2,575.0 656.0,569.4 656.8,563.7 657.5,558.1 658.2,552.5 659.0,547.0 659.8,541.7 660.5,536.5 661.2,531.6 662.0,526.9 662.8,522.5 663.5,518.4 664.2,514.7 665.0,511.3 665.8,508.3 666.5,505.7 667.2,503.4 668.0,501.5 668.8,500.0 669.5,498.8 670.2,497.9 671.0,497.3 671.8,496.9 672.5,496.7 673.2,496.7 674.0,496.7 674.8,496.8 675.5,496.9 676.2,497.2 677.0,497.6 677.8,498.2 678.5,499.0 679.2,499.9 680.0,501.0 680.8,502.4 681.5,503.9 682.2,505.7 683.0,507.6 683.8,509.8 684.5,512.2 685.2,514.8 686.0,517.6 686.8,520.6 687.5,523.8 688.2,527.2 689.0,530.7 689.8,534.4 690.5,538.2 691.2,542.1 692.0,546.1 692.8,550.2 693.5,554.4 694.2,558.6 695.0,562.9 695.8,567.1 696.5,571.3 697.2,575.5 698.0,579.6 698.8,583.6 699.5,587.5 700.2,591.3 701.0,594.9 701.8,598.4 702.5,601.7 703.2,604.8 704.0,607.6 704.8,610.2 705.5,612.6 706.2,614.7 707.0,616.5 707.8,618.0 708.5,619.2 709.2,620.1 710.0,620.8 710.8,621.1 711.5,621.0 712.2,620.6 713.0,619.8 713.8,618.6 714.5,617.0 715.2,615.1 716.0,612.7 716.8,610.1 717.5,607.1 718.2,603.8 719.0,600.2 719.8,596.4 720.5,592.3 721.2,588.0 722.0,583.5 722.8,578.9 723.5,574.2 724.2,569.3 725.0,564.4 725.8,559.5 726.5,554.6 727.2,549.7 728.0,544.8 728.8,540.1 729.5,535.4 730.2,530.9 731.0,526.5 731.8,522.4 732.5,518.4 733.2,514.7 734.0,511.2 734.8,507.9 735.5,504.9 736.2,502.2 737.0,499.7 737.8,497.5 738.5,495.6 739.2,494.0 740.0,492.6 740.8,491.5 741.5,490.6 742.2,489.9 743.0,489.4 743.8,489.1 744.5,489.0 745.2,488.9 746.0,488.9 746.8,489.0 747.5,489.1 748.2,489.5 749.0,490.0 749.8,490.7 750.5,491.6 751.2,492.8 752.0,494.3 752.8,496.0 753.5,498.0 754.2,500.2 755.0,502.8 755.8,505.6 756.5,508.7 757.2,512.1 758.0,515.7 758.8,519.5 759.5,523.6 760.2,527.8 761.0,532.2 761.8,536.8 762.5,541.4 763.2,546.2 764.0,551.0 764.8,555.9 765.5,560.7 766.2,565.5 767.0,570.3 767.8,574.9 768.5,579.5 769.2,583.8 770.0,588.0 770.8,592.0 771.5,595.7 772.2,599.1 773.0,602.2 773.8,605.0 774.5,607.5 775.2,609.6 776.0,611.4 776.8,612.7 777.5,613.7 778.2,614.2 779.0,614.4 779.8,613.9 780.5,612.7 781.2,610.8 782.0,608.1 782.8,604.8 783.5,600.9 784.2,596.4 785.0,591.5 785.8,586.0 786.5,580.2 787.2,574.1 788.0,567.8 788.8,561.4 789.5,554.9 790.2,548.4 791.0,542.0 791.8,535.8 792.5,529.8 793.2,524.2 794.0,518.9 794.8,514.0 795.5,509.5 796.2,505.6 797.0,502.1 797.8,499.1 798.5,496.7 799.2,494.7 800.0,493.3 800.8,492.2 801.5,491.6 802.2,491.2 803.0,491.1 803.8,491.1 804.5,491.1 805.2,491.3 806.0,491.5 806.8,491.8 807.5,492.2 808.2,492.8 809.0,493.5 809.8,494.4 810.5,495.5 811.2,496.7 812.0,498.2 812.8,499.8 813.5,501.6 814.2,503.5 815.0,505.7 815.8,508.1 816.5,510.6 817.2,513.3 818.0,516.2 818.8,519.2 819.5,522.4 820.2,525.7 821.0,529.1 821.8,532.7 822.5,536.3 823.2,540.0 824.0,543.8 824.8,547.7 825.5,551.5 826.2,555.4 827.0,559.3 827.8,563.2 828.5,567.1 829.2,570.9 830.0,574.6 830.8,578.2 831.5,581.7 832.2,585.1 833.0,588.4 833.8,591.5 834.5,594.5 835.2,597.2 836.0,599.8 836.8,602.1 837.5,604.2 838.2,606.1 839.0,607.8 839.8,609.2 840.5,610.3 841.2,611.2 842.0,611.8 842.8,612.1 843.5,612.2 844.2,612.0 845.0,611.4 845.8,610.6 846.5,609.4 847.2,608.0 848.0,606.3 848.8,604.3 849.5,602.0 850.2,599.5 851.0,596.7 851.8,593.8 852.5,590.6 853.2,587.2 854.0,583.6 854.8,579.9 855.5,576.0 856.2,572.1 857.0,568.0 857.8,563.8 858.5,559.6 859.2,555.4 860.0,551.1 860.8,546.8 861.5,542.6 862.2,538.4 863.0,534.3 863.8,530.2 864.5,526.3 865.2,522.4 866.0,518.7 866.8,515.2 867.5,511.8 868.2,508.5 869.0,505.5 869.8,502.6 870.5,499.9 871.2,497.5 872.0,495.2 872.8,493.2 873.5,491.3 874.2,489.7 875.0,488.3 875.8,487.1 876.5,486.1 877.2,485.2 878.0,484.6 878.8,484.1 879.5,483.7 880.2,483.5 881.0,483.3 881.8,483.3 882.5,483.3 883.2,483.4 884.0,483.5 884.8,483.9 885.5,484.5 886.2,485.3 887.0,486.3 887.8,487.7 888.5,489.4 889.2,491.3 890.0,493.6 890.8,496.2 891.5,499.2 892.2,502.4 893.0,505.9 893.8,509.7 894.5,513.8 895.2,518.1 896.0,522.6 896.8,527.3 897.5,532.2 898.2,537.2 899.0,542.3 899.8,547.4 900.5,552.6 901.2,557.7 902.0,562.8 902.8,567.8 903.5,572.6 904.2,577.2 905.0,581.7 905.8,585.9 906.5,589.8 907.2,593.4 908.0,596.6 908.8,599.5 909.5,601.9 910.2,604.0 911.0,605.6 911.8,606.8 912.5,607.5 913.2,607.8 914.0,607.6 914.8,606.9 915.5,605.6 916.2,603.9 917.0,601.7 917.8,599.1 918.5,596.0 919.2,592.6 920.0,588.8 920.8,584.6 921.5,580.2 922.2,575.5 923.0,570.6 923.8,565.6 924.5,560.4 925.2,555.2 926.0,549.9 926.8,544.7 927.5,539.5 928.2,534.5 929.0,529.6 929.8,524.9 930.5,520.4 931.2,516.2 932.0,512.2 932.8,508.6 933.5,505.2 934.2,502.3 935.0,499.6 935.8,497.3 936.5,495.4 937.2,493.8 938.0,492.5 938.8,491.5 939.5,490.8 940.2,490.3 941.0,490.1 941.8,490.0 942.5,490.0 943.2,490.0 944.0,490.1 944.8,490.3 945.5,490.5 946.2,490.9 947.0,491.4 947.8,492.1 948.5,492.9 949.2,493.8 950.0,495.0 950.8,496.2 951.5,497.7 952.2,499.3 953.0,501.1 953.8,503.1 954.5,505.2 955.2,507.5 956.0,509.9 956.8,512.5 957.5,515.2 958.2,518.1 959.0,521.1 959.8,524.2 960.5,527.3 961.2,530.6 962.0,533.9 962.8,537.3 963.5,540.7 964.2,544.2 965.0,547.6 965.8,551.1 966.5,554.5 967.2,557.8 968.0,561.1 968.8,564.3 969.5,567.5 970.2,570.5 971.0,573.4 971.8,576.1 972.5,578.7 973.2,581.1 974.0,583.4" fill="none" stroke="#D95319" stroke-width="6.5" stroke-dasharray="20 5 10 5" stroke-linejoin="round" clip-path="url(#c2)"/>
<polyline points="131.0,601.2 131.8,597.7 132.5,594.2 133.2,590.7 134.0,587.1 134.8,583.6 135.5,580.0 136.2,576.6 137.0,573.1 137.8,569.8 138.5,566.5 139.2,563.3 140.0,560.2 140.8,557.3 141.5,554.4 142.2,551.8 143.0,549.2 143.8,546.9 144.5,544.7 145.2,542.7 146.0,540.8 146.8,539.1 147.5,537.6 148.2,536.3 149.0,535.1 149.8,534.1 150.5,533.3 151.2,532.6 152.0,532.1 152.8,531.7 153.5,531.4 154.2,531.2 155.0,531.1 155.8,531.1 156.5,531.1 157.2,531.1 158.0,531.2 158.8,531.4 159.5,531.7 160.2,532.1 161.0,532.6 161.8,533.3 162.5,534.1 163.2,535.1 164.0,536.2 164.8,537.5 165.5,539.0 166.2,540.7 167.0,542.5 167.8,544.5 168.5,546.6 169.2,548.9 170.0,551.4 170.8,554.0 171.5,556.7 172.2,559.6 173.0,562.6 173.8,565.7 174.5,568.9 175.2,572.2 176.0,575.6 176.8,579.0 177.5,582.4 178.2,585.8 179.0,589.3 179.8,592.8 180.5,596.2 181.2,599.5 182.0,602.8 182.8,606.1 183.5,609.2 184.2,612.2 185.0,615.1 185.8,617.9 186.5,620.5 187.2,622.9 188.0,625.2 188.8,627.2 189.5,629.1 190.2,630.7 191.0,632.1 191.8,633.3 192.5,634.2 193.2,634.9 194.0,635.4 194.8,635.6 195.5,635.5 196.2,635.2 197.0,634.7 197.8,633.9 198.5,632.8 199.2,631.5 200.0,630.0 200.8,628.2 201.5,626.2 202.2,624.1 203.0,621.7 203.8,619.2 204.5,616.5 205.2,613.6 206.0,610.7 206.8,607.6 207.5,604.5 208.2,601.3 209.0,598.0 209.8,594.7 210.5,591.4 211.2,588.1 212.0,584.9 212.8,581.7 213.5,578.5 214.2,575.4 215.0,572.4 215.8,569.6 216.5,566.8 217.2,564.2 218.0,561.7 218.8,559.4 219.5,557.2 220.2,555.3 221.0,553.4 221.8,551.8 222.5,550.3 223.2,549.1 224.0,548.0 224.8,547.0 225.5,546.2 226.2,545.6 227.0,545.2 227.8,544.8 228.5,544.6 229.2,544.5 230.0,544.4 230.8,544.4 231.5,544.4 232.2,544.5 233.0,544.7 233.8,545.0 234.5,545.5 235.2,546.1 236.0,546.9 236.8,547.8 237.5,549.0 238.2,550.3 239.0,551.9 239.8,553.6 240.5,555.6 241.2,557.7 242.0,560.0 242.8,562.5 243.5,565.2 244.2,568.0 245.0,570.9 245.8,574.0 246.5,577.2 247.2,580.5 248.0,583.9 248.8,587.3 249.5,590.7 250.2,594.1 251.0,597.6 251.8,600.9 252.5,604.3 253.2,607.5 254.0,610.6 254.8,613.6 255.5,616.5 256.2,619.2 257.0,621.7 257.8,624.0 258.5,626.0 259.2,627.9 260.0,629.5 260.8,630.8 261.5,631.8 262.2,632.6 263.0,633.1 263.8,633.3 264.5,633.2 265.2,632.8 266.0,632.0 266.8,631.0 267.5,629.7 268.2,628.0 269.0,626.1 269.8,623.9 270.5,621.5 271.2,618.8 272.0,615.9 272.8,612.9 273.5,609.7 274.2,606.3 275.0,602.8 275.8,599.2 276.5,595.6 277.2,591.9 278.0,588.2 278.8,584.6 279.5,580.9 280.2,577.4 281.0,573.9 281.8,570.5 282.5,567.2 283.2,564.1 284.0,561.2 284.8,558.4 285.5,555.9 286.2,553.5 287.0,551.3 287.8,549.4 288.5,547.7 289.2,546.2 290.0,544.9 290.8,543.8 291.5,543.0 292.2,542.3 293.0,541.8 293.8,541.4 294.5,541.2 295.2,541.1 296.0,541.1 296.8,541.1 297.5,541.2 298.2,541.4 299.0,541.6 299.8,542.1 300.5,542.7 301.2,543.5 302.0,544.5 302.8,545.6 303.5,547.0 304.2,548.6 305.0,550.5 305.8,552.5 306.5,554.7 307.2,557.1 308.0,559.7 308.8,562.5 309.5,565.5 310.2,568.6 311.0,571.8 311.8,575.2 312.5,578.6 313.2,582.1 314.0,585.6 314.8,589.2 315.5,592.7 316.2,596.2 317.0,599.7 317.8,603.1 318.5,606.4 319.2,609.5 320.0,612.5 320.8,615.3 321.5,617.9 322.2,620.3 323.0,622.5 323.8,624.4 324.5,626.1 325.2,627.5 326.0,628.6 326.8,629.3 327.5,629.8 328.2,630.0 329.0,629.8 329.8,629.3 330.5,628.4 331.2,627.2 332.0,625.6 332.8,623.7 333.5,621.5 334.2,619.0 335.0,616.2 335.8,613.2 336.5,609.9 337.2,606.5 338.0,602.8 338.8,599.1 339.5,595.2 340.2,591.2 341.0,587.2 341.8,583.1 342.5,579.1 343.2,575.1 344.0,571.1 344.8,567.3 345.5,563.6 346.2,560.0 347.0,556.6 347.8,553.4 348.5,550.3 349.2,547.5 350.0,545.0 350.8,542.7 351.5,540.6 352.2,538.7 353.0,537.2 353.8,535.8 354.5,534.7 355.2,533.9 356.0,533.2 356.8,532.7 357.5,532.4 358.2,532.3 359.0,532.2 359.8,532.2 360.5,532.2 361.2,532.4 362.0,532.7 362.8,533.1 363.5,533.7 364.2,534.5 365.0,535.5 365.8,536.7 366.5,538.2 367.2,539.9 368.0,541.8 368.8,544.0 369.5,546.4 370.2,549.0 371.0,551.8 371.8,554.8 372.5,558.0 373.2,561.3 374.0,564.8 374.8,568.4 375.5,572.1 376.2,575.9 377.0,579.7 377.8,583.5 378.5,587.3 379.2,591.0 380.0,594.7 380.8,598.2 381.5,601.7 382.2,605.0 383.0,608.1 383.8,610.9 384.5,613.6 385.2,616.0 386.0,618.1 386.8,620.0 387.5,621.5 388.2,622.7 389.0,623.6 389.8,624.2 390.5,624.4 391.2,624.3 392.0,623.8 392.8,623.0 393.5,621.9 394.2,620.5 395.0,618.7 395.8,616.7 396.5,614.4 397.2,611.8 398.0,609.0 398.8,606.0 399.5,602.8 400.2,599.4 401.0,595.9 401.8,592.2 402.5,588.5 403.2,584.7 404.0,580.8 404.8,576.9 405.5,573.1 406.2,569.3 407.0,565.5 407.8,561.9 408.5,558.4 409.2,555.0 410.0,551.7 410.8,548.7 411.5,545.8 412.2,543.1 413.0,540.6 413.8,538.4 414.5,536.4 415.2,534.6 416.0,533.0 416.8,531.7 417.5,530.6 418.2,529.7 419.0,529.0 419.8,528.5 420.5,528.1 421.2,527.9 422.0,527.8 422.8,527.8 423.5,527.8 424.2,527.9 425.0,528.1 425.8,528.4 426.5,528.8 427.2,529.5 428.0,530.3 428.8,531.3 429.5,532.5 430.2,533.9 431.0,535.6 431.8,537.5 432.5,539.6 433.2,541.9 434.0,544.4 434.8,547.2 435.5,550.1 436.2,553.2 437.0,556.5 437.8,560.0 438.5,563.6 439.2,567.3 440.0,571.1 440.8,575.0 441.5,578.9 442.2,582.9 443.0,586.9 443.8,590.9 444.5,594.8 445.2,598.7 446.0,602.5 446.8,606.1 447.5,609.7 448.2,613.1 449.0,616.2 449.8,619.2 450.5,622.0 451.2,624.5 452.0,626.8 452.8,628.8 453.5,630.5 454.2,631.9 455.0,633.0 455.8,633.8 456.5,634.3 457.2,634.4 458.0,634.2 458.8,633.6 459.5,632.6 460.2,631.2 461.0,629.4 461.8,627.3 462.5,624.9 463.2,622.1 464.0,619.0 464.8,615.7 465.5,612.1 466.2,608.3 467.0,604.3 467.8,600.1 468.5,595.8 469.2,591.4 470.0,586.9 470.8,582.4 471.5,577.8 472.2,573.3 473.0,568.9 473.8,564.5 474.5,560.3 475.2,556.1 476.0,552.2 476.8,548.4 477.5,544.9 478.2,541.5 479.0,538.4 479.8,535.6 480.5,533.0 481.2,530.7 482.0,528.7 482.8,526.9 483.5,525.4 484.2,524.1 485.0,523.1 485.8,522.4 486.5,521.8 487.2,521.4 488.0,521.2 488.8,521.1 489.5,521.1 490.2,521.1 491.0,521.2 491.8,521.4 492.5,521.8 493.2,522.3 494.0,523.0 494.8,523.9 495.5,525.0 496.2,526.4 497.0,527.9 497.8,529.7 498.5,531.7 499.2,534.0 500.0,536.4 500.8,539.1 501.5,542.0 502.2,545.1 503.0,548.4 503.8,551.9 504.5,555.5 505.2,559.2 506.0,563.0 506.8,566.9 507.5,570.9 508.2,574.9 509.0,579.0 509.8,583.0 510.5,587.0 511.2,590.9 512.0,594.7 512.8,598.4 513.5,601.9 514.2,605.3 515.0,608.5 515.8,611.4 516.5,614.2 517.2,616.6 518.0,618.8 518.8,620.8 519.5,622.4 520.2,623.7 521.0,624.6 521.8,625.3 522.5,625.6 523.2,625.5 524.0,625.1 524.8,624.3 525.5,623.0 526.2,621.4 527.0,619.5 527.8,617.2 528.5,614.6 529.2,611.6 530.0,608.4 530.8,604.9 531.5,601.2 532.2,597.3 533.0,593.2 533.8,589.0 534.5,584.7 535.2,580.3 536.0,575.9 536.8,571.5 537.5,567.1 538.2,562.8 539.0,558.6 539.8,554.5 540.5,550.5 541.2,546.7 542.0,543.1 542.8,539.8 543.5,536.6 544.2,533.7 545.0,531.1 545.8,528.8 546.5,526.7 547.2,524.9 548.0,523.3 548.8,522.0 549.5,521.0 550.2,520.2 551.0,519.6 551.8,519.2 552.5,519.0 553.2,518.9 554.0,518.9 554.8,518.9 555.5,519.0 556.2,519.2 557.0,519.5 557.8,519.9 558.5,520.5 559.2,521.3 560.0,522.2 560.8,523.4 561.5,524.7 562.2,526.3 563.0,528.0 563.8,530.0 564.5,532.2 565.2,534.5 566.0,537.1 566.8,539.9 567.5,542.8 568.2,545.9 569.0,549.2 569.8,552.6 570.5,556.2 571.2,559.9 572.0,563.6 572.8,567.5 573.5,571.4 574.2,575.4 575.0,579.3 575.8,583.3 576.5,587.3 577.2,591.2 578.0,595.0 578.8,598.8 579.5,602.4 580.2,605.9 581.0,609.3 581.8,612.5 582.5,615.5 583.2,618.3 584.0,620.9 584.8,623.2 585.5,625.3 586.2,627.2 587.0,628.7 587.8,630.0 588.5,631.0 589.2,631.7 590.0,632.1 590.8,632.2 591.5,631.9 592.2,631.0 593.0,629.8 593.8,628.0 594.5,625.9 595.2,623.3 596.0,620.3 596.8,617.0 597.5,613.3 598.2,609.3 599.0,605.0 599.8,600.5 600.5,595.9 601.2,591.1 602.0,586.1 602.8,581.1 603.5,576.1 604.2,571.1 605.0,566.2 605.8,561.4 606.5,556.7 607.2,552.2 608.0,547.9 608.8,543.8 609.5,540.0 610.2,536.4 611.0,533.2 611.8,530.3 612.5,527.7 613.2,525.4 614.0,523.5 614.8,521.9 615.5,520.5 616.2,519.5 617.0,518.8 617.8,518.3 618.5,518.0 619.2,517.8 620.0,517.8 620.8,517.8 621.5,517.9 622.2,518.1 623.0,518.3 623.8,518.7 624.5,519.3 625.2,520.0 626.0,520.9 626.8,522.0 627.5,523.3 628.2,524.8 629.0,526.5 629.8,528.4 630.5,530.5 631.2,532.8 632.0,535.3 632.8,538.0 633.5,540.9 634.2,543.9 635.0,547.1 635.8,550.4 636.5,553.9 637.2,557.5 638.0,561.2 638.8,564.9 639.5,568.8 640.2,572.6 641.0,576.5 641.8,580.4 642.5,584.3 643.2,588.1 644.0,591.9 644.8,595.6 645.5,599.2 646.2,602.7 647.0,606.0 647.8,609.2 648.5,612.1 649.2,614.9 650.0,617.5 650.8,619.8 651.5,621.9 652.2,623.8 653.0,625.3 653.8,626.6 654.5,627.6 655.2,628.3 656.0,628.8 656.8,628.9 657.5,628.6 658.2,627.6 659.0,626.1 659.8,624.0 660.5,621.3 661.2,618.1 662.0,614.5 662.8,610.4 663.5,605.8 664.2,601.0 665.0,595.9 665.8,590.5 666.5,584.9 667.2,579.2 668.0,573.5 668.8,567.7 669.5,562.0 670.2,556.4 671.0,551.0 671.8,545.8 672.5,540.9 673.2,536.2 674.0,531.9 674.8,528.0 675.5,524.4 676.2,521.3 677.0,518.6 677.8,516.2 678.5,514.3 679.2,512.8 680.0,511.7 680.8,510.9 681.5,510.3 682.2,510.1 683.0,510.0 683.8,510.0 684.5,510.1 685.2,510.2 686.0,510.5 686.8,510.9 687.5,511.5 688.2,512.2 689.0,513.2 689.8,514.4 690.5,515.8 691.2,517.4 692.0,519.3 692.8,521.3 693.5,523.7 694.2,526.2 695.0,529.0 695.8,531.9 696.5,535.1 697.2,538.5 698.0,542.1 698.8,545.8 699.5,549.6 700.2,553.6 701.0,557.7 701.8,561.9 702.5,566.2 703.2,570.4 704.0,574.7 704.8,579.0 705.5,583.3 706.2,587.5 707.0,591.6 707.8,595.6 708.5,599.5 709.2,603.2 710.0,606.8 710.8,610.1 711.5,613.2 712.2,616.1 713.0,618.8 713.8,621.1 714.5,623.2 715.2,624.9 716.0,626.4 716.8,627.5 717.5,628.3 718.2,628.8 719.0,628.9 719.8,628.6 720.5,628.0 721.2,626.9 722.0,625.4 722.8,623.5 723.5,621.3 724.2,618.6 725.0,615.7 725.8,612.4 726.5,608.8 727.2,605.0 728.0,600.9 728.8,596.6 729.5,592.1 730.2,587.5 731.0,582.7 731.8,577.8 732.5,572.9 733.2,568.0 734.0,563.0 734.8,558.1 735.5,553.3 736.2,548.6 737.0,544.0 737.8,539.6 738.5,535.3 739.2,531.2 740.0,527.4 740.8,523.8 741.5,520.4 742.2,517.3 743.0,514.5 743.8,512.0 744.5,509.8 745.2,507.8 746.0,506.1 746.8,504.7 747.5,503.6 748.2,502.7 749.0,502.0 749.8,501.6 750.5,501.3 751.2,501.1 752.0,501.1 752.8,501.1 753.5,501.2 754.2,501.4 755.0,501.8 755.8,502.3 756.5,503.1 757.2,504.2 758.0,505.4 758.8,507.0 759.5,508.9 760.2,511.0 761.0,513.4 761.8,516.1 762.5,519.1 763.2,522.3 764.0,525.8 764.8,529.5 765.5,533.5 766.2,537.6 767.0,542.0 767.8,546.5 768.5,551.1 769.2,555.8 770.0,560.5 770.8,565.3 771.5,570.1 772.2,574.9 773.0,579.6 773.8,584.2 774.5,588.6 775.2,592.9 776.0,597.0 776.8,600.8 777.5,604.4 778.2,607.7 779.0,610.6 779.8,613.3 780.5,615.6 781.2,617.5 782.0,619.0 782.8,620.1 783.5,620.8 784.2,621.1 785.0,620.9 785.8,620.2 786.5,619.0 787.2,617.2 788.0,615.0 788.8,612.2 789.5,609.0 790.2,605.4 791.0,601.4 791.8,597.0 792.5,592.3 793.2,587.4 794.0,582.2 794.8,576.8 795.5,571.3 796.2,565.8 797.0,560.2 797.8,554.6 798.5,549.1 799.2,543.7 800.0,538.5 800.8,533.4 801.5,528.6 802.2,524.1 803.0,519.8 803.8,515.9 804.5,512.3 805.2,509.1 806.0,506.2 806.8,503.7 807.5,501.6 808.2,499.8 809.0,498.4 809.8,497.3 810.5,496.5 811.2,496.0 812.0,495.7 812.8,495.6 813.5,495.6 814.2,495.6 815.0,495.7 815.8,495.9 816.5,496.3 817.2,496.7 818.0,497.4 818.8,498.2 819.5,499.2 820.2,500.4 821.0,501.8 821.8,503.4 822.5,505.3 823.2,507.3 824.0,509.6 824.8,512.0 825.5,514.7 826.2,517.6 827.0,520.6 827.8,523.9 828.5,527.3 829.2,530.8 830.0,534.5 830.8,538.3 831.5,542.2 832.2,546.1 833.0,550.2 833.8,554.2 834.5,558.3 835.2,562.4 836.0,566.5 836.8,570.5 837.5,574.4 838.2,578.3 839.0,582.0 839.8,585.6 840.5,589.1 841.2,592.3 842.0,595.4 842.8,598.3 843.5,600.9 844.2,603.3 845.0,605.4 845.8,607.3 846.5,608.8 847.2,610.1 848.0,611.1 848.8,611.8 849.5,612.1 850.2,612.2 851.0,611.9 851.8,611.3 852.5,610.3 853.2,609.0 854.0,607.4 854.8,605.5 855.5,603.2 856.2,600.7 857.0,597.9 857.8,594.8 858.5,591.5 859.2,588.0 860.0,584.2 860.8,580.3 861.5,576.2 862.2,571.9 863.0,567.6 863.8,563.1 864.5,558.6 865.2,554.0 866.0,549.4 866.8,544.8 867.5,540.2 868.2,535.6 869.0,531.1 869.8,526.7 870.5,522.4 871.2,518.3 872.0,514.2 872.8,510.4 873.5,506.7 874.2,503.2 875.0,499.9 875.8,496.8 876.5,493.9 877.2,491.3 878.0,488.9 878.8,486.7 879.5,484.8 880.2,483.1 881.0,481.6 881.8,480.3 882.5,479.3 883.2,478.5 884.0,477.8 884.8,477.3 885.5,477.0 886.2,476.8 887.0,476.7 887.8,476.7 888.5,476.7 889.2,476.9 890.0,477.3 890.8,477.9 891.5,478.8 892.2,480.1 893.0,481.7 893.8,483.8 894.5,486.2 895.2,489.1 896.0,492.3 896.8,495.9 897.5,499.9 898.2,504.3 899.0,509.0 899.8,514.0 900.5,519.3 901.2,524.7 902.0,530.4 902.8,536.2 903.5,542.0 904.2,547.9 905.0,553.7 905.8,559.4 906.5,565.0 907.2,570.4 908.0,575.5 908.8,580.4 909.5,584.8 910.2,588.9 911.0,592.5 911.8,595.7 912.5,598.3 913.2,600.4 914.0,602.0 914.8,602.9 915.5,603.3 916.2,603.2 917.0,602.8 917.8,602.1 918.5,601.1 919.2,599.8 920.0,598.2 920.8,596.4 921.5,594.3 922.2,592.0 923.0,589.4 923.8,586.6 924.5,583.6 925.2,580.4 926.0,577.1 926.8,573.6 927.5,569.9 928.2,566.2 929.0,562.3 929.8,558.4 930.5,554.4 931.2,550.4 932.0,546.4 932.8,542.4 933.5,538.4 934.2,534.4 935.0,530.6 935.8,526.8 936.5,523.1 937.2,519.6 938.0,516.1 938.8,512.9 939.5,509.8 940.2,506.8 941.0,504.1 941.8,501.5 942.5,499.1 943.2,496.9 944.0,495.0 944.8,493.2 945.5,491.6 946.2,490.3 947.0,489.1 947.8,488.2 948.5,487.4 949.2,486.7 950.0,486.3 950.8,485.9 951.5,485.7 952.2,485.6 953.0,485.6 953.8,485.6 954.5,485.6 955.2,485.7 956.0,485.9 956.8,486.2 957.5,486.6 958.2,487.2 959.0,487.9 959.8,488.7 960.5,489.7 961.2,490.8 962.0,492.2 962.8,493.6 963.5,495.3 964.2,497.1 965.0,499.1 965.8,501.3 966.5,503.6 967.2,506.0 968.0,508.6 968.8,511.4 969.5,514.2 970.2,517.2 971.0,520.2 971.8,523.4 972.5,526.6 973.2,529.8 974.0,533.1" fill="none" stroke="#000000" stroke-width="6.5" stroke-dasharray="5 5" stroke-linejoin="round" clip-path="url(#c2)"/>
<rect x="131.0" y="90.5" width="843.0" height="164.3" fill="none" stroke="#3a3a3a" stroke-width="1.8"/>
<path d="M131.0,254.8v-9M131.0,90.5v9M299.6,254.8v-9M299.6,90.5v9M468.2,254.8v-9M468.2,90.5v9M636.8,254.8v-9M636.8,90.5v9M805.4,254.8v-9M805.4,90.5v9M974.0,254.8v-9M974.0,90.5v9M131.0,113.3h9M974.0,113.3h-9M131.0,174.6h9M974.0,174.6h-9M131.0,235.8h9M974.0,235.8h-9" stroke="#3a3a3a" stroke-width="1.8" fill="none"/>
<rect x="131.0" y="284.4" width="843.0" height="164.90000000000003" fill="none" stroke="#3a3a3a" stroke-width="1.8"/>
<path d="M131.0,449.3v-9M131.0,284.4v9M299.6,449.3v-9M299.6,284.4v9M468.2,449.3v-9M468.2,284.4v9M636.8,449.3v-9M636.8,284.4v9M805.4,449.3v-9M805.4,284.4v9M974.0,449.3v-9M974.0,284.4v9M131.0,288.5h9M974.0,288.5h-9M131.0,318.2h9M974.0,318.2h-9M131.0,347.9h9M974.0,347.9h-9M131.0,377.6h9M974.0,377.6h-9M131.0,407.3h9M974.0,407.3h-9M131.0,437.0h9M974.0,437.0h-9" stroke="#3a3a3a" stroke-width="1.8" fill="none"/>
<rect x="131.0" y="476.5" width="843.0" height="164.5" fill="none" stroke="#3a3a3a" stroke-width="1.8"/>
<path d="M131.0,641.0v-9M131.0,476.5v9M299.6,641.0v-9M299.6,476.5v9M468.2,641.0v-9M468.2,476.5v9M636.8,641.0v-9M636.8,476.5v9M805.4,641.0v-9M805.4,476.5v9M974.0,641.0v-9M974.0,476.5v9M131.0,535.4h9M974.0,535.4h-9M131.0,641.0h9M974.0,641.0h-9" stroke="#3a3a3a" stroke-width="1.8" fill="none"/>
<text x="114.4" y="125.3" font-family='"Liberation Serif", serif' font-size="33" fill="#262626" text-anchor="end" >0.2</text>
<text x="119.9" y="186.6" font-family='"Liberation Serif", serif' font-size="33" fill="#262626" text-anchor="end" >0</text>
<text x="111.3" y="247.8" font-family='"Liberation Serif", serif' font-size="33" fill="#262626" text-anchor="end" >0.2</text>
<rect x="63.1" y="238.40" width="8" height="2.2" fill="#262626"/>
<text x="114.4" y="300.5" font-family='"Liberation Serif", serif' font-size="33" fill="#262626" text-anchor="end" >0.6</text>
<text x="114.4" y="330.2" font-family='"Liberation Serif", serif' font-size="33" fill="#262626" text-anchor="end" >0.4</text>
<text x="114.4" y="359.9" font-family='"Liberation Serif", serif' font-size="33" fill="#262626" text-anchor="end" >0.2</text>
<text x="119.9" y="389.6" font-family='"Liberation Serif", serif' font-size="33" fill="#262626" text-anchor="end" >0</text>
<text x="111.3" y="419.3" font-family='"Liberation Serif", serif' font-size="33" fill="#262626" text-anchor="end" >0.2</text>
<rect x="63.1" y="409.90" width="8" height="2.2" fill="#262626"/>
<text x="111.3" y="449.0" font-family='"Liberation Serif", serif' font-size="33" fill="#262626" text-anchor="end" >0.4</text>
<rect x="63.1" y="439.60" width="8" height="2.2" fill="#262626"/>
<text x="119.9" y="547.4" font-family='"Liberation Serif", serif' font-size="33" fill="#262626" text-anchor="end" >3</text>
<text x="119.9" y="653.0" font-family='"Liberation Serif", serif' font-size="33" fill="#262626" text-anchor="end" >2</text>
<text x="128.0" y="678.3" font-family='"Liberation Serif", serif' font-size="33" fill="#262626" text-anchor="middle" >0</text>
<text x="295.8" y="678.3" font-family='"Liberation Serif", serif' font-size="33" fill="#262626" text-anchor="middle" >10</text>
<text x="463.1" y="678.3" font-family='"Liberation Serif", serif' font-size="33" fill="#262626" text-anchor="middle" >20</text>
<text x="631.6" y="678.3" font-family='"Liberation Serif", serif' font-size="33" fill="#262626" text-anchor="middle" >30</text>
<text x="799.8" y="678.3" font-family='"Liberation Serif", serif' font-size="33" fill="#262626" text-anchor="middle" >40</text>
<text x="968.6" y="678.3" font-family='"Liberation Serif", serif' font-size="33" fill="#262626" text-anchor="middle" >50</text>
<rect x="143.9" y="20.9" width="817.5" height="41.6" fill="#ffffff" stroke="#262626" stroke-width="2"/>
<line x1="153.4" y1="41.5" x2="257.5" y2="41.5" stroke="#0072BD" stroke-width="6"/>
<line x1="410.1" y1="41.5" x2="515" y2="41.5" stroke="#D95319" stroke-width="6" stroke-dasharray="20 5 10 5"/>
<line x1="717.6" y1="41.5" x2="825" y2="41.5" stroke="#000000" stroke-width="6" stroke-dasharray="5 5"/>
<text x="264.20" y="48.00" font-family='"Liberation Serif", serif' font-size="30.00" fill="#000000" textLength="83.11" lengthAdjust="spacingAndGlyphs" >coarse,</text>
<text x="356.90" y="48.00" font-family='"Liberation Serif", serif' font-size="30.00" fill="#000000" textLength="22.14" lengthAdjust="spacingAndGlyphs" >Δ</text>
<text x="378.11" y="48.00" font-family='"Liberation Serif", serif' font-size="31.00" font-style="italic" fill="#000000" textLength="10.36" lengthAdjust="spacingAndGlyphs" >t</text>
<text x="521.60" y="48.00" font-family='"Liberation Serif", serif' font-size="30.00" fill="#000000" textLength="106.42" lengthAdjust="spacingAndGlyphs" >medium,</text>
<text x="636.80" y="48.00" font-family='"Liberation Serif", serif' font-size="30.00" fill="#000000" textLength="22.94" lengthAdjust="spacingAndGlyphs" >Δ</text>
<text x="657.90" y="48.00" font-family='"Liberation Serif", serif' font-size="31.00" font-style="italic" fill="#000000" textLength="10.46" lengthAdjust="spacingAndGlyphs" >t</text>
<line x1="671.2" y1="55.2" x2="682.3" y2="28.2" stroke="#000" stroke-width="1.7"/>
<text x="684.15" y="48.00" font-family='"Liberation Serif", serif' font-size="30.00" fill="#000000" textLength="14.90" lengthAdjust="spacingAndGlyphs" >2</text>
<text x="829.00" y="48.00" font-family='"Liberation Serif", serif' font-size="30.00" fill="#000000" textLength="52.04" lengthAdjust="spacingAndGlyphs" >fine,</text>
<text x="890.00" y="48.00" font-family='"Liberation Serif", serif' font-size="30.00" fill="#000000" textLength="22.34" lengthAdjust="spacingAndGlyphs" >Δ</text>
<text x="910.50" y="48.00" font-family='"Liberation Serif", serif' font-size="31.00" font-style="italic" fill="#000000" textLength="10.86" lengthAdjust="spacingAndGlyphs" >t</text>
<line x1="925.2" y1="55.0" x2="935.5" y2="27.8" stroke="#000" stroke-width="1.7"/>
<text x="936.10" y="48.00" font-family='"Liberation Serif", serif' font-size="30.00" fill="#000000" textLength="15.60" lengthAdjust="spacingAndGlyphs" >3</text>
<g transform="translate(46.0,204.4) rotate(-90) scale(0.963,1.07)" fill="none" stroke="#262626" stroke-linecap="round"><path d="M0.6,-9.9 C1.5,-13.6 3.5,-15.2 5.3,-15.2 C7.4,-15.2 8.9,-14.2 8.9,-12.8" stroke-width="1.3"/><path d="M8.9,-13 L6.9,-2.6" stroke-width="2.3"/><path d="M6.9,-2.4 C6.4,-0.4 5.0,0.2 3.6,0.2 C2.4,0.2 1.4,-0.6 1.4,-2.6" stroke-width="1.3"/><path d="M14.6,-12.6 C14.6,-14.5 13.3,-15.2 11.9,-15.2 C10.4,-15.2 9.3,-14.2 8.9,-12.8" stroke-width="1.3"/><path d="M6.9,-2.6 C7.2,-0.5 8.5,0.2 9.9,0.2 C12.3,0.2 14.4,-2.5 15.2,-5.3" stroke-width="1.3"/><circle cx="1.7" cy="-2.7" r="1.5" fill="#262626" stroke="none"/><circle cx="14.4" cy="-12.6" r="1.5" fill="#262626" stroke="none"/></g>
<path d="M24.60,200.20 C22.60,198.12 22.60,196.04 23.60,195.00 S24.60,191.88 22.60,189.80" fill="none" stroke="#262626" stroke-width="1.7" stroke-linecap="round"/>
<path d="M19.40,166.50V170.00H53.90V166.50M19.40,147.20V143.70H53.90V147.20" fill="none" stroke="#262626" stroke-width="1.7"/>
<line x1="36.20" y1="165.10" x2="36.20" y2="148.30" stroke="#262626" stroke-width="1.4"/>
<text transform="translate(44.60,402.12) rotate(-90)" x="0" y="0" font-family='"Liberation Serif", serif' font-size="34.00" font-style="italic" fill="#262626" >c</text>
<text transform="translate(50.90,388.22) rotate(-90)" x="0" y="0" font-family='"Liberation Serif", serif' font-size="24.00" font-style="italic" fill="#262626" >l</text>
<path d="M19.40,358.80V362.30H53.60V358.80M19.40,339.00V335.50H53.60V339.00" fill="none" stroke="#262626" stroke-width="1.7"/>
<line x1="36.20" y1="357.50" x2="36.20" y2="340.20" stroke="#262626" stroke-width="1.4"/>
<text transform="translate(87.50,596.52) rotate(-90)" x="0" y="0" font-family='"Liberation Serif", serif' font-size="34.00" font-style="italic" fill="#262626" >c</text>
<text transform="translate(94.10,581.72) rotate(-90)" x="0" y="0" font-family='"Liberation Serif", serif' font-size="24.00" font-style="italic" fill="#262626" >d</text>
<path d="M62.10,548.80V552.30H96.70V548.80M62.10,528.10V524.60H96.70V528.10" fill="none" stroke="#262626" stroke-width="1.7"/>
<line x1="79.00" y1="547.50" x2="79.00" y2="530.00" stroke="#262626" stroke-width="1.4"/>
<text x="466.91" y="714.70" font-family='"Liberation Serif", serif' font-size="33.00" font-style="italic" fill="#262626" >t</text>
<path d="M471.60,688.00 C473.66,685.90 475.72,685.90 476.75,686.95 S479.84,688.00 481.90,685.90" fill="none" stroke="#262626" stroke-width="1.7" stroke-linecap="round"/>
<line x1="490.6" y1="706" x2="511.6" y2="706" stroke="#262626" stroke-width="1.6"/>
<text x="521.81" y="714.70" font-family='"Liberation Serif", serif' font-size="33.00" font-style="italic" fill="#262626" >t</text>
<path d="M525.90,688.00 C527.98,685.90 530.06,685.90 531.10,686.95 S534.22,688.00 536.30,685.90" fill="none" stroke="#262626" stroke-width="1.7" stroke-linecap="round"/>
<text x="535.44" y="720.20" font-family='"Liberation Serif", serif' font-size="26.50" fill="#262626" textLength="52.96" lengthAdjust="spacingAndGlyphs" >trans</text>
<path d="M608.30,688.80H604.80V724.00H608.30M630.30,688.80H633.80V724.00H630.30" fill="none" stroke="#262626" stroke-width="1.7"/>
<line x1="611.00" y1="705.40" x2="627.70" y2="705.40" stroke="#262626" stroke-width="1.4"/>
<text x="487.15" y="782.00" font-family='"Liberation Serif", serif' font-size="41.20" fill="#000000" textLength="47.40" lengthAdjust="spacingAndGlyphs" >(a)</text>
<text x="1449.25" y="782.00" font-family='"Liberation Serif", serif' font-size="41.20" fill="#000000" textLength="48.95" lengthAdjust="spacingAndGlyphs" >(b)</text>
<line x1="1329.4" y1="96.0" x2="1329.4" y2="640.8" stroke="#DFDFDF" stroke-width="1.4"/>
<line x1="1526.5" y1="96.0" x2="1526.5" y2="640.8" stroke="#DFDFDF" stroke-width="1.4"/>
<line x1="1723.4" y1="96.0" x2="1723.4" y2="640.8" stroke="#DFDFDF" stroke-width="1.4"/>
<line x1="1180.4" y1="173.83" x2="1871.8" y2="173.83" stroke="#DFDFDF" stroke-width="1.4"/>
<line x1="1180.4" y1="251.66" x2="1871.8" y2="251.66" stroke="#DFDFDF" stroke-width="1.4"/>
<line x1="1180.4" y1="329.49" x2="1871.8" y2="329.49" stroke="#DFDFDF" stroke-width="1.4"/>
<line x1="1180.4" y1="485.14" x2="1871.8" y2="485.14" stroke="#DFDFDF" stroke-width="1.4"/>
<line x1="1180.4" y1="562.97" x2="1871.8" y2="562.97" stroke="#DFDFDF" stroke-width="1.4"/>
<rect x="1279.0" y="407.31" width="45.00" height="185.29" fill="#0072BD" stroke="#000" stroke-width="1.8"/>
<rect x="1334.7" y="167.30" width="45.40" height="240.01" fill="#D95319" stroke="#000" stroke-width="1.8"/>
<rect x="1475.4" y="393.90" width="45.20" height="13.41" fill="#0072BD" stroke="#000" stroke-width="1.8"/>
<rect x="1531.7" y="276.80" width="45.40" height="130.51" fill="#D95319" stroke="#000" stroke-width="1.8"/>
<rect x="1672.1" y="293.60" width="45.40" height="113.71" fill="#0072BD" stroke="#000" stroke-width="1.8"/>
<rect x="1728.4" y="285.10" width="45.40" height="122.21" fill="#D95319" stroke="#000" stroke-width="1.8"/>
<line x1="1180.4" y1="407.31" x2="1871.8" y2="407.31" stroke="#3a3a3a" stroke-width="1.6"/>
<rect x="1180.4" y="96.0" width="691.40" height="544.80" fill="none" stroke="#3a3a3a" stroke-width="1.6"/>
<path d="M1329.4,640.8v-7.5M1329.4,96.0v7.5M1526.5,640.8v-7.5M1526.5,96.0v7.5M1723.4,640.8v-7.5M1723.4,96.0v7.5M1180.4,640.80h7.5M1871.8,640.80h-7.5M1180.4,562.97h7.5M1871.8,562.97h-7.5M1180.4,485.14h7.5M1871.8,485.14h-7.5M1180.4,407.31h7.5M1871.8,407.31h-7.5M1180.4,329.49h7.5M1871.8,329.49h-7.5M1180.4,251.66h7.5M1871.8,251.66h-7.5M1180.4,173.83h7.5M1871.8,173.83h-7.5M1180.4,96.00h7.5M1871.8,96.00h-7.5" stroke="#3a3a3a" stroke-width="1.8" fill="none"/>
<text x="1167.0" y="649.40" font-family='"Liberation Serif", serif' font-size="33.5" fill="#262626" text-anchor="end" >3</text>
<rect x="1140.0" y="642.00" width="8.6" height="2.2" fill="#262626"/>
<text x="1167.0" y="571.57" font-family='"Liberation Serif", serif' font-size="33.5" fill="#262626" text-anchor="end" >2</text>
<rect x="1140.0" y="564.17" width="8.6" height="2.2" fill="#262626"/>
<text x="1167.0" y="493.74" font-family='"Liberation Serif", serif' font-size="33.5" fill="#262626" text-anchor="end" >1</text>
<rect x="1140.0" y="486.34" width="8.6" height="2.2" fill="#262626"/>
<text x="1167.0" y="415.91" font-family='"Liberation Serif", serif' font-size="33.5" fill="#262626" text-anchor="end" >0</text>
<text x="1167.0" y="338.09" font-family='"Liberation Serif", serif' font-size="33.5" fill="#262626" text-anchor="end" >1</text>
<text x="1167.0" y="260.26" font-family='"Liberation Serif", serif' font-size="33.5" fill="#262626" text-anchor="end" >2</text>
<text x="1167.0" y="182.43" font-family='"Liberation Serif", serif' font-size="33.5" fill="#262626" text-anchor="end" >3</text>
<text x="1167.0" y="104.60" font-family='"Liberation Serif", serif' font-size="33.5" fill="#262626" text-anchor="end" >4</text>
<rect x="1548.0" y="109.6" width="304.1" height="82.4" fill="#ffffff" stroke="#262626" stroke-width="1.6"/>
<rect x="1556.6" y="118.6" width="91.0" height="26.8" fill="#0072BD" stroke="#000" stroke-width="1.8"/>
<rect x="1556.6" y="156.5" width="91.0" height="26.6" fill="#D95319" stroke="#000" stroke-width="1.8"/>
<text x="1654.02" y="139.30" font-family='"Liberation Serif", serif' font-size="32.00" fill="#000000" textLength="89.92" lengthAdjust="spacingAndGlyphs" >coarse,</text>
<text x="1753.52" y="139.30" font-family='"Liberation Serif", serif' font-size="32.00" fill="#000000" textLength="21.70" lengthAdjust="spacingAndGlyphs" >Δ</text>
<text x="1778.64" y="139.30" font-family='"Liberation Serif", serif' font-size="32.50" font-style="italic" fill="#000000" textLength="9.60" lengthAdjust="spacingAndGlyphs" >t</text>
<text x="1654.66" y="176.50" font-family='"Liberation Serif", serif' font-size="32.00" fill="#000000" textLength="113.99" lengthAdjust="spacingAndGlyphs" >medium,</text>
<text x="1778.82" y="176.50" font-family='"Liberation Serif", serif' font-size="32.00" fill="#000000" textLength="24.10" lengthAdjust="spacingAndGlyphs" >Δ</text>
<text x="1803.34" y="176.50" font-family='"Liberation Serif", serif' font-size="32.50" font-style="italic" fill="#000000" textLength="9.60" lengthAdjust="spacingAndGlyphs" >t</text>
<line x1="1815.9" y1="184.6" x2="1827.7" y2="154.3" stroke="#000" stroke-width="1.8"/>
<text x="1828.66" y="176.50" font-family='"Liberation Serif", serif' font-size="32.00" fill="#000000" textLength="16.80" lengthAdjust="spacingAndGlyphs" >2</text>
<text x="1252.04" y="682.30" font-family='"Liberation Serif", serif' font-size="33.00" fill="#262626" textLength="62.34" lengthAdjust="spacingAndGlyphs" >max</text>
<text x="1315.54" y="683.30" font-family='"Liberation Serif", serif' font-size="37.00" fill="#262626" textLength="11.29" lengthAdjust="spacingAndGlyphs" >(</text>
<g transform="translate(1328.7,682.3)" fill="none" stroke="#262626" stroke-linecap="round"><path d="M0.6,-9.9 C1.5,-13.6 3.5,-15.2 5.3,-15.2 C7.4,-15.2 8.9,-14.2 8.9,-12.8" stroke-width="1.3"/><path d="M8.9,-13 L6.9,-2.6" stroke-width="2.3"/><path d="M6.9,-2.4 C6.4,-0.4 5.0,0.2 3.6,0.2 C2.4,0.2 1.4,-0.6 1.4,-2.6" stroke-width="1.3"/><path d="M14.6,-12.6 C14.6,-14.5 13.3,-15.2 11.9,-15.2 C10.4,-15.2 9.3,-14.2 8.9,-12.8" stroke-width="1.3"/><path d="M6.9,-2.6 C7.2,-0.5 8.5,0.2 9.9,0.2 C12.3,0.2 14.4,-2.5 15.2,-5.3" stroke-width="1.3"/><circle cx="1.7" cy="-2.7" r="1.5" fill="#262626" stroke="none"/><circle cx="14.4" cy="-12.6" r="1.5" fill="#262626" stroke="none"/></g>
<path d="M1332.80,662.60 C1334.88,660.60 1336.96,660.60 1338.00,661.60 S1341.12,662.60 1343.20,660.60" fill="none" stroke="#262626" stroke-width="1.7" stroke-linecap="round"/>
<text x="1347.29" y="683.30" font-family='"Liberation Serif", serif' font-size="37.00" fill="#262626" textLength="11.10" lengthAdjust="spacingAndGlyphs" >)</text>
<path d="M1378.80,657.00H1375.30V690.20H1378.80M1397.70,657.00H1401.20V690.20H1397.70" fill="none" stroke="#262626" stroke-width="1.7"/>
<line x1="1380.00" y1="673.00" x2="1396.40" y2="673.00" stroke="#262626" stroke-width="1.4"/>
<text x="1483.81" y="682.30" font-family='"Liberation Serif", serif' font-size="33.00" font-style="italic" fill="#262626" textLength="17.94" lengthAdjust="spacingAndGlyphs" >σ</text>
<text x="1503.21" y="687.10" font-family='"Liberation Serif", serif' font-size="23.00" font-style="italic" fill="#262626" textLength="10.69" lengthAdjust="spacingAndGlyphs" >c</text>
<text x="1512.71" y="690.80" font-family='"Liberation Serif", serif' font-size="18.00" font-style="italic" fill="#262626" >l</text>
<path d="M1541.30,657.20H1537.80V690.10H1541.30M1559.80,657.20H1563.30V690.10H1559.80" fill="none" stroke="#262626" stroke-width="1.7"/>
<line x1="1542.20" y1="673.00" x2="1558.80" y2="673.00" stroke="#262626" stroke-width="1.4"/>
<line x1="1685.5" y1="662.8" x2="1714.0" y2="662.8" stroke="#262626" stroke-width="1.7"/>
<text x="1685.21" y="682.30" font-family='"Liberation Serif", serif' font-size="33.00" font-style="italic" fill="#262626" textLength="14.88" lengthAdjust="spacingAndGlyphs" >c</text>
<text x="1700.11" y="686.80" font-family='"Liberation Serif", serif' font-size="23.00" font-style="italic" fill="#262626" textLength="12.59" lengthAdjust="spacingAndGlyphs" >d</text>
<path d="M1733.20,657.20H1729.70V690.10H1733.20M1751.90,657.20H1755.40V690.10H1751.90" fill="none" stroke="#262626" stroke-width="1.7"/>
<line x1="1734.40" y1="673.00" x2="1750.70" y2="673.00" stroke="#262626" stroke-width="1.4"/>
<text transform="translate(1118.50,408.52) rotate(-90)" x="0" y="0" font-family='"Liberation Serif", serif' font-size="36.00" font-style="italic" fill="#262626" textLength="15.37" lengthAdjust="spacingAndGlyphs" >ε</text>
<text transform="translate(1118.50,367.96) rotate(-90)" x="0" y="0" font-family='"Liberation Serif", serif' font-size="36.00" fill="#262626" textLength="29.15" lengthAdjust="spacingAndGlyphs" >%</text>
<path d="M1089.60,370.40V373.90H1126.40V370.40M1089.60,336.50V333.00H1126.40V336.50" fill="none" stroke="#262626" stroke-width="1.7"/>
<line x1="1110.00" y1="369.00" x2="1110.00" y2="369.00" stroke="#262626" stroke-width="0"/>
</svg></body></html>
